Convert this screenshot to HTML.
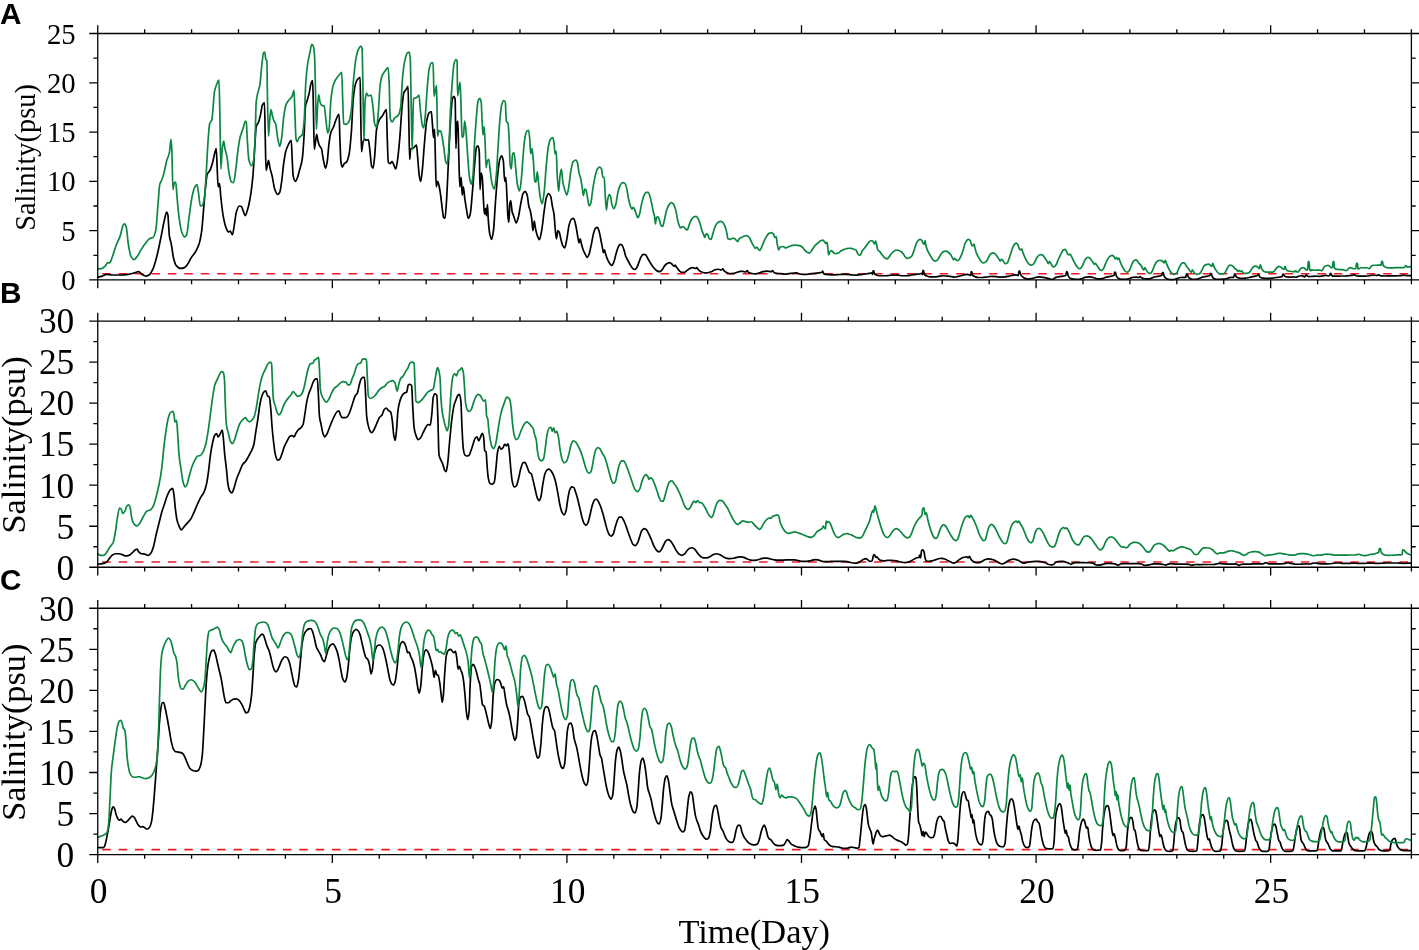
<!DOCTYPE html>
<html><head><meta charset="utf-8"><title>Salinity time series</title>
<style>html,body{margin:0;padding:0;background:#fff}svg{display:block}</style></head>
<body>
<svg width="1419" height="950" viewBox="0 0 1419 950">
<rect width="1419" height="950" fill="#fff"/>
<path d="M102.2,273.68 H1408.2" fill="none" stroke="#ed1c24" stroke-width="1.6" stroke-dasharray="8.5 7.922"/>
<path d="M97.75,277.18C99.27,276.81 100.80,276.54 102.32,276.08C103.69,275.67 105.06,274.44 106.43,274.44C108.25,274.44 110.08,274.99 111.91,274.99C114.64,274.99 117.38,274.99 120.12,274.99C122.86,274.99 125.60,274.74 128.34,274.44C130.16,274.24 131.99,273.55 133.81,273.07C135.45,272.64 137.10,271.70 138.74,271.70C139.84,271.70 140.93,273.84 142.03,274.44C143.40,275.19 144.76,276.08 146.13,276.08C147.32,276.08 148.51,275.30 149.69,274.44C150.79,273.64 151.88,271.37 152.98,268.96C154.35,265.96 155.72,260.60 157.09,255.27C158.46,249.95 159.82,242.72 161.19,236.11C162.29,230.81 163.38,224.13 164.48,219.68C165.21,216.70 165.94,212.01 166.67,212.01C167.04,212.01 167.40,212.99 167.77,214.20C168.31,216.01 168.86,232.51 169.41,236.11C170.05,240.30 170.69,241.08 171.33,244.32C172.06,248.02 172.79,255.15 173.52,258.01C174.43,261.59 175.34,264.65 176.25,265.68C177.62,267.22 178.99,268.42 180.36,268.42C181.73,268.42 183.10,268.07 184.47,267.59C185.66,267.18 186.84,265.17 188.03,263.49C189.12,261.93 190.22,259.16 191.31,257.46C192.68,255.34 194.05,254.25 195.42,251.99C196.61,250.02 197.79,247.96 198.98,244.32C199.89,241.52 200.81,237.13 201.72,230.63C202.36,226.08 203.00,216.02 203.64,208.72C204.28,201.42 204.91,192.57 205.55,186.82C206.10,181.88 206.65,175.94 207.20,174.50C208.11,172.08 209.02,172.21 209.93,170.39C210.85,168.56 211.76,165.44 212.67,162.17C213.40,159.56 214.13,155.15 214.86,152.59C215.32,150.99 215.78,148.48 216.23,148.48C216.51,148.48 216.78,159.43 217.05,164.91C217.42,172.21 217.78,186.82 218.15,186.82C218.61,186.82 219.06,183.53 219.52,183.53C219.97,183.53 220.43,193.65 220.89,197.77C221.71,205.18 222.53,212.57 223.35,216.94C224.26,221.79 225.18,225.59 226.09,227.89C226.82,229.73 227.55,232.00 228.28,232.00C228.92,232.00 229.56,231.18 230.20,231.18C230.93,231.18 231.66,234.74 232.39,234.74C233.03,234.74 233.67,228.69 234.30,225.15C235.03,221.11 235.76,213.72 236.50,211.46C237.41,208.64 238.32,205.98 239.23,205.98C239.96,205.98 240.69,206.19 241.42,206.53C242.06,206.83 242.70,209.97 243.34,211.46C243.98,212.95 244.62,215.57 245.26,215.57C245.99,215.57 246.72,212.41 247.45,210.09C248.36,207.19 249.27,203.03 250.19,197.77C251.10,192.51 252.01,185.73 252.92,175.86C253.56,168.96 254.20,155.17 254.84,145.74C255.30,139.01 255.75,128.18 256.21,126.58C256.94,124.01 257.67,124.28 258.40,122.47C259.04,120.89 259.68,118.28 260.32,115.62C261.05,112.59 261.78,106.01 262.51,104.67C263.15,103.50 263.79,102.48 264.42,102.48C264.70,102.48 264.97,126.22 265.25,137.53C265.52,148.84 265.79,170.39 266.07,170.39C266.52,170.39 266.98,166.79 267.44,164.91C267.80,163.40 268.17,160.26 268.53,160.26C268.99,160.26 269.45,165.60 269.90,167.65C270.63,170.93 271.36,172.75 272.09,175.86C273.00,179.76 273.92,187.14 274.83,189.56C275.74,191.97 276.66,194.48 277.57,194.48C278.30,194.48 279.03,193.56 279.76,192.29C280.40,191.19 281.04,185.74 281.68,181.34C282.41,176.32 283.14,167.20 283.87,162.17C284.51,157.78 285.14,153.49 285.78,151.22C286.70,147.97 287.61,146.09 288.52,144.37C289.43,142.66 290.35,140.27 291.26,140.27C291.53,140.27 291.81,151.57 292.08,156.70C292.45,163.53 292.81,174.12 293.18,175.86C293.91,179.35 294.64,181.34 295.37,181.34C296.10,181.34 296.83,179.04 297.56,177.23C298.20,175.65 298.84,172.79 299.47,170.39C300.39,166.95 301.30,165.18 302.21,159.43C302.85,155.41 303.49,145.12 304.13,134.79C304.59,127.41 305.04,108.72 305.50,106.04C306.05,102.82 306.59,102.45 307.14,100.56C307.78,98.36 308.42,96.37 309.06,93.72C309.79,90.69 310.52,84.47 311.25,82.76C311.71,81.70 312.16,80.57 312.62,80.57C312.89,80.57 313.17,98.91 313.44,110.15C313.71,121.38 313.99,149.30 314.26,149.30C314.63,149.30 314.99,145.21 315.36,143.01C315.81,140.25 316.27,134.24 316.73,134.24C317.09,134.24 317.46,138.73 317.82,140.27C318.37,142.58 318.92,144.64 319.46,145.74C320.10,147.03 320.74,147.02 321.38,148.48C322.02,149.94 322.66,156.42 323.30,159.43C324.03,162.88 324.76,168.20 325.49,168.20C326.04,168.20 326.58,165.08 327.13,162.17C327.77,158.78 328.41,147.65 329.05,143.01C329.69,138.36 330.32,134.00 330.96,132.05C331.88,129.27 332.79,128.83 333.70,126.58C334.29,125.12 334.88,122.54 335.48,121.10C336.66,118.21 337.85,114.25 339.04,114.25C339.31,114.25 339.58,130.62 339.86,137.53C340.22,146.74 340.59,159.84 340.95,162.17C341.41,165.08 341.87,167.10 342.32,167.10C342.96,167.10 343.60,164.15 344.24,163.54C344.97,162.85 345.70,162.91 346.43,162.17C347.34,161.25 348.25,158.26 349.17,153.96C349.90,150.52 350.63,141.33 351.36,132.05C352.00,123.93 352.64,105.52 353.27,99.19C354.01,91.96 354.74,86.73 355.47,84.13C356.10,81.86 356.74,80.27 357.38,79.48C358.29,78.35 359.21,77.29 360.12,77.29C360.30,77.29 360.49,100.06 360.67,110.15C360.94,125.28 361.22,151.77 361.49,151.77C361.95,151.77 362.40,144.87 362.86,143.01C363.32,141.14 363.77,138.90 364.23,138.90C364.87,138.90 365.51,140.27 366.14,140.27C366.87,140.27 367.60,139.72 368.34,139.72C368.88,139.72 369.43,146.87 369.98,151.22C370.53,155.57 371.07,164.98 371.62,166.28C372.08,167.36 372.53,168.20 372.99,168.20C373.54,168.20 374.09,161.80 374.63,156.70C375.27,150.75 375.91,133.04 376.55,129.31C377.46,123.99 378.38,121.44 379.29,119.73C380.38,117.68 381.48,117.14 382.57,115.62C383.85,113.85 385.13,109.60 386.41,109.60C386.68,109.60 386.96,130.04 387.23,137.53C387.59,147.51 387.96,161.62 388.32,162.17C388.96,163.14 389.60,163.54 390.24,163.54C390.88,163.54 391.52,161.63 392.16,161.63C392.71,161.63 393.25,163.78 393.80,164.91C394.44,166.23 395.08,169.02 395.72,169.02C396.36,169.02 397.00,163.66 397.63,159.43C398.36,154.60 399.09,145.98 399.82,137.53C400.55,129.07 401.29,114.67 402.02,107.41C402.65,101.06 403.29,93.75 403.93,92.35C404.66,90.75 405.39,90.67 406.12,89.61C406.76,88.68 407.40,86.32 408.04,86.32C408.31,86.32 408.59,111.66 408.86,123.84C409.13,136.01 409.41,159.43 409.68,159.43C410.05,159.43 410.41,148.48 410.78,148.48C411.23,148.48 411.69,148.48 412.15,148.48C412.88,148.48 413.61,147.65 414.34,147.11C415.07,146.58 415.80,145.20 416.53,145.20C416.89,145.20 417.26,152.68 417.62,156.70C418.17,162.73 418.72,172.65 419.27,175.86C419.72,178.54 420.18,181.34 420.64,181.34C421.18,181.34 421.73,175.08 422.28,170.39C423.01,164.13 423.74,151.12 424.47,143.01C425.20,134.89 425.93,124.79 426.66,121.10C427.48,116.95 428.30,113.74 429.12,112.88C429.85,112.13 430.58,111.52 431.31,111.52C431.68,111.52 432.04,119.51 432.41,123.84C432.77,128.16 433.14,137.53 433.50,137.53C433.87,137.53 434.24,129.31 434.60,129.31C434.87,129.31 435.15,149.87 435.42,159.43C435.70,169.00 435.97,186.82 436.24,186.82C436.70,186.82 437.16,181.34 437.61,181.34C438.07,181.34 438.53,183.66 438.98,185.45C439.53,187.60 440.08,191.27 440.62,195.03C441.17,198.79 441.72,204.77 442.27,208.72C442.72,212.01 443.18,216.98 443.64,217.49C444.09,217.99 444.55,218.31 445.01,218.31C445.46,218.31 445.92,209.62 446.37,203.25C447.01,194.32 447.65,177.69 448.29,164.91C449.02,150.31 449.75,131.66 450.48,121.10C451.12,111.86 451.76,101.29 452.40,99.19C452.86,97.70 453.31,96.46 453.77,96.46C454.22,96.46 454.68,97.28 455.14,99.19C455.41,100.34 455.68,148.48 455.96,148.48C456.23,148.48 456.51,125.15 456.78,123.84C457.14,122.08 457.51,121.10 457.88,121.10C458.15,121.10 458.42,141.76 458.70,151.22C459.06,163.84 459.43,186.82 459.79,186.82C460.25,186.82 460.70,177.23 461.16,177.23C461.53,177.23 461.89,195.03 462.26,195.03C462.62,195.03 462.99,186.82 463.35,186.82C463.81,186.82 464.26,194.44 464.72,197.77C465.27,201.76 465.82,205.58 466.36,208.72C467.00,212.39 467.64,218.31 468.28,218.31C468.92,218.31 469.56,216.42 470.20,214.20C470.93,211.66 471.66,200.41 472.39,192.29C473.12,184.18 473.85,172.67 474.58,164.91C475.22,158.13 475.86,148.22 476.50,147.11C476.95,146.32 477.41,145.74 477.86,145.74C478.32,145.74 478.78,147.60 479.23,151.22C479.51,153.39 479.78,189.56 480.05,189.56C480.42,189.56 480.78,173.13 481.15,173.13C481.52,173.13 481.88,174.95 482.25,177.23C482.61,179.52 482.98,191.69 483.34,197.77C483.71,203.85 484.07,214.20 484.44,214.20C484.80,214.20 485.17,208.72 485.53,208.72C485.81,208.72 486.08,215.57 486.35,215.57C486.72,215.57 487.08,204.62 487.45,204.62C487.72,204.62 488.00,216.04 488.27,219.68C488.73,225.73 489.18,231.12 489.64,233.37C490.28,236.51 490.92,239.39 491.56,239.39C492.19,239.39 492.83,235.05 493.47,230.63C494.11,226.20 494.75,211.78 495.39,203.25C496.12,193.50 496.85,182.71 497.58,175.86C498.31,169.02 499.04,161.58 499.77,159.43C500.41,157.56 501.05,155.88 501.69,155.88C502.23,155.88 502.78,158.01 503.33,160.80C503.79,163.13 504.24,181.34 504.70,181.34C505.06,181.34 505.43,177.23 505.79,177.23C506.16,177.23 506.52,188.49 506.89,195.03C507.25,201.58 507.62,213.37 507.98,216.94C508.26,219.61 508.53,222.41 508.81,222.41C509.17,222.41 509.54,205.23 509.90,203.25C510.18,201.76 510.45,200.51 510.72,200.51C511.18,200.51 511.64,209.49 512.09,211.46C512.73,214.22 513.37,215.15 514.01,216.94C514.74,218.98 515.47,222.96 516.20,222.96C516.93,222.96 517.66,219.61 518.39,216.94C519.21,213.94 520.03,207.26 520.85,203.25C521.58,199.68 522.31,194.97 523.04,193.66C523.68,192.52 524.32,191.47 524.96,191.47C525.69,191.47 526.42,193.07 527.15,195.03C527.70,196.51 528.25,203.55 528.80,205.98C529.34,208.42 529.89,209.09 530.44,211.46C530.89,213.43 531.35,216.22 531.81,219.68C532.17,222.44 532.54,230.63 532.90,230.63C533.36,230.63 533.82,221.04 534.27,221.04C534.64,221.04 535.00,226.04 535.37,227.89C535.91,230.67 536.46,233.22 537.01,234.74C537.83,237.01 538.65,239.66 539.47,239.66C540.20,239.66 540.93,234.54 541.66,230.63C542.49,226.23 543.31,217.14 544.13,211.46C544.86,206.41 545.59,199.88 546.32,197.77C547.05,195.66 547.78,193.66 548.51,193.66C549.24,193.66 549.97,194.85 550.70,196.40C551.25,197.56 551.80,203.04 552.34,205.98C552.89,208.93 553.44,210.28 553.99,214.20C554.44,217.46 554.90,226.45 555.36,230.63C555.72,233.97 556.09,238.84 556.45,238.84C556.91,238.84 557.36,230.63 557.82,230.63C558.28,230.63 558.73,231.28 559.19,232.00C559.74,232.87 560.28,236.73 560.83,238.84C561.47,241.31 562.11,244.58 562.75,245.69C563.39,246.80 564.03,247.88 564.67,247.88C565.40,247.88 566.13,242.47 566.86,238.84C567.59,235.21 568.32,227.74 569.05,225.15C569.87,222.24 570.69,219.65 571.51,219.13C572.24,218.66 572.97,218.31 573.70,218.31C574.48,218.31 575.25,223.06 576.02,226.52C576.57,228.97 577.12,233.16 577.67,236.11C578.12,238.56 578.58,242.95 579.04,242.95C579.40,242.95 579.77,238.84 580.13,238.84C580.59,238.84 581.04,242.66 581.50,244.32C582.05,246.32 582.60,248.36 583.14,249.80C583.78,251.47 584.42,252.72 585.06,253.90C585.79,255.26 586.52,257.46 587.25,257.46C587.89,257.46 588.53,255.55 589.17,253.90C589.90,252.02 590.63,247.73 591.36,244.32C592.09,240.91 592.82,235.83 593.55,233.37C594.19,231.21 594.83,229.04 595.47,228.44C596.10,227.84 596.74,227.34 597.38,227.34C598.02,227.34 598.66,229.89 599.30,232.00C599.85,233.80 600.39,237.47 600.94,240.21C601.40,242.49 601.85,244.78 602.31,247.06C602.68,248.88 603.04,252.53 603.41,252.53C603.77,252.53 604.14,249.80 604.50,249.80C604.87,249.80 605.23,252.70 605.60,253.90C606.24,256.00 606.87,257.93 607.51,259.38C608.24,261.04 608.97,262.54 609.70,263.49C610.34,264.32 610.98,265.40 611.62,265.40C612.35,265.40 613.08,263.68 613.81,262.12C614.54,260.55 615.27,256.39 616.00,253.90C616.73,251.41 617.46,248.48 618.19,247.06C618.83,245.82 619.47,244.32 620.11,244.32C620.75,244.32 621.39,244.68 622.03,245.14C622.67,245.61 623.30,247.95 623.94,249.80C624.58,251.64 625.22,255.06 625.86,256.64C626.59,258.45 627.32,259.38 628.05,260.75C628.78,262.12 629.51,263.64 630.24,264.86C630.97,266.07 631.70,267.50 632.43,268.14C633.16,268.79 633.89,269.51 634.62,269.51C635.35,269.51 636.08,268.54 636.81,267.59C637.54,266.65 638.27,263.94 639.00,262.12C639.73,260.29 640.46,257.68 641.19,256.64C641.92,255.60 642.65,254.45 643.38,254.45C644.11,254.45 644.84,254.55 645.58,254.73C646.21,254.88 646.85,256.93 647.49,258.01C648.31,259.40 649.13,260.77 649.96,262.12C650.69,263.32 651.42,264.65 652.15,265.68C652.88,266.71 653.61,267.65 654.34,268.42C655.25,269.38 656.16,270.47 657.08,270.88C657.99,271.29 658.90,271.70 659.81,271.70C660.64,271.70 661.46,270.44 662.28,269.51C663.10,268.58 663.92,266.61 664.74,265.68C665.56,264.75 666.39,263.89 667.21,263.49C668.03,263.09 668.85,262.67 669.67,262.67C670.40,262.67 671.13,263.47 671.86,264.04C672.59,264.60 673.32,266.23 674.05,266.23C674.42,266.23 674.78,265.13 675.15,265.13C675.70,265.13 676.24,266.84 676.79,267.59C677.52,268.59 678.25,269.67 678.98,270.33C679.89,271.16 680.81,272.25 681.72,272.25C682.63,272.25 683.55,272.25 684.46,272.25C685.37,272.25 686.28,270.97 687.20,270.33C688.11,269.69 689.02,268.80 689.93,268.42C690.85,268.03 691.76,267.59 692.67,267.59C693.59,267.59 694.50,268.42 695.41,268.42C695.87,268.42 696.32,267.59 696.78,267.59C697.24,267.59 697.69,269.03 698.15,269.51C699.06,270.47 699.97,271.27 700.89,271.70C701.98,272.22 703.08,272.80 704.17,272.80C705.27,272.80 706.36,272.80 707.46,272.80C708.65,272.80 709.83,272.14 711.02,271.70C712.21,271.26 713.39,270.49 714.58,270.06C715.49,269.73 716.40,269.24 717.32,269.24C718.05,269.24 718.78,269.38 719.51,269.51C720.05,269.61 720.60,270.06 721.15,270.06C721.70,270.06 722.25,268.96 722.79,268.96C723.25,268.96 723.71,270.45 724.16,270.88C724.98,271.65 725.81,272.17 726.63,272.52C727.81,273.03 729.00,273.62 730.19,273.62C731.37,273.62 732.56,273.49 733.75,273.35C734.84,273.21 735.94,272.56 737.03,272.25C738.13,271.94 739.22,271.43 740.32,271.43C741.23,271.43 742.14,271.43 743.06,271.43C743.97,271.43 744.88,271.98 745.79,271.98C746.25,271.98 746.71,270.61 747.16,270.61C747.62,270.61 748.08,272.28 748.53,272.52C749.45,273.01 750.36,273.16 751.27,273.35C752.46,273.59 753.64,273.89 754.83,273.89C756.20,273.89 757.57,273.41 758.94,273.07C760.31,272.73 761.68,271.99 763.04,271.70C764.23,271.45 765.42,271.15 766.60,271.15C767.52,271.15 768.43,271.32 769.34,271.43C769.98,271.50 770.62,271.70 771.26,271.70C771.72,271.70 772.17,270.61 772.63,270.61C773.09,270.61 773.54,272.28 774.00,272.52C774.91,273.01 775.82,273.24 776.74,273.35C778.11,273.50 779.47,273.50 780.84,273.62C782.21,273.74 783.58,274.17 784.95,274.17C786.32,274.17 787.69,273.80 789.06,273.62C790.43,273.44 791.80,273.20 793.17,273.07C794.35,272.96 795.54,272.80 796.73,272.80C797.36,272.80 798.00,273.44 798.64,273.62C800.01,274.01 801.38,274.44 802.75,274.44C804.12,274.44 805.49,274.44 806.86,274.44C808.23,274.44 809.59,273.79 810.96,273.62C812.99,273.37 815.02,273.32 817.05,273.10C818.22,272.96 819.40,272.79 820.57,272.57C821.04,272.48 821.51,272.43 821.98,272.21C822.22,272.10 822.45,271.16 822.68,271.16C822.98,271.16 823.27,273.23 823.57,273.45C824.33,274.02 825.09,274.20 825.86,274.33C827.03,274.52 828.21,274.61 829.38,274.68C830.85,274.77 832.32,274.86 833.78,274.86C835.25,274.86 836.72,274.76 838.19,274.68C839.66,274.60 841.13,274.33 842.59,274.33C844.06,274.33 845.53,274.33 847.00,274.33C848.47,274.33 849.93,274.72 851.40,274.86C852.87,275.00 854.34,275.21 855.81,275.21C857.28,275.21 858.74,274.88 860.21,274.68C861.68,274.48 863.15,274.18 864.62,273.98C866.08,273.77 867.55,273.67 869.02,273.45C869.90,273.31 870.78,272.92 871.66,272.92C871.96,272.92 872.25,274.33 872.54,274.33C872.72,274.33 872.90,270.80 873.07,270.80C873.31,270.80 873.54,270.80 873.78,270.80C874.01,270.80 874.25,273.73 874.48,273.98C875.30,274.84 876.13,275.01 876.95,275.21C878.12,275.49 879.30,275.74 880.47,275.74C881.94,275.74 883.41,275.74 884.88,275.74C886.34,275.74 887.81,275.50 889.28,275.39C890.75,275.27 892.22,275.03 893.69,275.03C895.15,275.03 896.62,275.12 898.09,275.21C899.56,275.30 901.03,275.74 902.49,275.74C903.96,275.74 905.43,275.74 906.90,275.74C908.37,275.74 909.84,275.27 911.30,275.03C912.77,274.80 914.24,274.51 915.71,274.33C916.88,274.19 918.06,274.14 919.23,273.98C920.05,273.86 920.88,273.45 921.70,273.45C921.93,273.45 922.17,274.68 922.40,274.68C922.58,274.68 922.76,270.45 922.93,270.45C923.17,270.45 923.40,270.58 923.64,270.80C923.81,270.97 923.99,273.67 924.16,273.98C924.87,275.19 925.57,275.41 926.28,275.74C927.45,276.28 928.63,276.71 929.80,276.79C931.27,276.90 932.74,276.97 934.21,276.97C935.68,276.97 937.14,276.64 938.61,276.44C940.08,276.24 941.55,275.74 943.02,275.74C944.48,275.74 945.95,275.95 947.42,276.09C948.89,276.23 950.36,276.39 951.83,276.62C952.71,276.75 953.59,277.15 954.47,277.15C955.64,277.15 956.82,276.70 957.99,276.44C959.17,276.18 960.34,275.86 961.52,275.56C962.69,275.27 963.86,274.88 965.04,274.68C965.92,274.53 966.80,274.33 967.68,274.33C968.27,274.33 968.86,274.79 969.44,275.03C969.85,275.20 970.27,275.56 970.68,275.56C970.85,275.56 971.03,271.69 971.21,271.69C971.44,271.69 971.67,271.91 971.91,272.21C972.14,272.51 972.38,274.90 972.61,275.21C973.32,276.13 974.02,276.35 974.73,276.62C975.90,277.06 977.08,277.50 978.25,277.50C979.72,277.50 981.19,277.50 982.66,277.50C984.12,277.50 985.59,277.15 987.06,276.97C988.53,276.79 990.00,276.44 991.47,276.44C992.93,276.44 994.40,276.53 995.87,276.62C997.34,276.71 998.81,277.15 1000.27,277.15C1001.74,277.15 1003.21,277.07 1004.68,276.97C1006.15,276.87 1007.62,276.38 1009.08,276.09C1010.55,275.80 1012.02,275.44 1013.49,275.21C1014.37,275.07 1015.25,274.86 1016.13,274.86C1016.84,274.86 1017.54,275.56 1018.25,275.56C1018.48,275.56 1018.72,271.16 1018.95,271.16C1019.24,271.16 1019.54,271.16 1019.83,271.16C1020.07,271.16 1020.30,273.81 1020.54,274.33C1021.12,275.61 1021.71,276.09 1022.30,276.62C1023.18,277.41 1024.06,278.10 1024.94,278.38C1026.11,278.75 1027.29,279.09 1028.46,279.09C1029.64,279.09 1030.81,278.79 1031.99,278.56C1033.16,278.32 1034.34,277.73 1035.51,277.50C1036.69,277.26 1037.86,276.97 1039.03,276.97C1040.21,276.97 1041.38,277.18 1042.56,277.32C1043.73,277.46 1044.91,277.62 1046.08,277.85C1047.26,278.09 1048.43,278.70 1049.61,278.91C1050.49,279.07 1051.37,279.26 1052.25,279.26C1053.13,279.26 1054.01,278.89 1054.89,278.20C1055.02,278.10 1055.15,277.56 1055.29,277.50C1056.17,277.11 1057.05,277.15 1057.93,276.97C1058.81,276.79 1059.69,276.58 1060.57,276.44C1061.45,276.30 1062.33,276.26 1063.21,276.09C1064.09,275.92 1064.98,275.87 1065.86,275.21C1066.09,275.03 1066.33,271.69 1066.56,271.69C1066.85,271.69 1067.15,271.89 1067.44,272.21C1067.68,272.47 1067.91,275.20 1068.15,275.74C1068.68,276.94 1069.20,277.48 1069.73,277.85C1070.50,278.39 1071.26,278.78 1072.02,278.91C1073.20,279.11 1074.37,279.26 1075.55,279.26C1076.72,279.26 1077.90,279.26 1079.07,279.26C1079.95,279.26 1080.83,279.11 1081.71,278.91C1082.30,278.78 1082.89,278.07 1083.47,277.85C1084.36,277.52 1085.24,277.22 1086.12,277.15C1087.29,277.05 1088.47,276.97 1089.64,276.97C1090.82,276.97 1091.99,277.26 1093.16,277.50C1093.93,277.66 1094.69,277.96 1095.45,278.20C1096.16,278.43 1096.86,278.91 1097.57,278.91C1098.74,278.91 1099.92,278.91 1101.09,278.91C1101.97,278.91 1102.85,278.50 1103.74,278.20C1104.50,277.94 1105.26,277.35 1106.03,277.15C1107.02,276.89 1108.02,276.81 1109.02,276.62C1109.90,276.45 1110.78,276.30 1111.66,276.09C1112.43,275.90 1113.19,275.91 1113.95,275.39C1114.19,275.23 1114.42,272.21 1114.66,272.21C1114.95,272.21 1115.25,272.34 1115.54,272.57C1115.77,272.74 1116.01,275.22 1116.24,275.74C1116.77,276.91 1117.30,277.47 1117.83,277.85C1118.71,278.49 1119.59,279.00 1120.47,279.09C1121.65,279.20 1122.82,279.26 1124.00,279.26C1125.17,279.26 1126.34,279.19 1127.52,279.09C1128.40,279.01 1129.28,278.50 1130.16,278.20C1131.04,277.91 1131.92,277.40 1132.80,277.32C1133.98,277.22 1135.15,277.15 1136.33,277.15C1137.21,277.15 1138.09,277.50 1138.97,277.50C1139.38,277.50 1139.79,276.62 1140.20,276.62C1140.67,276.62 1141.14,277.61 1141.61,277.85C1142.49,278.30 1143.38,278.65 1144.26,278.73C1145.43,278.84 1146.61,278.91 1147.78,278.91C1148.95,278.91 1150.13,278.52 1151.30,278.20C1152.18,277.97 1153.07,277.38 1153.95,277.15C1154.83,276.91 1155.71,276.79 1156.59,276.62C1157.47,276.44 1158.35,276.27 1159.23,276.09C1160.05,275.92 1160.88,275.96 1161.70,275.56C1161.93,275.45 1162.17,272.57 1162.40,272.57C1162.70,272.57 1162.99,272.57 1163.28,272.57C1163.52,272.57 1163.75,275.18 1163.99,275.74C1164.46,276.86 1164.93,277.46 1165.40,277.85C1166.28,278.58 1167.16,279.11 1168.04,279.26C1169.22,279.47 1170.39,279.61 1171.56,279.61C1172.74,279.61 1173.91,279.45 1175.09,279.26C1175.97,279.12 1176.85,278.49 1177.73,278.20C1178.61,277.92 1179.49,277.58 1180.37,277.50C1181.43,277.40 1182.49,277.32 1183.54,277.32C1184.25,277.32 1184.95,277.50 1185.66,277.50C1185.95,277.50 1186.25,273.98 1186.54,273.98C1186.83,273.98 1187.13,274.32 1187.42,274.68C1187.71,275.04 1188.01,276.59 1188.30,276.97C1188.89,277.73 1189.48,278.10 1190.06,278.38C1190.94,278.81 1191.83,279.26 1192.71,279.26C1193.88,279.26 1195.06,279.26 1196.23,279.26C1197.40,279.26 1198.58,278.61 1199.75,278.20C1200.63,277.90 1201.52,277.38 1202.40,277.15C1203.28,276.91 1204.16,276.79 1205.04,276.62C1205.92,276.44 1206.80,276.30 1207.68,276.09C1208.44,275.90 1209.21,275.88 1209.97,275.39C1210.21,275.23 1210.44,273.45 1210.68,273.45C1210.97,273.45 1211.26,273.89 1211.56,274.33C1211.85,274.77 1212.14,276.51 1212.44,276.97C1212.91,277.70 1213.38,278.13 1213.85,278.38C1214.73,278.84 1215.61,279.26 1216.49,279.26C1217.67,279.26 1218.84,279.26 1220.01,279.26C1221.19,279.26 1222.36,279.17 1223.54,279.09C1224.42,279.02 1225.30,278.90 1226.18,278.73C1227.06,278.57 1227.94,278.07 1228.82,277.85C1229.70,277.63 1230.58,277.32 1231.47,277.32C1232.23,277.32 1232.99,277.50 1233.76,277.50C1233.99,277.50 1234.23,273.98 1234.46,273.98C1234.75,273.98 1235.05,274.34 1235.34,274.68C1235.64,275.03 1235.93,276.34 1236.22,276.62C1236.99,277.34 1237.75,277.67 1238.51,277.85C1239.69,278.14 1240.86,278.38 1242.04,278.38C1243.21,278.38 1244.39,278.30 1245.56,278.20C1246.73,278.11 1247.91,277.76 1249.08,277.50C1250.26,277.24 1251.43,276.88 1252.61,276.62C1253.49,276.42 1254.37,276.28 1255.25,276.09C1256.01,275.93 1256.78,275.90 1257.54,275.56C1257.83,275.43 1258.13,274.33 1258.42,274.33C1258.72,274.33 1259.01,275.66 1259.30,276.09C1259.71,276.70 1260.12,277.31 1260.54,277.50C1261.42,277.91 1262.30,278.14 1263.18,278.20C1264.65,278.31 1266.11,278.38 1267.58,278.38C1269.05,278.38 1270.52,278.30 1271.99,278.20C1273.46,278.11 1274.92,277.73 1276.39,277.50C1277.57,277.32 1278.74,277.19 1279.92,276.97C1280.68,276.83 1281.44,276.83 1282.21,276.44C1282.44,276.32 1282.68,273.98 1282.91,273.98C1283.20,273.98 1283.50,274.37 1283.79,274.68C1284.09,274.99 1284.38,275.89 1284.67,276.09C1285.44,276.61 1286.20,276.90 1286.96,276.97C1288.14,277.08 1289.31,277.15 1290.49,277.15C1291.66,277.15 1292.84,276.79 1294.01,276.79C1294.64,276.79 1295.28,277.27 1295.91,277.27C1296.67,277.27 1297.42,276.59 1298.18,276.36C1299.09,276.09 1300.00,275.73 1300.91,275.73C1301.67,275.73 1302.42,275.95 1303.18,276.18C1303.64,276.32 1304.09,276.91 1304.55,276.91C1304.85,276.91 1305.15,276.11 1305.45,275.73C1305.70,275.42 1305.94,274.82 1306.18,274.82C1306.55,274.82 1306.91,275.80 1307.27,276.00C1307.88,276.33 1308.48,276.64 1309.09,276.64C1310.00,276.64 1310.91,276.43 1311.82,276.36C1313.03,276.28 1314.24,276.18 1315.45,276.18C1316.67,276.18 1317.88,276.36 1319.09,276.36C1319.85,276.36 1320.61,276.27 1321.36,276.18C1322.12,276.10 1322.88,275.83 1323.64,275.73C1324.55,275.60 1325.45,275.45 1326.36,275.45C1327.12,275.45 1327.88,276.00 1328.64,276.00C1329.03,276.00 1329.42,275.71 1329.82,275.27C1330.03,275.04 1330.24,273.27 1330.45,273.27C1330.67,273.27 1330.88,273.62 1331.09,273.91C1331.33,274.24 1331.58,275.27 1331.82,275.45C1332.42,275.91 1333.03,276.18 1333.64,276.18C1334.85,276.18 1336.06,276.18 1337.27,276.18C1338.48,276.18 1339.70,276.00 1340.91,276.00C1342.12,276.00 1343.33,276.00 1344.55,276.00C1345.76,276.00 1346.97,275.82 1348.18,275.73C1349.39,275.64 1350.61,275.62 1351.82,275.45C1352.42,275.37 1353.03,274.82 1353.64,274.82C1354.00,274.82 1354.36,274.82 1354.73,274.82C1355.12,274.82 1355.52,275.59 1355.91,275.73C1356.67,275.98 1357.42,276.18 1358.18,276.18C1359.70,276.18 1361.21,276.18 1362.73,276.18C1364.24,276.18 1365.76,276.10 1367.27,276.00C1368.48,275.92 1369.70,275.55 1370.91,275.45C1372.12,275.36 1373.33,275.27 1374.55,275.27C1375.45,275.27 1376.36,275.45 1377.27,275.45C1377.73,275.45 1378.18,274.64 1378.64,274.64C1378.94,274.64 1379.24,275.10 1379.55,275.27C1380.00,275.53 1380.45,275.89 1380.91,275.91C1382.42,275.98 1383.94,276.00 1385.45,276.00C1386.97,276.00 1388.48,275.91 1390.00,275.91C1391.52,275.91 1393.03,275.91 1394.55,275.91C1396.06,275.91 1397.58,275.81 1399.09,275.73C1400.15,275.67 1401.21,275.60 1402.27,275.45C1402.73,275.39 1403.18,275.09 1403.64,275.09C1404.09,275.09 1404.55,275.41 1405.00,275.45C1406.06,275.56 1407.12,275.64 1408.18,275.64C1409.15,275.64 1410.12,275.64 1411.09,275.64" fill="none" stroke="#000" stroke-width="1.7" stroke-linejoin="round" stroke-linecap="round"/>
<path d="M97.75,268.96C99.27,268.78 100.80,268.75 102.32,268.42C103.23,268.21 104.15,267.13 105.06,266.23C105.97,265.32 106.89,262.67 107.80,262.67C108.44,262.67 109.08,262.94 109.72,262.94C110.45,262.94 111.18,259.86 111.91,258.01C113.27,254.54 114.64,249.28 116.01,245.69C117.38,242.10 118.75,239.97 120.12,236.11C121.22,233.02 122.31,225.63 123.41,224.60C123.86,224.18 124.32,223.78 124.78,223.78C125.32,223.78 125.87,225.80 126.42,227.89C127.06,230.33 127.70,240.48 128.34,244.32C129.25,249.81 130.16,255.03 131.07,256.64C131.99,258.26 132.90,259.65 133.81,259.65C134.91,259.65 136.00,257.96 137.10,256.64C138.28,255.21 139.47,252.25 140.66,250.34C142.03,248.14 143.40,246.05 144.76,244.32C146.59,242.01 148.42,239.10 150.24,238.30C151.15,237.89 152.07,237.96 152.98,237.47C153.89,236.99 154.80,234.45 155.72,230.63C156.45,227.57 157.18,214.27 157.91,205.98C158.55,198.74 159.19,186.38 159.82,184.08C160.46,181.77 161.10,181.59 161.74,179.97C162.47,178.12 163.20,175.80 163.93,173.13C164.84,169.78 165.76,164.09 166.67,160.80C167.58,157.52 168.50,156.73 169.41,152.59C169.96,150.11 170.50,139.45 171.05,139.45C171.33,139.45 171.60,145.76 171.87,151.22C172.24,158.50 172.60,189.56 172.97,189.56C173.42,189.56 173.88,183.05 174.34,182.71C174.79,182.37 175.25,182.16 175.71,182.16C176.16,182.16 176.62,192.89 177.08,197.77C177.71,204.60 178.35,212.32 178.99,216.94C179.91,223.53 180.82,229.52 181.73,232.00C182.64,234.47 183.56,236.93 184.47,236.93C185.20,236.93 185.93,236.00 186.66,234.74C187.48,233.31 188.30,222.78 189.12,216.94C190.04,210.45 190.95,202.27 191.86,197.77C192.77,193.27 193.69,189.05 194.60,187.36C195.33,186.02 196.06,184.63 196.79,184.63C197.34,184.63 197.89,189.22 198.43,192.29C199.07,195.88 199.71,205.98 200.35,205.98C200.99,205.98 201.63,205.77 202.27,205.44C203.00,205.06 203.73,201.93 204.46,197.77C205.10,194.13 205.74,180.34 206.37,170.39C207.01,160.43 207.65,145.48 208.29,137.53C208.75,131.85 209.20,125.36 209.66,123.84C210.39,121.40 211.12,122.00 211.85,119.73C212.76,116.90 213.68,95.24 214.59,90.98C215.50,86.72 216.41,84.67 217.33,82.76C217.88,81.62 218.42,80.03 218.97,80.03C219.24,80.03 219.52,98.32 219.79,110.15C220.16,125.92 220.52,169.02 220.89,169.02C221.34,169.02 221.80,152.11 222.26,148.48C222.71,144.86 223.17,141.09 223.63,141.09C224.08,141.09 224.54,146.29 224.99,148.48C225.63,151.55 226.27,153.23 226.91,156.70C227.64,160.66 228.37,169.32 229.10,173.13C229.83,176.94 230.56,181.39 231.29,181.89C232.02,182.39 232.75,182.71 233.48,182.71C234.21,182.71 234.94,175.39 235.67,170.39C236.40,165.39 237.13,156.54 237.86,151.22C238.59,145.90 239.32,140.53 240.05,137.53C240.97,133.78 241.88,132.05 242.79,129.31C243.71,126.58 244.62,121.10 245.53,121.10C245.81,121.10 246.08,121.63 246.35,122.47C246.63,123.31 246.90,133.23 247.17,137.53C247.72,146.13 248.27,157.15 248.82,159.43C249.73,163.24 250.64,165.73 251.56,165.73C252.29,165.73 253.02,163.20 253.75,159.43C254.20,157.08 254.66,147.44 255.12,137.53C255.48,129.60 255.85,105.73 256.21,101.93C256.67,97.19 257.12,95.86 257.58,93.72C258.31,90.29 259.04,89.49 259.77,85.50C260.50,81.52 261.23,69.38 261.96,63.60C262.51,59.26 263.06,53.13 263.60,52.64C263.97,52.32 264.33,52.10 264.70,52.10C265.06,52.10 265.43,58.72 265.79,59.49C266.16,60.26 266.52,59.86 266.89,60.86C267.07,61.36 267.25,87.68 267.44,96.46C267.80,114.00 268.17,136.16 268.53,136.16C268.90,136.16 269.26,124.94 269.63,121.10C270.08,116.30 270.54,109.60 271.00,109.60C271.45,109.60 271.91,113.88 272.37,115.62C272.91,117.71 273.46,119.88 274.01,121.10C274.56,122.32 275.10,122.38 275.65,123.84C276.29,125.54 276.93,134.23 277.57,137.53C278.30,141.30 279.03,146.29 279.76,146.29C280.40,146.29 281.04,141.51 281.68,137.53C282.41,132.99 283.14,120.49 283.87,115.62C284.60,110.76 285.33,106.51 286.06,104.67C286.88,102.60 287.70,101.70 288.52,100.56C289.71,98.93 290.89,98.56 292.08,96.46C292.72,95.32 293.36,90.43 294.00,90.43C294.27,90.43 294.55,103.45 294.82,110.15C295.18,119.08 295.55,135.15 295.91,137.53C296.28,139.91 296.64,141.64 297.01,141.64C297.74,141.64 298.47,138.44 299.20,137.53C300.20,136.28 301.21,136.51 302.21,134.79C302.85,133.70 303.49,128.18 304.13,121.10C304.68,115.03 305.22,90.51 305.77,82.76C306.41,73.73 307.05,67.89 307.69,63.60C308.42,58.69 309.15,56.01 309.88,52.64C310.52,49.70 311.16,44.43 311.80,44.43C312.25,44.43 312.71,45.00 313.17,45.80C313.62,46.60 314.08,49.86 314.53,55.38C314.90,59.80 315.26,82.30 315.63,96.46C315.90,107.07 316.18,129.31 316.45,129.31C316.82,129.31 317.18,112.81 317.55,107.41C317.91,102.00 318.28,94.54 318.64,94.54C319.10,94.54 319.55,100.58 320.01,101.93C320.56,103.55 321.11,104.89 321.65,105.22C322.48,105.71 323.30,105.49 324.12,106.04C324.76,106.46 325.40,116.32 326.04,121.10C326.58,125.20 327.13,132.87 327.68,132.87C328.13,132.87 328.59,131.27 329.05,129.31C329.69,126.57 330.32,104.96 330.96,99.19C331.69,92.60 332.42,88.01 333.15,85.50C333.93,82.84 334.70,81.38 335.48,80.03C336.85,77.63 338.21,76.09 339.58,74.55C340.31,73.73 341.04,72.36 341.77,72.36C342.05,72.36 342.32,89.04 342.60,96.46C342.96,106.35 343.33,123.64 343.69,123.84C344.42,124.24 345.15,124.39 345.88,124.39C346.98,124.39 348.07,123.01 349.17,121.10C349.90,119.83 350.63,115.61 351.36,110.15C352.00,105.36 352.64,89.92 353.27,82.76C354.19,72.55 355.10,62.72 356.01,58.12C356.93,53.52 357.84,50.06 358.75,48.54C359.48,47.32 360.21,46.07 360.94,46.07C361.31,46.07 361.67,46.91 362.04,48.54C362.31,49.76 362.58,70.06 362.86,82.76C363.22,99.70 363.59,140.81 363.95,140.81C364.32,140.81 364.68,106.00 365.05,101.93C365.51,96.85 365.96,93.17 366.42,93.17C367.06,93.17 367.70,95.91 368.34,95.91C369.25,95.91 370.16,95.09 371.07,95.09C371.71,95.09 372.35,102.38 372.99,107.41C373.54,111.72 374.09,122.21 374.63,123.84C375.27,125.74 375.91,127.12 376.55,127.12C377.19,127.12 377.83,117.31 378.47,110.15C379.01,104.01 379.56,89.66 380.11,85.50C380.75,80.65 381.39,77.59 382.03,75.92C382.94,73.53 383.85,72.48 384.76,71.26C385.86,69.80 386.96,67.70 388.05,67.70C388.42,67.70 388.78,75.71 389.15,82.76C389.51,89.82 389.88,116.97 390.24,118.36C390.88,120.80 391.52,121.92 392.16,121.92C392.89,121.92 393.62,119.17 394.35,118.36C395.72,116.84 397.09,116.98 398.46,115.08C399.19,114.06 399.92,111.65 400.65,107.41C401.29,103.70 401.92,83.83 402.56,77.29C403.29,69.82 404.02,64.10 404.75,60.86C405.58,57.22 406.40,53.96 407.22,53.19C407.86,52.59 408.50,52.10 409.13,52.10C409.50,52.10 409.86,54.39 410.23,58.12C410.50,60.92 410.78,83.38 411.05,96.46C411.42,113.89 411.78,150.12 412.15,150.12C412.60,150.12 413.06,98.95 413.52,98.65C414.43,98.04 415.34,98.25 416.25,97.82C417.17,97.40 418.08,95.09 418.99,95.09C419.45,95.09 419.91,105.92 420.36,110.15C421.00,116.06 421.64,123.23 422.28,125.21C422.73,126.62 423.19,127.95 423.65,127.95C424.19,127.95 424.74,120.97 425.29,115.62C425.93,109.39 426.57,95.76 427.21,88.24C427.85,80.72 428.48,71.96 429.12,69.07C429.85,65.77 430.58,62.78 431.31,62.78C431.86,62.78 432.41,62.78 432.96,62.78C433.14,62.78 433.32,69.44 433.50,74.55C433.69,79.66 433.87,96.46 434.05,96.46C434.87,96.46 435.70,85.50 436.52,85.50C436.70,85.50 436.88,101.71 437.06,110.15C437.25,118.58 437.43,136.16 437.61,136.16C438.07,136.16 438.53,130.68 438.98,130.68C439.62,130.68 440.26,130.98 440.90,131.50C441.35,131.88 441.81,135.12 442.27,137.53C442.81,140.41 443.36,144.71 443.91,148.48C444.55,152.88 445.19,160.73 445.83,162.17C446.28,163.20 446.74,164.09 447.20,164.09C447.74,164.09 448.29,155.88 448.84,148.48C449.39,141.09 449.93,120.48 450.48,110.15C451.12,98.09 451.76,87.79 452.40,80.03C452.95,73.37 453.49,65.56 454.04,63.60C454.68,61.30 455.32,59.49 455.96,59.49C456.32,59.49 456.69,59.86 457.05,60.86C457.24,61.36 457.42,95.91 457.60,95.91C458.42,95.91 459.24,82.22 460.07,82.22C460.43,82.22 460.80,99.53 461.16,110.15C461.43,118.11 461.71,137.53 461.98,137.53C462.44,137.53 462.90,137.00 463.35,136.16C463.81,135.32 464.26,121.10 464.72,121.10C465.18,121.10 465.63,127.33 466.09,132.05C466.64,137.71 467.19,149.57 467.73,156.70C468.37,165.01 469.01,175.35 469.65,178.60C470.20,181.39 470.74,184.08 471.29,184.08C471.84,184.08 472.39,180.25 472.94,175.86C473.48,171.48 474.03,152.17 474.58,143.01C475.22,132.31 475.86,122.72 476.50,115.62C477.04,109.54 477.59,101.84 478.14,100.56C478.69,99.29 479.23,98.37 479.78,98.37C480.24,98.37 480.69,99.77 481.15,101.93C481.52,103.66 481.88,118.05 482.25,123.84C482.52,128.18 482.79,134.79 483.07,134.79C483.43,134.79 483.80,126.58 484.16,126.58C484.53,126.58 484.89,137.95 485.26,145.74C485.53,151.59 485.81,167.65 486.08,167.65C486.54,167.65 486.99,161.56 487.45,160.80C487.90,160.04 488.36,159.43 488.82,159.43C489.27,159.43 489.73,166.93 490.19,170.39C490.83,175.22 491.46,181.87 492.10,184.08C492.83,186.61 493.56,189.01 494.29,189.01C494.93,189.01 495.57,181.96 496.21,175.86C496.85,169.76 497.49,155.54 498.13,145.74C498.67,137.34 499.22,127.12 499.77,121.10C500.41,114.08 501.05,106.86 501.69,104.67C502.33,102.48 502.96,100.56 503.60,100.56C504.15,100.56 504.70,101.00 505.25,101.93C505.61,102.55 505.98,120.14 506.34,121.10C506.89,122.54 507.44,121.89 507.98,123.29C508.35,124.22 508.71,131.28 509.08,137.53C509.45,143.77 509.81,162.53 510.18,164.91C510.54,167.29 510.91,169.02 511.27,169.02C511.73,169.02 512.18,154.80 512.64,153.96C513.10,153.12 513.55,152.59 514.01,152.59C514.56,152.59 515.10,162.60 515.65,167.65C516.29,173.54 516.93,182.66 517.57,185.45C518.21,188.24 518.85,190.92 519.49,190.92C520.03,190.92 520.58,185.69 521.13,181.34C521.77,176.26 522.41,163.88 523.04,156.70C523.68,149.51 524.32,140.92 524.96,137.53C525.51,134.62 526.06,132.06 526.60,131.50C527.24,130.86 527.88,130.41 528.52,130.41C528.89,130.41 529.25,134.22 529.62,137.53C529.98,140.84 530.35,153.96 530.71,153.96C531.17,153.96 531.62,148.48 532.08,148.48C532.54,148.48 532.99,156.85 533.45,162.17C533.91,167.50 534.36,180.71 534.82,181.34C535.18,181.84 535.55,182.16 535.91,182.16C536.37,182.16 536.83,171.76 537.28,171.76C537.74,171.76 538.20,180.12 538.65,184.08C539.20,188.82 539.75,195.24 540.30,197.77C540.93,200.72 541.57,203.79 542.21,203.79C542.85,203.79 543.49,197.43 544.13,192.29C544.86,186.42 545.59,172.43 546.32,164.91C547.05,157.39 547.78,149.11 548.51,145.74C549.24,142.38 549.97,139.66 550.70,138.90C551.43,138.14 552.16,137.53 552.89,137.53C553.26,137.53 553.62,140.57 553.99,143.01C554.35,145.44 554.72,153.96 555.08,153.96C555.45,153.96 555.81,151.22 556.18,151.22C556.54,151.22 556.91,170.27 557.27,175.86C557.73,182.86 558.19,191.47 558.64,191.47C559.10,191.47 559.55,179.04 560.01,175.86C560.47,172.69 560.92,169.02 561.38,169.02C561.84,169.02 562.29,178.64 562.75,181.34C563.39,185.13 564.03,187.53 564.67,189.56C565.40,191.87 566.13,195.03 566.86,195.03C567.50,195.03 568.13,190.28 568.77,186.82C569.50,182.86 570.23,174.20 570.96,170.39C571.69,166.58 572.42,162.38 573.15,161.63C574.11,160.63 575.07,159.98 576.02,159.98C576.57,159.98 577.12,161.70 577.67,163.54C578.12,165.08 578.58,171.21 579.04,173.13C579.49,175.04 579.95,175.44 580.41,177.23C580.95,179.38 581.50,183.47 582.05,186.82C582.50,189.61 582.96,195.58 583.42,195.58C583.87,195.58 584.33,189.01 584.79,189.01C585.15,189.01 585.52,189.24 585.88,189.56C586.43,190.03 586.98,195.03 587.52,197.77C588.07,200.51 588.62,205.98 589.17,205.98C589.72,205.98 590.26,204.70 590.81,203.25C591.45,201.55 592.09,193.57 592.73,189.56C593.55,184.39 594.37,179.13 595.19,175.86C595.92,172.96 596.65,170.02 597.38,169.02C598.11,168.02 598.84,167.10 599.57,167.10C600.21,167.10 600.85,167.88 601.49,169.02C601.95,169.83 602.40,177.23 602.86,177.23C603.32,177.23 603.77,177.23 604.23,177.23C604.50,177.23 604.78,188.07 605.05,192.29C605.51,199.34 605.96,210.09 606.42,210.09C606.87,210.09 607.33,201.32 607.79,199.14C608.24,196.96 608.70,194.48 609.16,194.48C609.61,194.48 610.07,195.36 610.53,196.40C610.98,197.44 611.44,203.14 611.89,204.62C612.53,206.69 613.17,208.72 613.81,208.72C614.45,208.72 615.09,206.58 615.73,204.62C616.46,202.37 617.19,195.23 617.92,192.29C618.65,189.36 619.38,186.66 620.11,185.45C620.93,184.09 621.75,182.71 622.57,182.71C623.30,182.71 624.03,182.92 624.76,183.26C625.40,183.55 626.04,185.88 626.68,188.19C627.23,190.16 627.78,195.16 628.32,197.77C628.96,200.82 629.60,203.57 630.24,205.44C630.79,207.04 631.34,209.27 631.88,209.27C632.34,209.27 632.80,207.35 633.25,207.35C633.71,207.35 634.17,208.41 634.62,209.27C635.17,210.30 635.72,212.82 636.27,214.20C636.81,215.58 637.36,217.76 637.91,217.76C638.46,217.76 639.00,215.82 639.55,214.20C640.28,212.03 641.01,206.25 641.74,203.25C642.47,200.24 643.20,197.11 643.93,195.58C644.66,194.05 645.39,192.29 646.12,192.29C646.85,192.29 647.58,192.29 648.31,192.29C648.86,192.29 649.41,194.69 649.96,196.40C650.50,198.11 651.05,200.76 651.60,203.25C652.15,205.74 652.69,209.04 653.24,211.46C653.70,213.48 654.15,214.40 654.61,216.94C654.88,218.46 655.16,223.78 655.43,223.78C655.80,223.78 656.16,217.77 656.53,217.49C656.98,217.13 657.44,216.94 657.90,216.94C658.35,216.94 658.81,218.54 659.27,219.68C659.81,221.03 660.36,224.42 660.91,225.15C661.46,225.88 662.00,226.52 662.55,226.52C663.19,226.52 663.83,222.18 664.47,219.68C665.20,216.81 665.93,212.26 666.66,210.09C667.48,207.66 668.30,205.64 669.12,204.62C669.85,203.71 670.58,202.70 671.31,202.70C672.04,202.70 672.77,203.32 673.50,204.07C674.24,204.81 674.97,207.48 675.70,210.09C676.33,212.37 676.97,216.98 677.61,219.68C678.16,221.98 678.71,224.49 679.26,225.70C679.71,226.70 680.17,227.89 680.62,227.89C681.17,227.89 681.72,226.52 682.27,226.52C682.91,226.52 683.55,226.94 684.18,227.34C684.73,227.69 685.28,228.83 685.83,229.26C686.28,229.62 686.74,230.08 687.20,230.08C687.83,230.08 688.47,226.77 689.11,225.15C689.84,223.30 690.57,220.81 691.30,219.68C692.12,218.40 692.95,217.27 693.77,216.94C694.50,216.64 695.23,216.39 695.96,216.39C696.60,216.39 697.24,217.40 697.88,218.31C698.61,219.34 699.34,221.63 700.07,223.78C700.70,225.67 701.34,228.76 701.98,230.63C702.53,232.23 703.08,233.37 703.63,234.74C703.99,235.65 704.36,237.47 704.72,237.47C705.18,237.47 705.63,233.91 706.09,233.91C706.64,233.91 707.19,234.28 707.73,234.74C708.28,235.19 708.83,238.52 709.38,238.84C709.92,239.17 710.47,239.39 711.02,239.39C711.66,239.39 712.30,235.37 712.94,233.37C713.67,231.08 714.40,228.02 715.13,226.52C716.04,224.65 716.95,222.99 717.86,222.41C718.78,221.84 719.69,221.32 720.60,221.32C721.33,221.32 722.06,221.84 722.79,222.41C723.43,222.91 724.07,224.26 724.71,225.70C725.35,227.14 725.99,229.43 726.63,232.00C727.08,233.83 727.54,238.61 728.00,238.84C728.73,239.22 729.46,239.39 730.19,239.39C730.92,239.39 731.65,238.30 732.38,238.30C733.02,238.30 733.65,238.30 734.29,238.30C734.93,238.30 735.57,239.57 736.21,240.21C736.67,240.67 737.12,241.58 737.58,241.58C738.13,241.58 738.67,239.35 739.22,238.84C739.95,238.16 740.68,237.88 741.41,237.47C742.33,236.97 743.24,236.38 744.15,236.11C744.97,235.85 745.79,235.56 746.62,235.56C747.53,235.56 748.44,236.48 749.35,237.47C749.99,238.17 750.63,240.30 751.27,241.58C752.00,243.04 752.73,244.40 753.46,245.69C754.01,246.65 754.56,248.43 755.10,248.43C755.65,248.43 756.20,247.06 756.75,247.06C757.29,247.06 757.84,248.71 758.39,249.25C758.85,249.70 759.30,250.34 759.76,250.34C760.40,250.34 761.04,248.35 761.68,247.06C762.41,245.58 763.14,243.21 763.87,241.58C764.69,239.75 765.51,237.89 766.33,236.65C767.24,235.28 768.16,233.84 769.07,233.37C769.89,232.94 770.71,232.55 771.53,232.55C772.17,232.55 772.81,233.18 773.45,233.91C773.91,234.44 774.36,237.47 774.82,237.47C775.28,237.47 775.73,236.65 776.19,236.65C776.55,236.65 776.92,242.44 777.28,244.32C777.74,246.67 778.20,249.80 778.65,249.80C779.20,249.80 779.75,247.27 780.30,247.06C781.21,246.71 782.12,246.51 783.03,246.51C783.95,246.51 784.86,247.88 785.77,247.88C786.87,247.88 787.96,246.92 789.06,246.51C790.15,246.10 791.25,245.55 792.34,245.42C793.53,245.27 794.72,245.14 795.90,245.14C797.09,245.14 798.28,245.40 799.46,245.69C800.38,245.91 801.29,246.40 802.20,247.06C802.93,247.59 803.66,249.04 804.39,249.80C805.21,250.65 806.04,251.53 806.86,251.99C807.77,252.49 808.68,253.08 809.59,253.08C810.32,253.08 811.06,251.35 811.79,250.34C812.61,249.21 813.43,247.61 814.25,246.51C814.59,246.05 814.94,245.62 815.29,245.26C816.17,244.35 817.05,243.70 817.93,242.97C818.81,242.24 819.69,241.26 820.57,240.85C821.28,240.53 821.98,240.15 822.68,240.15C823.27,240.15 823.86,241.12 824.45,241.74C824.92,242.23 825.39,243.50 825.86,243.50C826.27,243.50 826.68,242.26 827.09,242.26C827.32,242.26 827.56,246.02 827.79,247.90C828.09,250.25 828.38,254.95 828.68,254.95C829.03,254.95 829.38,252.90 829.73,252.31C830.20,251.51 830.67,250.54 831.14,250.54C831.61,250.54 832.08,251.01 832.55,251.42C832.96,251.79 833.37,253.06 833.78,253.19C834.55,253.42 835.31,253.54 836.07,253.54C836.78,253.54 837.48,253.38 838.19,253.19C839.07,252.95 839.95,251.64 840.83,251.07C841.71,250.51 842.59,250.02 843.47,249.66C844.36,249.30 845.24,249.00 846.12,248.78C847.00,248.56 847.88,248.25 848.76,248.25C849.64,248.25 850.52,248.33 851.40,248.43C852.28,248.53 853.16,248.98 854.05,249.31C854.75,249.57 855.45,249.68 856.16,250.19C856.63,250.53 857.10,252.42 857.57,253.19C858.16,254.14 858.74,255.48 859.33,255.48C859.80,255.48 860.27,255.08 860.74,254.60C861.15,254.18 861.56,252.18 861.97,251.42C862.85,249.82 863.74,249.08 864.62,247.90C865.50,246.73 866.38,245.49 867.26,244.38C868.14,243.27 869.02,241.66 869.90,241.21C870.61,240.85 871.31,240.50 872.02,240.50C872.49,240.50 872.96,241.64 873.42,242.26C873.84,242.81 874.25,244.03 874.66,244.03C875.01,244.03 875.36,241.21 875.72,241.21C876.01,241.21 876.30,243.15 876.60,244.38C876.95,245.85 877.30,249.08 877.65,249.66C878.30,250.73 878.95,250.73 879.59,251.42C880.47,252.37 881.35,253.87 882.23,254.95C883.11,256.03 884.00,257.42 884.88,257.94C885.58,258.37 886.29,258.82 886.99,258.82C887.64,258.82 888.28,257.78 888.93,257.06C889.63,256.28 890.34,254.90 891.04,254.07C891.92,253.03 892.80,252.04 893.69,251.42C894.57,250.81 895.45,250.02 896.33,250.02C897.21,250.02 898.09,250.28 898.97,250.54C899.73,250.77 900.50,251.23 901.26,251.78C901.97,252.29 902.67,253.18 903.38,254.07C903.96,254.81 904.55,256.01 905.14,256.71C905.72,257.42 906.31,258.47 906.90,258.47C907.60,258.47 908.31,258.18 909.01,257.94C909.78,257.68 910.54,257.37 911.30,256.71C911.89,256.20 912.48,254.60 913.07,253.19C913.65,251.78 914.24,249.60 914.83,247.90C915.41,246.20 916.00,244.12 916.59,242.97C917.18,241.82 917.76,240.77 918.35,240.33C918.94,239.89 919.53,239.44 920.11,239.44C920.70,239.44 921.29,239.92 921.87,240.50C922.29,240.91 922.70,242.99 923.11,243.50C923.46,243.93 923.81,244.38 924.16,244.38C924.46,244.38 924.75,240.50 925.05,240.50C925.34,240.50 925.63,243.98 925.93,245.26C926.34,247.05 926.75,248.59 927.16,249.66C927.75,251.19 928.33,252.11 928.92,253.19C929.69,254.59 930.45,255.85 931.21,257.06C931.92,258.18 932.62,259.77 933.33,260.23C934.03,260.69 934.74,261.11 935.44,261.11C936.15,261.11 936.85,260.49 937.55,259.88C938.20,259.32 938.85,257.74 939.49,256.71C940.26,255.50 941.02,254.01 941.78,253.19C942.49,252.43 943.19,251.62 943.90,251.42C944.60,251.23 945.31,251.07 946.01,251.07C946.77,251.07 947.54,251.77 948.30,252.31C949.07,252.84 949.83,253.62 950.59,254.60C951.18,255.34 951.77,256.55 952.35,257.59C952.76,258.32 953.18,259.88 953.59,259.88C954.00,259.88 954.41,258.47 954.82,258.47C955.29,258.47 955.76,259.61 956.23,259.88C956.82,260.22 957.40,260.59 957.99,260.59C958.58,260.59 959.17,259.35 959.75,258.47C960.34,257.59 960.93,256.36 961.52,254.95C962.10,253.54 962.69,251.56 963.28,249.66C963.86,247.77 964.45,244.89 965.04,243.50C965.63,242.10 966.21,240.79 966.80,240.33C967.39,239.87 967.98,239.44 968.56,239.44C969.15,239.44 969.74,240.09 970.32,240.85C970.79,241.47 971.26,244.91 971.73,245.26C972.14,245.56 972.56,245.79 972.97,245.79C973.32,245.79 973.67,244.03 974.02,244.03C974.32,244.03 974.61,246.77 974.90,247.90C975.43,249.93 975.96,251.88 976.49,253.19C977.25,255.08 978.02,256.23 978.78,257.59C979.49,258.85 980.19,260.33 980.89,261.11C981.60,261.90 982.30,262.88 983.01,262.88C983.66,262.88 984.30,262.72 984.95,262.52C985.65,262.31 986.36,261.23 987.06,260.23C987.65,259.40 988.24,257.69 988.82,256.71C989.53,255.54 990.23,254.14 990.94,253.72C991.70,253.25 992.46,252.83 993.23,252.83C993.93,252.83 994.64,253.49 995.34,254.07C995.93,254.55 996.52,255.54 997.10,256.36C997.69,257.18 998.28,258.12 998.87,259.00C999.34,259.71 999.81,261.11 1000.27,261.11C1000.69,261.11 1001.10,259.35 1001.51,259.35C1001.86,259.35 1002.21,259.61 1002.57,259.88C1002.98,260.20 1003.39,261.47 1003.80,262.00C1004.39,262.75 1004.97,263.76 1005.56,263.76C1006.15,263.76 1006.73,263.37 1007.32,262.88C1007.91,262.39 1008.50,260.07 1009.08,258.47C1009.67,256.87 1010.26,254.95 1010.85,253.19C1011.43,251.42 1012.02,249.31 1012.61,247.90C1013.19,246.49 1013.78,244.99 1014.37,244.38C1014.96,243.77 1015.54,243.14 1016.13,243.14C1016.72,243.14 1017.31,243.91 1017.89,244.73C1018.36,245.39 1018.83,248.09 1019.30,248.78C1019.71,249.39 1020.12,250.02 1020.54,250.02C1020.95,250.02 1021.36,248.78 1021.77,248.78C1022.12,248.78 1022.47,251.29 1022.83,252.31C1023.41,254.00 1024.00,255.37 1024.59,256.71C1025.29,258.32 1026.00,259.98 1026.70,261.11C1027.47,262.35 1028.23,263.56 1028.99,264.11C1029.70,264.62 1030.40,265.17 1031.11,265.17C1031.87,265.17 1032.63,264.68 1033.40,264.11C1033.98,263.67 1034.57,262.17 1035.16,261.11C1035.86,259.85 1036.57,257.99 1037.27,257.06C1037.98,256.14 1038.68,255.16 1039.39,254.95C1040.03,254.75 1040.68,254.60 1041.32,254.60C1042.03,254.60 1042.73,255.23 1043.44,255.83C1044.03,256.33 1044.61,257.59 1045.20,258.47C1045.79,259.35 1046.38,260.07 1046.96,261.11C1047.37,261.85 1047.78,263.76 1048.20,263.76C1048.55,263.76 1048.90,261.64 1049.25,261.64C1049.66,261.64 1050.08,262.34 1050.49,262.88C1050.96,263.49 1051.43,264.98 1051.90,265.52C1052.48,266.19 1053.07,266.93 1053.66,266.93C1054.49,266.93 1055.33,265.79 1056.17,264.64C1056.75,263.83 1057.34,261.54 1057.93,260.23C1058.52,258.93 1059.10,257.94 1059.69,256.71C1060.28,255.48 1060.86,253.92 1061.45,252.83C1062.04,251.75 1062.63,250.39 1063.21,250.02C1063.80,249.64 1064.39,249.31 1064.98,249.31C1065.45,249.31 1065.91,250.29 1066.38,251.07C1066.80,251.76 1067.21,253.61 1067.62,254.07C1068.03,254.52 1068.44,254.95 1068.85,254.95C1069.20,254.95 1069.56,254.07 1069.91,254.07C1070.32,254.07 1070.73,255.15 1071.14,255.83C1071.73,256.80 1072.32,258.18 1072.90,259.35C1073.49,260.53 1074.08,261.81 1074.67,262.88C1075.37,264.16 1076.07,265.52 1076.78,266.40C1077.54,267.36 1078.31,268.69 1079.07,268.69C1079.66,268.69 1080.24,268.46 1080.83,268.16C1081.42,267.87 1082.01,266.62 1082.59,265.52C1083.18,264.42 1083.77,262.22 1084.36,261.11C1084.94,260.01 1085.53,259.03 1086.12,258.47C1086.70,257.91 1087.29,257.24 1087.88,257.24C1088.47,257.24 1089.05,257.58 1089.64,257.94C1090.23,258.30 1090.82,259.49 1091.40,260.23C1091.87,260.83 1092.34,261.31 1092.81,262.00C1093.22,262.59 1093.63,264.11 1094.05,264.11C1094.51,264.11 1094.98,263.41 1095.45,263.41C1095.87,263.41 1096.28,264.59 1096.69,265.17C1097.28,266.00 1097.86,266.84 1098.45,267.63C1099.04,268.43 1099.62,269.64 1100.21,269.92C1100.80,270.21 1101.39,270.45 1101.97,270.45C1102.56,270.45 1103.15,269.17 1103.74,268.16C1104.32,267.16 1104.91,265.13 1105.50,263.76C1106.08,262.38 1106.67,260.93 1107.26,259.88C1107.85,258.83 1108.43,257.85 1109.02,257.24C1109.61,256.63 1110.19,256.09 1110.78,255.83C1111.37,255.57 1111.96,255.30 1112.54,255.30C1113.01,255.30 1113.48,256.11 1113.95,256.71C1114.36,257.23 1114.78,258.82 1115.19,258.82C1115.60,258.82 1116.01,257.59 1116.42,257.59C1116.77,257.59 1117.12,259.35 1117.48,259.35C1117.89,259.35 1118.30,258.12 1118.71,258.12C1119.12,258.12 1119.53,260.10 1119.94,261.11C1120.41,262.27 1120.88,263.59 1121.35,264.64C1121.94,265.95 1122.53,267.16 1123.11,268.16C1123.70,269.17 1124.29,270.26 1124.88,270.80C1125.58,271.46 1126.29,272.21 1126.99,272.21C1127.64,272.21 1128.28,271.73 1128.93,271.16C1129.52,270.64 1130.10,268.66 1130.69,267.28C1131.28,265.91 1131.87,263.88 1132.45,262.88C1133.04,261.87 1133.63,260.95 1134.21,260.59C1134.80,260.23 1135.39,259.88 1135.98,259.88C1136.50,259.88 1137.03,260.55 1137.56,261.11C1138.03,261.61 1138.50,262.87 1138.97,263.41C1139.44,263.94 1139.91,264.13 1140.38,264.64C1140.79,265.09 1141.20,265.70 1141.61,266.40C1142.02,267.11 1142.44,268.56 1142.85,269.04C1143.20,269.46 1143.55,269.92 1143.90,269.92C1144.20,269.92 1144.49,267.63 1144.79,267.63C1145.20,267.63 1145.61,268.77 1146.02,269.40C1146.49,270.11 1146.96,271.10 1147.43,271.69C1148.02,272.42 1148.60,273.45 1149.19,273.45C1149.78,273.45 1150.36,273.31 1150.95,273.10C1151.54,272.88 1152.13,271.15 1152.71,269.92C1153.30,268.69 1153.89,266.75 1154.47,265.52C1155.06,264.29 1155.65,263.05 1156.24,262.35C1156.82,261.64 1157.41,261.03 1158.00,260.76C1158.59,260.50 1159.17,260.23 1159.76,260.23C1160.35,260.23 1160.93,260.39 1161.52,260.59C1162.05,260.76 1162.58,261.54 1163.11,262.00C1163.46,262.30 1163.81,262.88 1164.16,262.88C1164.52,262.88 1164.87,260.23 1165.22,260.23C1165.57,260.23 1165.93,262.00 1166.28,262.88C1166.75,264.05 1167.22,265.35 1167.69,266.40C1168.28,267.71 1168.86,268.92 1169.45,269.92C1170.04,270.93 1170.62,271.93 1171.21,272.57C1171.92,273.33 1172.62,274.33 1173.33,274.33C1174.03,274.33 1174.74,274.18 1175.44,273.98C1176.03,273.80 1176.61,273.03 1177.20,272.21C1177.79,271.40 1178.38,269.42 1178.96,268.16C1179.55,266.91 1180.14,265.42 1180.73,264.64C1181.31,263.86 1181.90,262.88 1182.49,262.88C1183.07,262.88 1183.66,262.88 1184.25,262.88C1184.72,262.88 1185.19,263.97 1185.66,264.64C1186.13,265.30 1186.60,266.24 1187.07,266.93C1187.60,267.70 1188.13,268.30 1188.65,269.04C1189.12,269.71 1189.59,270.65 1190.06,271.16C1190.47,271.60 1190.89,272.21 1191.30,272.21C1191.65,272.21 1192.00,269.92 1192.35,269.92C1192.76,269.92 1193.18,271.10 1193.59,271.69C1194.00,272.27 1194.41,273.13 1194.82,273.45C1195.41,273.90 1195.99,274.33 1196.58,274.33C1197.35,274.33 1198.11,274.18 1198.87,273.98C1199.46,273.82 1200.05,273.24 1200.63,272.57C1201.22,271.90 1201.81,270.16 1202.40,269.04C1202.98,267.93 1203.57,266.40 1204.16,265.87C1204.86,265.24 1205.57,264.87 1206.27,264.64C1207.04,264.38 1207.80,264.11 1208.56,264.11C1209.15,264.11 1209.74,264.75 1210.32,265.17C1210.79,265.50 1211.26,266.40 1211.73,266.40C1212.09,266.40 1212.44,263.41 1212.79,263.41C1213.14,263.41 1213.50,265.60 1213.85,266.40C1214.32,267.47 1214.79,268.26 1215.26,269.04C1215.84,270.03 1216.43,270.98 1217.02,271.69C1217.61,272.39 1218.19,273.21 1218.78,273.45C1219.49,273.73 1220.19,273.98 1220.89,273.98C1221.60,273.98 1222.30,273.90 1223.01,273.80C1223.66,273.70 1224.30,273.18 1224.95,272.57C1225.53,272.01 1226.12,270.42 1226.71,269.40C1227.30,268.37 1227.88,266.98 1228.47,266.40C1229.06,265.82 1229.65,265.17 1230.23,265.17C1230.82,265.17 1231.41,265.33 1231.99,265.52C1232.52,265.69 1233.05,266.38 1233.58,266.93C1234.05,267.42 1234.52,268.36 1234.99,268.69C1235.46,269.03 1235.93,269.04 1236.40,269.40C1236.81,269.70 1237.22,271.16 1237.63,271.16C1238.10,271.16 1238.57,270.45 1239.04,270.45C1239.45,270.45 1239.86,271.69 1240.27,271.69C1240.74,271.69 1241.21,270.80 1241.68,270.80C1242.10,270.80 1242.51,272.25 1242.92,272.57C1243.50,273.01 1244.09,273.45 1244.68,273.45C1245.44,273.45 1246.21,273.45 1246.97,273.45C1247.67,273.45 1248.38,273.01 1249.08,272.57C1249.67,272.20 1250.26,271.26 1250.85,270.45C1251.43,269.65 1252.02,268.21 1252.61,267.63C1253.19,267.06 1253.78,266.58 1254.37,266.40C1254.96,266.22 1255.54,266.05 1256.13,266.05C1256.72,266.05 1257.31,266.79 1257.89,267.28C1258.36,267.67 1258.83,268.69 1259.30,268.69C1259.65,268.69 1260.01,264.64 1260.36,264.64C1260.71,264.64 1261.06,267.38 1261.42,268.16C1261.89,269.21 1262.36,269.99 1262.83,270.45C1263.41,271.04 1264.00,271.47 1264.59,271.69C1265.29,271.95 1266.00,272.21 1266.70,272.21C1267.58,272.21 1268.46,272.04 1269.34,272.04C1270.11,272.04 1270.87,272.21 1271.63,272.21C1272.34,272.21 1273.04,271.99 1273.75,271.69C1274.34,271.43 1274.92,270.13 1275.51,269.40C1276.10,268.66 1276.69,267.70 1277.27,267.28C1277.86,266.87 1278.45,266.40 1279.03,266.40C1279.62,266.40 1280.21,266.66 1280.80,266.93C1281.38,267.20 1281.97,268.30 1282.56,268.69C1283.03,269.00 1283.50,269.40 1283.97,269.40C1284.32,269.40 1284.67,266.40 1285.02,266.40C1285.38,266.40 1285.73,268.86 1286.08,269.40C1286.55,270.11 1287.02,270.66 1287.49,270.80C1288.20,271.02 1288.90,271.05 1289.61,271.16C1290.49,271.29 1291.37,271.43 1292.25,271.51C1293.13,271.59 1294.01,271.69 1294.89,271.69C1295.08,271.69 1295.27,270.91 1295.45,270.91C1296.21,270.91 1296.97,272.09 1297.73,272.09C1298.18,272.09 1298.64,271.23 1299.09,270.73C1299.70,270.06 1300.30,268.89 1300.91,268.45C1301.52,268.02 1302.12,267.55 1302.73,267.55C1303.33,267.55 1303.94,267.88 1304.55,268.18C1305.15,268.49 1305.76,269.82 1306.36,269.82C1306.82,269.82 1307.27,269.82 1307.73,269.82C1307.88,269.82 1308.03,261.64 1308.18,261.64C1308.48,261.64 1308.79,261.64 1309.09,261.64C1309.30,261.64 1309.52,269.43 1309.73,269.82C1310.06,270.42 1310.39,270.73 1310.73,270.73C1311.09,270.73 1311.45,269.64 1311.82,269.64C1312.58,269.64 1313.33,270.27 1314.09,270.27C1315.15,270.27 1316.21,270.14 1317.27,270.09C1318.18,270.05 1319.09,270.00 1320.00,270.00C1320.55,270.00 1321.09,270.91 1321.64,270.91C1322.00,270.91 1322.36,270.30 1322.73,269.82C1323.18,269.22 1323.64,267.60 1324.09,267.09C1324.70,266.42 1325.30,265.86 1325.91,265.73C1326.67,265.57 1327.42,265.45 1328.18,265.45C1328.79,265.45 1329.39,266.21 1330.00,266.64C1330.61,267.06 1331.21,268.00 1331.82,268.00C1332.06,268.00 1332.30,267.86 1332.55,267.55C1332.70,267.35 1332.85,261.64 1333.00,261.64C1333.30,261.64 1333.61,261.64 1333.91,261.64C1334.12,261.64 1334.33,267.65 1334.55,268.00C1335.00,268.75 1335.45,268.99 1335.91,269.09C1336.67,269.26 1337.42,269.28 1338.18,269.36C1339.09,269.46 1340.00,269.56 1340.91,269.64C1341.82,269.71 1342.73,269.72 1343.64,269.82C1344.39,269.90 1345.15,270.55 1345.91,270.55C1346.30,270.55 1346.70,270.42 1347.09,270.27C1347.61,270.08 1348.12,268.89 1348.64,268.45C1349.09,268.07 1349.55,267.55 1350.00,267.55C1350.61,267.55 1351.21,267.81 1351.82,268.00C1352.42,268.19 1353.03,268.73 1353.64,268.73C1354.39,268.73 1355.15,268.73 1355.91,268.73C1356.06,268.73 1356.21,263.27 1356.36,263.27C1356.73,263.27 1357.09,263.27 1357.45,263.27C1357.64,263.27 1357.82,269.09 1358.00,269.09C1358.36,269.09 1358.73,268.89 1359.09,268.73C1359.55,268.52 1360.00,267.73 1360.45,267.73C1361.21,267.73 1361.97,267.73 1362.73,267.73C1363.64,267.73 1364.55,267.82 1365.45,267.82C1366.21,267.82 1366.97,267.73 1367.73,267.73C1368.18,267.73 1368.64,268.73 1369.09,268.73C1369.39,268.73 1369.70,268.31 1370.00,268.00C1370.45,267.54 1370.91,266.29 1371.36,266.00C1371.97,265.61 1372.58,265.27 1373.18,265.27C1374.24,265.27 1375.30,265.27 1376.36,265.27C1377.27,265.27 1378.18,265.09 1379.09,265.09C1379.76,265.09 1380.42,265.27 1381.09,265.27C1381.27,265.27 1381.45,261.45 1381.64,261.45C1381.94,261.45 1382.24,261.45 1382.55,261.45C1382.76,261.45 1382.97,264.87 1383.18,265.27C1383.64,266.13 1384.09,266.37 1384.55,266.64C1385.30,267.09 1386.06,267.43 1386.82,267.55C1387.88,267.70 1388.94,267.82 1390.00,267.82C1391.21,267.82 1392.42,267.82 1393.64,267.82C1394.85,267.82 1396.06,267.55 1397.27,267.55C1398.48,267.55 1399.70,267.55 1400.91,267.55C1401.97,267.55 1403.03,267.73 1404.09,267.73C1404.39,267.73 1404.70,267.04 1405.00,266.64C1405.24,266.31 1405.48,265.55 1405.73,265.55C1406.03,265.55 1406.33,265.93 1406.64,266.18C1407.00,266.48 1407.36,267.27 1407.73,267.27C1408.18,267.27 1408.64,267.01 1409.09,266.91C1409.55,266.81 1410.00,266.79 1410.45,266.64C1410.67,266.57 1410.88,266.33 1411.09,266.18" fill="none" stroke="#0b8742" stroke-width="1.7" stroke-linejoin="round" stroke-linecap="round"/>
<path d="M97.75,33.48 H1411.40 V279.96 H97.75 Z M97.75,33.48 v-8.3 M97.75,279.96 v8.3 M144.67,33.48 v-4.2 M144.67,279.96 v4.2 M191.58,33.48 v-4.2 M191.58,279.96 v4.2 M238.50,33.48 v-4.2 M238.50,279.96 v4.2 M285.41,33.48 v-4.2 M285.41,279.96 v4.2 M332.33,33.48 v-8.3 M332.33,279.96 v8.3 M379.25,33.48 v-4.2 M379.25,279.96 v4.2 M426.16,33.48 v-4.2 M426.16,279.96 v4.2 M473.08,33.48 v-4.2 M473.08,279.96 v4.2 M519.99,33.48 v-4.2 M519.99,279.96 v4.2 M566.91,33.48 v-8.3 M566.91,279.96 v8.3 M613.83,33.48 v-4.2 M613.83,279.96 v4.2 M660.74,33.48 v-4.2 M660.74,279.96 v4.2 M707.66,33.48 v-4.2 M707.66,279.96 v4.2 M754.58,33.48 v-4.2 M754.58,279.96 v4.2 M801.49,33.48 v-8.3 M801.49,279.96 v8.3 M848.41,33.48 v-4.2 M848.41,279.96 v4.2 M895.32,33.48 v-4.2 M895.32,279.96 v4.2 M942.24,33.48 v-4.2 M942.24,279.96 v4.2 M989.16,33.48 v-4.2 M989.16,279.96 v4.2 M1036.07,33.48 v-8.3 M1036.07,279.96 v8.3 M1082.99,33.48 v-4.2 M1082.99,279.96 v4.2 M1129.90,33.48 v-4.2 M1129.90,279.96 v4.2 M1176.82,33.48 v-4.2 M1176.82,279.96 v4.2 M1223.74,33.48 v-4.2 M1223.74,279.96 v4.2 M1270.65,33.48 v-8.3 M1270.65,279.96 v8.3 M1317.57,33.48 v-4.2 M1317.57,279.96 v4.2 M1364.48,33.48 v-4.2 M1364.48,279.96 v4.2 M1411.40,33.48 v-4.2 M1411.40,279.96 v4.2 M97.75,279.96 h-8.5 M1411.40,279.96 h8.5 M97.75,255.31 h-4.3 M1411.40,255.31 h4.3 M97.75,230.66 h-8.5 M1411.40,230.66 h8.5 M97.75,206.02 h-4.3 M1411.40,206.02 h4.3 M97.75,181.37 h-8.5 M1411.40,181.37 h8.5 M97.75,156.72 h-4.3 M1411.40,156.72 h4.3 M97.75,132.07 h-8.5 M1411.40,132.07 h8.5 M97.75,107.42 h-4.3 M1411.40,107.42 h4.3 M97.75,82.78 h-8.5 M1411.40,82.78 h8.5 M97.75,58.13 h-4.3 M1411.40,58.13 h4.3 M97.75,33.48 h-8.5 M1411.40,33.48 h8.5" fill="none" stroke="#000" stroke-width="1.3"/>
<g font-family="'Liberation Serif',serif" font-size="28.7" text-anchor="end" fill="#000">
<text x="75.6" y="290.0">0</text>
<text x="75.6" y="240.7">5</text>
<text x="75.6" y="191.4">10</text>
<text x="75.6" y="142.1">15</text>
<text x="75.6" y="92.8">20</text>
<text x="75.6" y="43.5">25</text>
</g>
<text transform="translate(34.7,157.5) rotate(-90)" font-family="'Liberation Serif',serif" font-size="28.4" text-anchor="middle" fill="#000">Salinity(psu)</text>
<text x="0" y="23.7" font-family="'Liberation Sans',sans-serif" font-weight="bold" font-size="29.7" fill="#000">A</text>
<path d="M102.2,562.07 H1408.2" fill="none" stroke="#ed1c24" stroke-width="1.6" stroke-dasharray="8.5 7.922"/>
<path d="M97.75,564.18C99.27,564.00 100.80,563.90 102.32,563.63C103.69,563.39 105.06,563.02 106.43,562.26C107.34,561.76 108.25,559.84 109.17,558.70C110.08,557.56 110.99,556.07 111.91,555.42C113.00,554.63 114.10,553.77 115.19,553.77C116.38,553.77 117.56,553.77 118.75,553.77C119.94,553.77 121.12,554.24 122.31,554.59C123.41,554.92 124.50,555.96 125.60,555.96C126.69,555.96 127.79,555.71 128.88,555.42C130.07,555.09 131.26,553.72 132.44,552.68C133.36,551.88 134.27,550.47 135.18,549.94C135.82,549.57 136.46,549.12 137.10,549.12C137.65,549.12 138.19,551.30 138.74,551.86C139.65,552.79 140.57,553.63 141.48,553.77C142.57,553.94 143.67,553.89 144.76,554.05C145.86,554.20 146.96,555.42 148.05,555.42C148.96,555.42 149.88,554.33 150.79,553.23C151.70,552.12 152.61,549.31 153.53,546.38C154.44,543.45 155.35,537.92 156.27,534.06C157.18,530.19 158.09,526.76 159.00,523.11C159.92,519.45 160.83,515.28 161.74,512.15C162.65,509.02 163.57,506.68 164.48,503.94C165.39,501.20 166.31,497.91 167.22,495.72C168.13,493.53 169.04,491.19 169.96,490.25C170.87,489.30 171.78,488.33 172.69,488.33C173.15,488.33 173.61,492.52 174.06,495.72C174.52,498.92 174.98,505.74 175.43,509.41C175.98,513.82 176.53,518.15 177.08,520.37C177.71,522.95 178.35,524.39 178.99,525.84C179.72,527.50 180.45,529.95 181.18,529.95C182.00,529.95 182.83,528.14 183.65,527.21C184.83,525.87 186.02,524.47 187.21,523.11C188.39,521.74 189.58,520.77 190.77,519.00C191.86,517.36 192.96,514.55 194.05,512.15C195.24,509.56 196.43,506.53 197.61,503.94C198.71,501.54 199.80,498.99 200.90,497.09C201.81,495.51 202.72,494.81 203.64,492.98C204.55,491.16 205.46,488.52 206.37,484.77C207.10,481.77 207.83,476.38 208.57,471.08C209.20,466.44 209.84,459.03 210.48,454.65C211.12,450.27 211.76,446.60 212.40,443.70C213.13,440.37 213.86,436.62 214.59,435.48C215.23,434.49 215.87,433.57 216.51,433.57C217.05,433.57 217.60,436.85 218.15,436.85C218.79,436.85 219.43,435.15 220.07,434.11C220.80,432.93 221.53,430.01 222.26,430.01C222.62,430.01 222.99,434.88 223.35,438.22C223.81,442.40 224.26,450.14 224.72,454.65C225.27,460.07 225.82,463.36 226.36,468.34C226.91,473.32 227.46,481.83 228.01,484.77C228.55,487.71 229.10,489.91 229.65,490.79C230.38,491.97 231.11,492.98 231.84,492.98C232.48,492.98 233.12,490.55 233.76,488.88C234.67,486.48 235.58,481.97 236.50,479.29C237.59,476.08 238.69,473.68 239.78,471.08C240.78,468.69 241.79,465.62 242.79,464.23C243.71,462.97 244.62,462.64 245.53,461.50C246.44,460.35 247.36,458.48 248.27,456.84C249.36,454.87 250.46,452.94 251.56,450.54C252.29,448.94 253.02,447.72 253.75,445.07C254.38,442.74 255.02,436.79 255.66,432.74C256.39,428.11 257.12,423.93 257.85,419.05C258.49,414.79 259.13,408.85 259.77,405.36C260.50,401.38 261.23,397.69 261.96,395.78C262.69,393.86 263.42,392.23 264.15,391.67C264.70,391.25 265.25,390.85 265.79,390.85C266.34,390.85 266.89,395.14 267.44,395.78C268.08,396.53 268.71,396.27 269.35,397.15C269.81,397.77 270.27,403.45 270.72,408.10C271.18,412.75 271.64,421.94 272.09,427.27C272.55,432.59 273.00,437.12 273.46,440.96C274.10,446.33 274.74,452.26 275.38,454.65C276.11,457.38 276.84,460.13 277.57,460.13C278.21,460.13 278.85,459.90 279.49,459.58C280.22,459.21 280.95,456.52 281.68,454.65C282.59,452.31 283.50,448.63 284.41,446.43C285.33,444.24 286.24,442.64 287.15,440.96C288.06,439.28 288.98,436.85 289.89,436.30C290.62,435.87 291.35,435.48 292.08,435.48C292.72,435.48 293.36,436.85 294.00,436.85C294.73,436.85 295.46,433.89 296.19,432.74C297.01,431.46 297.83,430.28 298.65,429.46C299.57,428.54 300.48,428.28 301.39,427.27C301.94,426.66 302.49,425.92 303.03,424.53C303.67,422.90 304.31,417.39 304.95,413.58C305.68,409.22 306.41,403.18 307.14,399.88C307.78,397.00 308.42,394.93 309.06,393.04C309.79,390.88 310.52,389.51 311.25,387.56C311.89,385.86 312.53,383.30 313.17,382.09C313.80,380.87 314.44,379.73 315.08,379.35C315.81,378.91 316.54,378.53 317.27,378.53C317.64,378.53 318.00,388.27 318.37,394.41C318.73,400.55 319.10,413.27 319.46,416.31C320.01,420.88 320.56,421.79 321.11,424.53C321.65,427.27 322.20,431.08 322.75,432.74C323.39,434.68 324.03,436.85 324.67,436.85C325.40,436.85 326.13,435.31 326.86,434.11C327.77,432.61 328.68,429.55 329.59,427.27C330.51,424.99 331.42,422.36 332.33,420.42C334.02,416.85 335.71,412.23 337.39,411.39C337.94,411.11 338.49,410.84 339.04,410.84C339.49,410.84 339.95,414.04 340.41,414.95C341.04,416.21 341.68,417.68 342.32,417.68C343.23,417.68 344.15,417.68 345.06,417.68C345.79,417.68 346.52,417.31 347.25,416.86C348.07,416.35 348.89,414.10 349.72,412.21C350.63,410.10 351.54,406.73 352.45,403.99C353.37,401.25 354.28,397.36 355.19,395.78C355.92,394.51 356.65,394.47 357.38,393.04C358.02,391.79 358.66,387.21 359.30,384.82C359.85,382.78 360.39,380.20 360.94,379.35C361.58,378.35 362.22,377.43 362.86,377.43C363.41,377.43 363.95,377.43 364.50,377.43C364.87,377.43 365.23,388.03 365.60,394.41C365.96,400.78 366.33,412.89 366.69,416.31C367.24,421.45 367.79,423.78 368.34,425.90C368.97,428.37 369.61,430.56 370.25,431.37C370.80,432.07 371.35,432.74 371.89,432.74C372.53,432.74 373.17,431.10 373.81,430.01C374.72,428.44 375.64,426.03 376.55,423.98C377.46,421.93 378.38,418.96 379.29,417.68C380.20,416.41 381.11,416.27 382.03,414.95C382.76,413.89 383.49,410.27 384.22,409.47C384.86,408.77 385.49,408.10 386.13,408.10C386.86,408.10 387.59,409.65 388.32,410.29C389.15,411.01 389.97,411.02 390.79,412.21C391.34,413.00 391.88,417.72 392.43,421.79C392.89,425.18 393.34,433.07 393.80,435.48C394.26,437.90 394.71,440.41 395.17,440.41C395.63,440.41 396.08,434.50 396.54,430.01C397.00,425.51 397.45,414.29 397.91,410.84C398.55,406.00 399.19,403.40 399.82,401.25C400.55,398.80 401.29,396.91 402.02,395.78C402.84,394.50 403.66,393.50 404.48,393.04C405.21,392.63 405.94,392.74 406.67,392.22C407.22,391.82 407.77,385.16 408.31,384.82C408.86,384.48 409.41,384.28 409.96,384.28C410.50,384.28 411.05,384.72 411.60,385.65C411.96,386.27 412.33,399.16 412.69,405.36C413.15,413.11 413.61,424.08 414.06,427.27C414.70,431.73 415.34,433.80 415.98,435.48C416.71,437.40 417.44,439.59 418.17,439.59C418.90,439.59 419.63,438.90 420.36,438.22C421.27,437.37 422.19,434.57 423.10,432.74C424.01,430.92 424.93,428.66 425.84,427.27C426.57,426.15 427.30,424.53 428.03,424.53C428.76,424.53 429.49,425.08 430.22,425.08C430.77,425.08 431.31,418.46 431.86,413.58C432.32,409.51 432.77,398.75 433.23,397.15C433.78,395.23 434.33,393.86 434.87,393.86C435.51,393.86 436.15,394.26 436.79,395.23C437.16,395.78 437.52,409.54 437.89,419.05C438.25,428.57 438.62,452.57 438.98,454.65C439.62,458.28 440.26,458.56 440.90,460.13C441.54,461.69 442.18,462.56 442.81,464.23C443.36,465.67 443.91,468.76 444.46,469.71C445.01,470.66 445.55,471.63 446.10,471.63C446.65,471.63 447.20,466.81 447.74,462.86C448.38,458.26 449.02,447.78 449.66,440.96C450.39,433.16 451.12,424.67 451.85,419.05C452.58,413.44 453.31,408.20 454.04,405.36C454.68,402.88 455.32,401.56 455.96,399.88C456.60,398.21 457.24,395.75 457.88,395.23C458.42,394.78 458.97,394.41 459.52,394.41C459.97,394.41 460.43,397.39 460.89,401.25C461.25,404.34 461.62,420.24 461.98,427.27C462.44,436.06 462.90,446.40 463.35,449.17C463.90,452.50 464.45,454.77 464.99,455.20C465.63,455.70 466.27,456.02 466.91,456.02C467.64,456.02 468.37,455.68 469.10,455.20C469.74,454.78 470.38,452.28 471.02,450.54C471.75,448.55 472.48,445.87 473.21,443.70C473.85,441.79 474.49,438.95 475.13,438.22C475.76,437.49 476.40,436.85 477.04,436.85C477.59,436.85 478.14,440.96 478.69,440.96C479.32,440.96 479.96,438.23 480.60,436.85C481.15,435.67 481.70,433.29 482.25,433.29C482.70,433.29 483.16,434.84 483.61,436.85C483.98,438.46 484.34,449.84 484.71,450.54C485.17,451.41 485.62,451.03 486.08,451.91C486.44,452.61 486.81,462.74 487.17,466.97C487.54,471.20 487.90,476.04 488.27,477.92C488.82,480.76 489.36,483.02 489.91,483.40C490.64,483.91 491.37,484.22 492.10,484.22C492.83,484.22 493.56,483.39 494.29,482.03C494.84,481.02 495.39,473.32 495.94,468.34C496.48,463.36 497.03,454.65 497.58,451.91C498.13,449.17 498.67,446.43 499.22,446.43C499.86,446.43 500.50,449.17 501.14,449.17C501.78,449.17 502.42,448.50 503.06,447.80C503.60,447.21 504.15,444.24 504.70,444.24C505.34,444.24 505.98,445.89 506.62,445.89C507.07,445.89 507.53,443.70 507.98,443.70C508.44,443.70 508.90,448.26 509.35,451.91C509.81,455.56 510.27,463.83 510.72,468.34C511.27,473.76 511.82,479.85 512.37,482.03C513.00,484.58 513.64,486.96 514.28,486.96C514.92,486.96 515.56,486.61 516.20,486.14C516.93,485.60 517.66,481.96 518.39,479.29C519.21,476.29 520.03,470.95 520.85,468.34C521.58,466.02 522.31,463.23 523.04,462.86C523.68,462.54 524.32,462.32 524.96,462.32C525.69,462.32 526.42,465.29 527.15,466.97C527.88,468.65 528.61,471.65 529.34,472.45C529.98,473.15 530.62,473.06 531.26,473.82C531.90,474.58 532.54,478.16 533.18,480.66C533.91,483.53 534.64,487.20 535.37,490.25C536.01,492.91 536.64,496.57 537.28,497.91C537.92,499.26 538.56,500.65 539.20,500.65C539.75,500.65 540.30,498.84 540.84,497.09C541.48,495.05 542.12,488.37 542.76,484.77C543.49,480.65 544.22,475.81 544.95,473.82C545.68,471.83 546.41,470.07 547.14,469.71C547.78,469.40 548.42,469.16 549.06,469.16C549.79,469.16 550.52,470.21 551.25,471.08C551.98,471.95 552.71,473.47 553.44,475.19C554.17,476.90 554.90,479.22 555.63,482.03C556.36,484.84 557.09,489.12 557.82,492.98C558.55,496.85 559.28,502.13 560.01,505.31C560.65,508.08 561.29,510.96 561.93,512.15C562.66,513.52 563.39,514.89 564.12,514.89C564.76,514.89 565.40,512.88 566.04,510.78C566.58,508.98 567.13,502.97 567.68,499.83C568.32,496.17 568.96,491.74 569.59,490.25C570.32,488.54 571.06,486.96 571.79,486.96C572.42,486.96 573.06,487.19 573.70,487.51C574.57,487.94 575.43,491.71 576.30,494.35C576.94,496.31 577.58,498.71 578.21,501.20C578.85,503.69 579.49,506.68 580.13,509.41C580.77,512.15 581.41,515.48 582.05,517.63C582.78,520.09 583.51,522.61 584.24,523.65C584.79,524.44 585.33,525.30 585.88,525.30C586.52,525.30 587.16,524.21 587.80,523.11C588.44,522.00 589.08,518.77 589.72,516.26C590.45,513.39 591.18,509.14 591.91,506.68C592.64,504.21 593.37,501.60 594.10,500.65C594.74,499.83 595.37,499.01 596.01,499.01C596.74,499.01 597.47,500.20 598.20,501.20C599.03,502.32 599.85,504.54 600.67,506.68C601.40,508.58 602.13,511.03 602.86,513.52C603.59,516.01 604.32,519.00 605.05,521.74C605.78,524.47 606.51,527.90 607.24,529.95C607.97,532.00 608.70,534.01 609.43,534.88C609.98,535.53 610.53,536.25 611.07,536.25C611.80,536.25 612.53,535.21 613.26,534.06C613.90,533.05 614.54,529.35 615.18,527.21C615.91,524.77 616.64,521.97 617.37,520.37C618.01,518.96 618.65,517.08 619.29,517.08C620.02,517.08 620.75,517.08 621.48,517.08C622.21,517.08 622.94,519.02 623.67,520.37C624.49,521.89 625.31,524.22 626.13,526.39C626.86,528.32 627.59,530.63 628.32,532.69C629.15,535.01 629.97,537.50 630.79,539.53C631.52,541.35 632.25,543.87 632.98,544.46C633.71,545.06 634.44,545.56 635.17,545.56C635.99,545.56 636.81,544.16 637.63,542.82C638.36,541.63 639.09,538.38 639.82,536.25C640.46,534.38 641.10,531.73 641.74,530.77C642.47,529.68 643.20,528.58 643.93,528.58C644.66,528.58 645.39,528.96 646.12,529.40C646.94,529.90 647.77,531.96 648.59,533.51C649.50,535.24 650.41,537.40 651.33,539.53C652.24,541.67 653.15,544.67 654.06,546.38C654.98,548.09 655.89,549.69 656.80,550.49C657.53,551.12 658.26,551.86 658.99,551.86C659.72,551.86 660.45,550.82 661.18,549.94C662.00,548.95 662.83,546.60 663.65,545.01C664.38,543.60 665.11,541.59 665.84,540.90C666.57,540.22 667.30,539.53 668.03,539.53C668.85,539.53 669.67,540.24 670.49,540.90C671.41,541.64 672.32,543.51 673.23,545.01C674.24,546.66 675.24,548.97 676.24,550.49C677.16,551.87 678.07,553.39 678.98,554.05C679.89,554.71 680.81,555.42 681.72,555.42C682.63,555.42 683.55,554.71 684.46,554.05C685.37,553.39 686.28,551.45 687.20,550.49C688.02,549.62 688.84,548.59 689.66,548.30C690.48,548.00 691.30,547.75 692.12,547.75C692.95,547.75 693.77,548.48 694.59,549.12C695.50,549.82 696.41,551.54 697.33,552.68C698.24,553.82 699.15,555.24 700.07,555.96C701.16,556.83 702.26,557.88 703.35,557.88C704.54,557.88 705.72,557.88 706.91,557.88C708.01,557.88 709.10,557.06 710.20,556.51C711.20,556.00 712.21,554.96 713.21,554.59C714.30,554.20 715.40,553.77 716.50,553.77C717.59,553.77 718.69,554.20 719.78,554.59C720.78,554.96 721.79,555.95 722.79,556.51C723.89,557.13 724.98,557.92 726.08,558.15C727.45,558.45 728.82,558.70 730.19,558.70C731.56,558.70 732.92,558.41 734.29,558.15C735.48,557.93 736.67,557.21 737.85,557.06C738.95,556.92 740.04,556.79 741.14,556.79C742.23,556.79 743.33,557.25 744.42,557.61C745.61,557.99 746.80,558.85 747.98,559.25C749.35,559.72 750.72,560.35 752.09,560.35C753.46,560.35 754.83,560.22 756.20,560.07C757.57,559.93 758.94,559.31 760.31,558.98C761.49,558.68 762.68,558.15 763.87,558.15C764.96,558.15 766.06,558.15 767.15,558.15C768.25,558.15 769.34,558.71 770.44,558.98C771.62,559.26 772.81,559.67 774.00,559.80C775.37,559.94 776.74,560.07 778.11,560.07C779.93,560.07 781.76,560.07 783.58,560.07C785.41,560.07 787.23,559.80 789.06,559.80C790.88,559.80 792.71,559.80 794.53,559.80C795.90,559.80 797.27,560.35 798.64,560.62C800.01,560.89 801.38,561.44 802.75,561.44C804.12,561.44 805.49,561.44 806.86,561.44C808.23,561.44 809.59,560.92 810.96,560.62C812.40,560.30 813.84,559.57 815.29,559.57C816.17,559.57 817.05,559.75 817.93,559.92C818.81,560.09 819.69,560.55 820.57,560.80C821.75,561.14 822.92,561.68 824.09,561.68C825.27,561.68 826.44,561.68 827.62,561.68C828.79,561.68 829.97,561.33 831.14,561.33C832.61,561.33 834.08,561.33 835.55,561.33C837.01,561.33 838.48,561.33 839.95,561.33C841.42,561.33 842.89,561.33 844.36,561.33C845.53,561.33 846.70,561.64 847.88,561.86C849.05,562.08 850.23,562.57 851.40,562.74C852.58,562.91 853.75,563.09 854.93,563.09C856.10,563.09 857.28,562.85 858.45,562.56C859.33,562.34 860.21,561.53 861.09,560.98C861.97,560.42 862.85,559.51 863.74,559.21C864.50,558.96 865.26,558.69 866.03,558.69C866.61,558.69 867.20,559.52 867.79,559.92C868.49,560.40 869.20,561.33 869.90,561.33C870.61,561.33 871.31,561.23 872.02,560.98C872.31,560.87 872.60,558.86 872.90,557.80C873.19,556.75 873.48,554.63 873.78,554.63C874.13,554.63 874.48,554.86 874.83,555.16C875.13,555.41 875.42,557.45 875.72,557.45C876.13,557.45 876.54,556.92 876.95,556.92C877.42,556.92 877.89,558.21 878.36,558.69C879.06,559.40 879.77,560.31 880.47,560.45C881.65,560.67 882.82,560.80 884.00,560.80C885.17,560.80 886.34,560.53 887.52,560.45C888.69,560.37 889.87,560.27 891.04,560.27C892.22,560.27 893.39,560.47 894.57,560.62C895.74,560.78 896.92,561.07 898.09,561.33C899.26,561.59 900.44,562.04 901.61,562.21C902.79,562.38 903.96,562.56 905.14,562.56C906.31,562.56 907.49,562.18 908.66,561.86C909.72,561.56 910.78,560.98 911.83,560.45C912.83,559.94 913.83,559.15 914.83,558.69C915.59,558.33 916.35,558.00 917.12,557.80C917.70,557.65 918.29,557.69 918.88,557.45C919.17,557.33 919.47,555.16 919.76,555.16C920.05,555.16 920.35,557.80 920.64,557.80C920.93,557.80 921.23,551.16 921.52,550.76C921.93,550.19 922.34,549.88 922.76,549.88C923.17,549.88 923.58,550.68 923.99,551.64C924.34,552.46 924.69,556.53 925.05,557.80C925.46,559.29 925.87,560.86 926.28,560.98C927.16,561.23 928.04,561.33 928.92,561.33C930.10,561.33 931.27,561.05 932.45,560.80C933.62,560.55 934.79,559.95 935.97,559.57C937.14,559.19 938.32,558.63 939.49,558.51C940.37,558.42 941.25,558.33 942.14,558.33C943.19,558.33 944.25,558.83 945.31,559.21C946.30,559.58 947.30,560.31 948.30,560.80C949.18,561.24 950.06,561.65 950.94,562.03C951.83,562.41 952.71,563.09 953.59,563.09C954.47,563.09 955.35,562.63 956.23,562.21C957.11,561.79 957.99,560.58 958.87,559.92C959.75,559.26 960.63,558.55 961.52,558.16C962.40,557.77 963.28,557.44 964.16,557.28C965.04,557.11 965.92,556.92 966.80,556.92C967.27,556.92 967.74,557.80 968.21,557.80C968.62,557.80 969.03,556.40 969.44,556.40C969.85,556.40 970.27,558.08 970.68,558.69C971.26,559.55 971.85,560.32 972.44,560.80C973.20,561.43 973.97,561.98 974.73,562.21C975.61,562.48 976.49,562.74 977.37,562.74C978.25,562.74 979.13,562.57 980.01,562.39C980.89,562.20 981.78,561.45 982.66,560.98C983.54,560.51 984.42,559.88 985.30,559.57C986.18,559.25 987.06,558.86 987.94,558.86C988.82,558.86 989.70,558.94 990.58,559.04C991.58,559.15 992.58,559.55 993.58,559.92C994.52,560.27 995.46,560.82 996.40,561.33C997.40,561.87 998.40,562.67 999.39,563.09C1000.27,563.46 1001.16,563.97 1002.04,563.97C1002.92,563.97 1003.80,563.48 1004.68,563.09C1005.56,562.70 1006.44,561.85 1007.32,561.33C1008.20,560.81 1009.08,560.23 1009.96,559.92C1010.85,559.61 1011.73,559.21 1012.61,559.21C1013.49,559.21 1014.37,559.29 1015.25,559.39C1016.13,559.49 1017.01,559.91 1017.89,560.27C1018.77,560.63 1019.65,561.21 1020.54,561.68C1021.42,562.15 1022.30,563.09 1023.18,563.09C1024.06,563.09 1024.94,562.89 1025.82,562.74C1026.70,562.58 1027.58,562.16 1028.46,562.03C1029.64,561.86 1030.81,561.80 1031.99,561.68C1033.16,561.56 1034.34,561.33 1035.51,561.33C1036.69,561.33 1037.86,561.33 1039.03,561.33C1040.21,561.33 1041.38,561.61 1042.56,561.86C1043.73,562.10 1044.91,562.59 1046.08,563.09C1046.96,563.47 1047.84,564.31 1048.72,564.50C1049.61,564.69 1050.49,564.85 1051.37,564.85C1052.25,564.85 1053.13,564.57 1054.01,564.15C1054.44,563.95 1054.86,562.80 1055.29,562.56C1056.17,562.07 1057.05,561.85 1057.93,561.68C1058.81,561.51 1059.69,561.33 1060.57,561.33C1061.45,561.33 1062.33,561.33 1063.21,561.33C1064.09,561.33 1064.98,561.92 1065.86,562.21C1066.74,562.50 1067.62,562.75 1068.50,563.09C1069.38,563.43 1070.26,564.32 1071.14,564.32C1071.73,564.32 1072.32,563.28 1072.90,563.09C1073.78,562.81 1074.67,562.56 1075.55,562.56C1076.72,562.56 1077.90,562.56 1079.07,562.56C1080.24,562.56 1081.42,562.56 1082.59,562.56C1083.77,562.56 1084.94,562.74 1086.12,562.74C1087.29,562.74 1088.47,562.74 1089.64,562.74C1090.82,562.74 1091.99,562.87 1093.16,563.09C1093.75,563.20 1094.34,564.05 1094.93,564.32C1095.81,564.73 1096.69,565.20 1097.57,565.20C1098.74,565.20 1099.92,565.04 1101.09,564.85C1101.97,564.71 1102.85,564.19 1103.74,563.97C1104.62,563.75 1105.50,563.44 1106.38,563.44C1107.55,563.44 1108.73,563.44 1109.90,563.44C1111.08,563.44 1112.25,563.52 1113.42,563.62C1114.31,563.70 1115.19,564.04 1116.07,564.32C1116.83,564.56 1117.59,565.20 1118.36,565.20C1119.06,565.20 1119.77,564.13 1120.47,563.97C1121.35,563.78 1122.23,563.62 1123.11,563.62C1124.29,563.62 1125.46,563.62 1126.64,563.62C1127.81,563.62 1128.99,563.62 1130.16,563.62C1131.63,563.62 1133.10,563.62 1134.57,563.62C1135.74,563.62 1136.92,563.62 1138.09,563.62C1139.26,563.62 1140.44,563.77 1141.61,563.97C1142.49,564.12 1143.38,565.38 1144.26,565.38C1145.14,565.38 1146.02,565.29 1146.90,565.20C1148.07,565.09 1149.25,564.70 1150.42,564.50C1151.60,564.30 1152.77,563.97 1153.95,563.97C1155.12,563.97 1156.30,563.97 1157.47,563.97C1158.64,563.97 1159.82,564.06 1160.99,564.15C1161.87,564.21 1162.76,564.33 1163.64,564.50C1164.40,564.64 1165.16,565.20 1165.93,565.20C1166.63,565.20 1167.34,564.35 1168.04,564.15C1168.92,563.89 1169.80,563.62 1170.68,563.62C1171.56,563.62 1172.45,563.91 1173.33,563.97C1174.50,564.06 1175.68,564.15 1176.85,564.15C1178.32,564.15 1179.79,564.15 1181.25,564.15C1182.72,564.15 1184.19,564.15 1185.66,564.15C1186.83,564.15 1188.01,564.21 1189.18,564.32C1189.95,564.40 1190.71,565.38 1191.47,565.38C1192.18,565.38 1192.88,564.98 1193.59,564.85C1194.47,564.70 1195.35,564.50 1196.23,564.50C1197.40,564.50 1198.58,564.68 1199.75,564.68C1200.93,564.68 1202.10,564.50 1203.28,564.50C1204.45,564.50 1205.63,564.50 1206.80,564.50C1207.98,564.50 1209.15,564.50 1210.32,564.50C1211.50,564.50 1212.67,564.50 1213.85,564.50C1214.73,564.50 1215.61,564.15 1216.49,563.97C1217.37,563.79 1218.25,563.44 1219.13,563.44C1220.01,563.44 1220.89,563.54 1221.78,563.62C1222.66,563.70 1223.54,563.91 1224.42,563.97C1225.59,564.06 1226.77,564.15 1227.94,564.15C1229.12,564.15 1230.29,564.15 1231.47,564.15C1232.64,564.15 1233.81,563.97 1234.99,563.97C1235.69,563.97 1236.40,564.14 1237.10,564.32C1237.69,564.48 1238.28,565.38 1238.87,565.38C1239.45,565.38 1240.04,564.61 1240.63,564.50C1241.68,564.30 1242.74,564.15 1243.80,564.15C1245.27,564.15 1246.73,564.15 1248.20,564.15C1249.67,564.15 1251.14,563.97 1252.61,563.97C1254.08,563.97 1255.54,563.97 1257.01,563.97C1258.48,563.97 1259.95,563.97 1261.42,563.97C1262.30,563.97 1263.18,563.70 1264.06,563.44C1264.65,563.27 1265.23,562.56 1265.82,562.56C1266.41,562.56 1267.00,563.27 1267.58,563.44C1268.46,563.70 1269.34,563.97 1270.23,563.97C1271.69,563.97 1273.16,563.97 1274.63,563.97C1276.10,563.97 1277.57,563.97 1279.03,563.97C1280.50,563.97 1281.97,563.79 1283.44,563.62C1284.32,563.51 1285.20,563.25 1286.08,563.09C1286.79,562.96 1287.49,562.74 1288.20,562.74C1288.96,562.74 1289.72,563.32 1290.49,563.44C1291.66,563.63 1292.84,563.60 1294.01,563.79C1294.49,563.87 1294.97,564.27 1295.45,564.27C1296.67,564.27 1297.88,564.27 1299.09,564.27C1300.30,564.27 1301.52,564.15 1302.73,564.09C1303.94,564.03 1305.15,563.91 1306.36,563.91C1307.27,563.91 1308.18,564.09 1309.09,564.09C1309.85,564.09 1310.61,563.81 1311.36,563.64C1312.12,563.46 1312.88,563.00 1313.64,563.00C1314.55,563.00 1315.45,563.10 1316.36,563.18C1317.27,563.27 1318.18,563.56 1319.09,563.64C1320.30,563.73 1321.52,563.82 1322.73,563.82C1323.94,563.82 1325.15,563.82 1326.36,563.82C1327.58,563.82 1328.79,563.78 1330.00,563.73C1330.91,563.69 1331.82,563.48 1332.73,563.36C1333.64,563.24 1334.55,563.00 1335.45,563.00C1336.67,563.00 1337.88,563.00 1339.09,563.00C1340.30,563.00 1341.52,563.32 1342.73,563.36C1343.94,563.41 1345.15,563.45 1346.36,563.45C1347.58,563.45 1348.79,563.40 1350.00,563.36C1351.21,563.32 1352.42,563.18 1353.64,563.18C1354.85,563.18 1356.06,563.32 1357.27,563.36C1358.48,563.40 1359.70,563.45 1360.91,563.45C1362.12,563.45 1363.33,563.40 1364.55,563.36C1365.76,563.32 1366.97,563.18 1368.18,563.18C1369.39,563.18 1370.61,563.18 1371.82,563.18C1373.03,563.18 1374.24,563.36 1375.45,563.36C1376.67,563.36 1377.88,563.36 1379.09,563.36C1380.30,563.36 1381.52,563.24 1382.73,563.18C1383.94,563.12 1385.15,563.00 1386.36,563.00C1387.58,563.00 1388.79,563.00 1390.00,563.00C1391.21,563.00 1392.42,563.00 1393.64,563.00C1394.85,563.00 1396.06,563.00 1397.27,563.00C1398.48,563.00 1399.70,563.12 1400.91,563.18C1402.12,563.24 1403.33,563.36 1404.55,563.36C1405.76,563.36 1406.97,563.18 1408.18,563.18C1409.15,563.18 1410.12,563.18 1411.09,563.18" fill="none" stroke="#000" stroke-width="1.7" stroke-linejoin="round" stroke-linecap="round"/>
<path d="M97.75,553.77C98.64,554.32 99.52,555.42 100.41,555.42C101.50,555.42 102.60,555.42 103.69,555.42C104.60,555.42 105.52,553.81 106.43,552.68C107.52,551.32 108.62,548.86 109.72,547.20C110.90,545.40 112.09,544.97 113.27,542.27C114.01,540.61 114.74,535.63 115.47,531.32C116.10,527.55 116.74,521.11 117.38,517.63C118.11,513.65 118.84,508.04 119.57,508.04C120.03,508.04 120.49,508.29 120.94,508.59C121.58,509.02 122.22,513.52 122.86,513.52C123.59,513.52 124.32,512.02 125.05,510.78C125.69,509.70 126.33,506.45 126.97,505.85C127.60,505.26 128.24,504.76 128.88,504.76C129.34,504.76 129.80,506.46 130.25,508.04C130.80,509.95 131.35,517.11 131.89,519.00C132.72,521.83 133.54,523.80 134.36,524.47C135.27,525.23 136.18,525.84 137.10,525.84C138.01,525.84 138.92,524.29 139.84,523.11C141.02,521.57 142.21,518.23 143.40,516.26C144.58,514.29 145.77,511.70 146.96,511.06C148.05,510.47 149.15,510.54 150.24,509.96C151.15,509.48 152.07,508.24 152.98,506.68C153.89,505.11 154.80,501.63 155.72,498.46C156.81,494.66 157.91,490.19 159.00,484.77C159.92,480.26 160.83,475.25 161.74,468.34C162.47,462.81 163.20,452.69 163.93,446.43C164.66,440.18 165.39,434.73 166.12,430.01C166.76,425.87 167.40,421.51 168.04,419.05C168.77,416.24 169.50,413.44 170.23,412.75C171.05,411.98 171.87,411.39 172.69,411.39C173.15,411.39 173.61,413.05 174.06,414.95C174.34,416.08 174.61,421.79 174.88,421.79C175.43,421.79 175.98,420.42 176.53,420.42C176.89,420.42 177.26,427.95 177.62,432.74C178.08,438.73 178.54,450.04 178.99,454.65C179.63,461.10 180.27,464.07 180.91,468.34C181.64,473.22 182.37,479.40 183.10,482.03C183.74,484.34 184.38,486.96 185.02,486.96C185.56,486.96 186.11,486.14 186.66,485.32C187.48,484.08 188.30,479.45 189.12,476.56C190.04,473.34 190.95,469.50 191.86,466.97C192.87,464.20 193.87,461.93 194.87,460.13C195.79,458.48 196.70,456.34 197.61,456.02C198.53,455.70 199.44,455.79 200.35,455.47C201.26,455.15 202.18,453.57 203.09,451.91C204.00,450.26 204.91,447.27 205.83,443.70C206.65,440.48 207.47,435.26 208.29,430.01C209.02,425.33 209.75,419.05 210.48,413.58C211.21,408.10 211.94,401.84 212.67,397.15C213.40,392.45 214.13,387.17 214.86,384.82C215.68,382.19 216.51,381.17 217.33,379.35C218.15,377.52 218.97,375.22 219.79,373.87C220.34,372.97 220.89,371.68 221.43,371.68C222.07,371.68 222.71,371.95 223.35,372.50C223.72,372.82 224.08,375.49 224.45,379.35C224.72,382.24 224.99,396.15 225.27,402.62C225.63,411.25 226.00,421.79 226.36,424.53C227.00,429.32 227.64,430.01 228.28,432.74C228.92,435.48 229.56,439.71 230.20,440.96C230.93,442.39 231.66,443.70 232.39,443.70C233.12,443.70 233.85,441.33 234.58,439.59C235.40,437.63 236.22,433.85 237.04,431.37C238.05,428.35 239.05,424.92 240.05,423.16C240.97,421.56 241.88,420.43 242.79,419.60C243.71,418.77 244.62,417.68 245.53,417.68C246.17,417.68 246.81,419.86 247.45,420.42C248.18,421.06 248.91,421.79 249.64,421.79C250.46,421.79 251.28,420.74 252.10,419.87C252.83,419.10 253.56,418.05 254.29,416.31C254.93,414.79 255.57,411.34 256.21,408.10C256.94,404.40 257.67,398.73 258.40,394.41C259.13,390.09 259.86,385.16 260.59,382.09C261.41,378.63 262.23,375.93 263.06,373.87C263.97,371.58 264.88,370.28 265.79,368.40C266.52,366.89 267.25,364.55 267.98,363.74C268.71,362.93 269.45,362.10 270.18,362.10C270.63,362.10 271.09,362.52 271.54,363.47C271.82,364.03 272.09,375.47 272.37,380.72C272.73,387.72 273.10,397.74 273.46,399.88C274.01,403.10 274.56,403.47 275.10,405.36C275.74,407.56 276.38,410.90 277.02,412.21C277.66,413.51 278.30,414.95 278.94,414.95C279.67,414.95 280.40,413.46 281.13,412.21C281.95,410.80 282.77,407.16 283.59,405.36C284.51,403.36 285.42,401.75 286.33,400.43C287.24,399.12 288.16,398.27 289.07,397.15C289.80,396.25 290.53,395.38 291.26,394.41C291.90,393.56 292.54,391.67 293.18,391.67C293.91,391.67 294.64,393.09 295.37,393.86C296.10,394.63 296.83,396.33 297.56,396.33C298.38,396.33 299.20,396.09 300.02,395.78C300.75,395.50 301.48,394.34 302.21,393.04C302.94,391.74 303.67,389.02 304.40,386.19C305.04,383.72 305.68,379.56 306.32,376.61C306.96,373.66 307.60,370.22 308.24,368.40C308.97,366.31 309.70,364.14 310.43,363.74C311.34,363.25 312.25,363.44 313.17,362.92C313.62,362.66 314.08,360.63 314.53,360.18C315.26,359.46 315.99,359.30 316.73,358.81C317.36,358.39 318.00,357.44 318.64,357.44C318.92,357.44 319.19,364.76 319.46,369.76C319.74,374.76 320.01,386.83 320.28,388.93C320.83,393.13 321.38,394.34 321.93,395.78C322.66,397.70 323.39,398.93 324.12,399.88C324.85,400.84 325.58,402.08 326.31,402.08C327.13,402.08 327.95,400.56 328.77,399.34C329.69,397.98 330.60,394.82 331.51,393.04C332.42,391.26 333.34,389.39 334.25,388.38C335.39,387.13 336.53,386.66 337.67,385.65C338.58,384.83 339.49,383.52 340.41,382.91C341.32,382.30 342.23,381.54 343.14,381.54C344.06,381.54 344.97,381.75 345.88,382.09C346.52,382.32 347.16,384.82 347.80,384.82C348.44,384.82 349.08,384.82 349.72,384.82C350.45,384.82 351.18,381.17 351.91,379.35C352.82,377.07 353.73,375.05 354.64,372.50C355.37,370.47 356.10,366.87 356.83,365.66C357.47,364.60 358.11,363.76 358.75,363.47C359.39,363.17 360.03,363.25 360.67,362.92C361.22,362.64 361.76,359.61 362.31,359.36C363.04,359.02 363.77,358.81 364.50,358.81C365.14,358.81 365.78,359.02 366.42,359.63C366.69,359.90 366.97,370.07 367.24,375.24C367.60,382.13 367.97,394.73 368.34,395.78C368.97,397.62 369.61,398.52 370.25,398.52C371.26,398.52 372.26,397.78 373.26,397.15C374.18,396.57 375.09,395.50 376.00,394.41C376.91,393.31 377.83,391.29 378.74,390.30C379.84,389.12 380.93,388.24 382.03,387.56C382.94,387.00 383.85,386.84 384.76,386.19C385.68,385.55 386.59,383.64 387.50,382.91C388.42,382.18 389.33,381.54 390.24,381.27C391.15,380.99 392.07,380.72 392.98,380.72C393.71,380.72 394.44,382.05 395.17,383.46C395.81,384.69 396.45,391.12 397.09,391.12C397.73,391.12 398.36,385.64 399.00,383.46C399.55,381.58 400.10,379.38 400.65,378.53C401.56,377.10 402.47,376.99 403.38,375.79C404.21,374.71 405.03,372.50 405.85,371.13C406.58,369.92 407.31,369.24 408.04,367.85C408.68,366.63 409.32,363.34 409.96,362.92C410.69,362.43 411.42,362.10 412.15,362.10C412.79,362.10 413.42,362.30 414.06,362.92C414.34,363.18 414.61,375.19 414.88,380.72C415.25,388.08 415.62,400.76 415.98,401.25C416.71,402.24 417.44,402.62 418.17,402.62C419.17,402.62 420.18,401.33 421.18,400.43C422.28,399.45 423.37,397.96 424.47,396.60C425.56,395.24 426.66,393.16 427.75,392.22C428.76,391.36 429.76,390.90 430.77,390.30C431.59,389.81 432.41,389.80 433.23,388.93C433.78,388.35 434.33,383.71 434.87,380.72C435.33,378.22 435.79,374.56 436.24,372.50C436.70,370.45 437.16,367.57 437.61,367.57C438.07,367.57 438.53,369.43 438.98,371.13C439.35,372.50 439.71,374.28 440.08,377.98C440.35,380.76 440.62,392.93 440.90,397.15C441.35,404.18 441.81,409.03 442.27,412.21C442.81,416.02 443.36,418.05 443.91,420.42C444.46,422.80 445.01,425.06 445.55,426.72C446.10,428.38 446.65,430.83 447.20,430.83C447.65,430.83 448.11,428.47 448.57,425.90C449.02,423.32 449.48,414.25 449.93,408.10C450.39,401.95 450.85,393.72 451.30,388.93C451.76,384.14 452.22,378.87 452.67,377.43C453.31,375.42 453.95,373.87 454.59,373.87C455.23,373.87 455.87,375.79 456.51,375.79C457.05,375.79 457.60,371.77 458.15,371.13C458.79,370.39 459.43,370.33 460.07,369.76C460.61,369.28 461.16,367.85 461.71,367.85C462.26,367.85 462.80,369.86 463.35,372.50C463.72,374.26 464.08,381.22 464.45,386.19C464.81,391.17 465.18,400.15 465.54,402.62C466.09,406.33 466.64,408.57 467.19,409.47C467.82,410.52 468.46,411.39 469.10,411.39C469.83,411.39 470.56,410.47 471.29,409.47C472.02,408.47 472.75,404.65 473.48,402.62C474.21,400.59 474.94,398.36 475.67,397.15C476.40,395.93 477.13,394.41 477.86,394.41C478.59,394.41 479.32,394.77 480.05,395.23C480.69,395.63 481.33,397.52 481.97,398.52C482.61,399.51 483.25,401.25 483.89,401.25C484.44,401.25 484.98,399.88 485.53,399.88C485.90,399.88 486.26,415.03 486.63,416.31C486.99,417.60 487.36,417.28 487.72,418.50C488.09,419.73 488.45,426.92 488.82,430.01C489.27,433.87 489.73,437.19 490.19,439.59C490.73,442.47 491.28,445.33 491.83,446.43C492.38,447.54 492.92,448.63 493.47,448.63C494.11,448.63 494.75,446.83 495.39,445.07C496.12,443.05 496.85,437.07 497.58,432.74C498.31,428.42 499.04,422.81 499.77,419.05C500.50,415.29 501.23,411.96 501.96,409.47C502.78,406.67 503.60,404.78 504.42,402.62C505.16,400.70 505.89,397.15 506.62,397.15C507.25,397.15 507.89,397.54 508.53,397.97C508.99,398.28 509.45,398.82 509.90,399.88C510.36,400.95 510.81,405.56 511.27,409.47C511.73,413.37 512.18,420.71 512.64,424.53C513.19,429.11 513.73,433.68 514.28,435.48C514.92,437.58 515.56,439.59 516.20,439.59C516.84,439.59 517.48,438.92 518.12,438.22C518.85,437.42 519.58,434.57 520.31,432.74C521.04,430.92 521.77,428.73 522.50,427.27C523.32,425.62 524.14,423.90 524.96,423.16C525.69,422.50 526.42,421.79 527.15,421.79C527.88,421.79 528.61,422.98 529.34,423.71C529.98,424.34 530.62,425.09 531.26,425.90C531.90,426.71 532.54,427.26 533.18,428.64C533.72,429.82 534.27,433.58 534.82,435.48C535.28,437.07 535.73,437.54 536.19,439.59C536.64,441.64 537.10,449.28 537.56,451.91C538.11,455.07 538.65,457.85 539.20,458.76C539.93,459.97 540.66,460.95 541.39,460.95C542.12,460.95 542.85,460.04 543.58,458.76C544.22,457.63 544.86,450.87 545.50,446.43C546.05,442.64 546.59,436.56 547.14,434.11C547.78,431.25 548.42,428.57 549.06,428.09C549.70,427.61 550.34,427.27 550.97,427.27C551.43,427.27 551.89,431.37 552.34,431.37C552.80,431.37 553.26,427.81 553.71,427.81C554.17,427.81 554.63,432.74 555.08,432.74C555.63,432.74 556.18,431.37 556.73,431.37C557.27,431.37 557.82,434.32 558.37,436.85C558.92,439.38 559.46,445.87 560.01,449.17C560.65,453.03 561.29,457.00 561.93,458.76C562.66,460.77 563.39,462.86 564.12,462.86C564.85,462.86 565.58,462.23 566.31,461.50C567.13,460.67 567.95,457.45 568.77,454.65C569.50,452.16 570.23,446.98 570.96,445.07C571.69,443.15 572.42,440.96 573.15,440.96C574.11,440.96 575.07,441.58 576.02,442.33C576.75,442.90 577.48,445.07 578.21,446.43C578.94,447.80 579.68,448.88 580.41,450.54C581.04,452.00 581.68,453.99 582.32,456.02C582.96,458.05 583.60,460.73 584.24,462.86C584.97,465.30 585.70,468.15 586.43,469.71C587.16,471.27 587.89,473.27 588.62,473.27C589.26,473.27 589.90,472.94 590.54,472.45C591.18,471.96 591.81,468.45 592.45,465.60C593.00,463.16 593.55,458.46 594.10,456.02C594.74,453.17 595.37,449.98 596.01,449.17C596.74,448.25 597.47,447.53 598.20,447.53C598.84,447.53 599.48,448.43 600.12,449.17C600.85,450.03 601.58,451.99 602.31,453.28C603.13,454.73 603.95,455.59 604.78,457.39C605.51,458.98 606.24,461.74 606.97,464.23C607.70,466.72 608.43,469.78 609.16,472.45C609.80,474.78 610.43,477.71 611.07,479.29C611.80,481.10 612.53,483.40 613.26,483.40C613.90,483.40 614.54,482.81 615.18,482.03C615.82,481.25 616.46,476.46 617.10,473.82C617.83,470.79 618.56,466.92 619.29,465.05C620.02,463.19 620.75,460.95 621.48,460.95C622.21,460.95 622.94,460.95 623.67,460.95C624.49,460.95 625.31,463.34 626.13,465.05C626.86,466.58 627.59,469.06 628.32,471.08C629.15,473.35 629.97,475.51 630.79,477.92C631.52,480.07 632.25,482.86 632.98,484.77C633.71,486.68 634.44,488.85 635.17,489.70C635.99,490.66 636.81,491.62 637.63,491.62C638.36,491.62 639.09,490.24 639.82,488.88C640.46,487.68 641.10,483.92 641.74,482.03C642.47,479.88 643.20,477.50 643.93,476.56C644.66,475.61 645.39,474.64 646.12,474.64C646.67,474.64 647.22,475.66 647.77,476.56C648.13,477.15 648.50,479.29 648.86,479.29C649.32,479.29 649.77,477.92 650.23,477.92C650.87,477.92 651.51,478.30 652.15,478.75C652.88,479.26 653.61,481.65 654.34,483.40C655.16,485.37 655.98,487.83 656.80,490.25C657.53,492.40 658.26,495.38 658.99,497.09C659.72,498.80 660.45,501.20 661.18,501.20C661.82,501.20 662.46,501.20 663.10,501.20C663.74,501.20 664.38,497.79 665.02,495.72C665.75,493.36 666.48,489.70 667.21,487.51C667.94,485.32 668.67,482.59 669.40,482.03C670.22,481.40 671.04,480.94 671.86,480.94C672.59,480.94 673.32,482.47 674.05,483.40C674.97,484.57 675.88,485.94 676.79,487.51C677.70,489.07 678.62,490.96 679.53,492.98C680.44,495.01 681.35,497.55 682.27,499.83C683.18,502.11 684.09,505.37 685.01,506.68C685.92,507.98 686.83,509.41 687.74,509.41C688.47,509.41 689.20,508.73 689.93,508.04C690.66,507.36 691.39,505.12 692.12,503.94C692.76,502.90 693.40,501.20 694.04,501.20C694.68,501.20 695.32,502.57 695.96,502.57C696.51,502.57 697.05,500.65 697.60,500.65C698.24,500.65 698.88,502.57 699.52,502.57C700.16,502.57 700.80,502.57 701.43,502.57C702.17,502.57 702.90,504.27 703.63,505.31C704.45,506.48 705.27,507.92 706.09,509.41C707.00,511.07 707.92,513.67 708.83,514.89C709.74,516.11 710.65,517.63 711.57,517.63C712.11,517.63 712.66,516.12 713.21,514.89C713.85,513.45 714.49,509.93 715.13,508.04C715.86,505.89 716.59,503.61 717.32,502.57C718.05,501.53 718.78,500.38 719.51,500.38C720.33,500.38 721.15,500.49 721.97,500.65C722.88,500.83 723.80,502.72 724.71,503.94C725.62,505.15 726.54,506.48 727.45,508.04C728.36,509.61 729.27,511.70 730.19,513.52C731.10,515.35 732.01,517.43 732.92,519.00C733.84,520.56 734.75,522.31 735.66,523.11C736.39,523.74 737.12,524.47 737.85,524.47C738.67,524.47 739.50,523.12 740.32,522.56C741.23,521.94 742.14,520.91 743.06,520.91C743.97,520.91 744.88,521.52 745.79,521.74C746.71,521.96 747.62,522.28 748.53,522.28C749.45,522.28 750.36,521.74 751.27,521.74C752.18,521.74 753.10,523.56 754.01,524.47C754.92,525.39 755.83,526.40 756.75,527.21C757.66,528.02 758.57,529.40 759.49,529.40C760.22,529.40 760.95,528.16 761.68,527.21C762.41,526.26 763.14,524.25 763.87,523.11C764.69,521.82 765.51,520.50 766.33,519.82C767.24,519.06 768.16,518.18 769.07,518.18C769.80,518.18 770.53,518.18 771.26,518.18C771.72,518.18 772.17,516.46 772.63,516.26C773.36,515.93 774.09,515.94 774.82,515.71C775.46,515.51 776.10,514.89 776.74,514.89C777.37,514.89 778.01,515.19 778.65,515.71C779.11,516.09 779.57,520.25 780.02,521.74C780.75,524.11 781.48,525.83 782.21,527.21C783.13,528.94 784.04,530.47 784.95,531.32C786.05,532.34 787.14,533.51 788.24,533.51C789.24,533.51 790.24,532.95 791.25,532.69C792.34,532.40 793.44,531.87 794.53,531.87C795.63,531.87 796.73,532.36 797.82,532.69C799.01,533.05 800.19,533.60 801.38,534.06C802.57,534.51 803.75,534.95 804.94,535.43C806.04,535.87 807.13,536.54 808.23,536.80C809.32,537.06 810.42,537.34 811.51,537.34C812.42,537.34 813.34,536.26 814.25,535.43C815.18,534.57 816.11,532.55 817.05,531.73C817.93,530.95 818.81,530.49 819.69,529.97C820.45,529.51 821.22,529.43 821.98,528.74C822.39,528.36 822.80,526.09 823.21,526.09C823.62,526.09 824.04,527.42 824.45,527.85C824.80,528.22 825.15,528.74 825.50,528.74C825.74,528.74 825.97,521.16 826.21,521.16C826.56,521.16 826.91,522.57 827.27,522.57C827.68,522.57 828.09,521.69 828.50,521.69C829.09,521.69 829.67,522.60 830.26,523.45C830.73,524.13 831.20,525.74 831.67,526.97C832.20,528.36 832.73,530.15 833.26,531.38C833.84,532.75 834.43,534.02 835.02,534.90C835.60,535.78 836.19,536.73 836.78,537.02C837.37,537.30 837.95,537.54 838.54,537.54C839.30,537.54 840.07,536.62 840.83,536.13C841.71,535.57 842.59,534.76 843.47,534.37C844.36,533.98 845.24,533.49 846.12,533.49C847.00,533.49 847.88,533.80 848.76,534.02C849.64,534.24 850.52,534.54 851.40,534.90C852.28,535.26 853.16,535.87 854.05,536.31C854.93,536.75 855.81,537.30 856.69,537.54C857.57,537.79 858.45,538.07 859.33,538.07C860.04,538.07 860.74,537.85 861.44,537.54C862.03,537.29 862.62,535.93 863.21,534.90C863.97,533.56 864.73,531.58 865.50,529.97C866.26,528.35 867.02,526.95 867.79,525.21C868.49,523.61 869.20,522.11 869.90,519.93C870.49,518.11 871.08,514.49 871.66,512.88C872.07,511.75 872.49,510.24 872.90,510.24C873.19,510.24 873.48,512.35 873.78,512.35C874.13,512.35 874.48,505.83 874.83,505.83C875.19,505.83 875.54,507.37 875.89,508.47C876.24,509.58 876.60,511.48 876.95,512.88C877.42,514.74 877.89,516.46 878.36,518.16C878.95,520.29 879.53,522.43 880.12,524.33C880.71,526.23 881.29,528.01 881.88,529.62C882.47,531.22 883.06,532.92 883.64,534.02C884.23,535.12 884.82,536.27 885.41,536.66C886.11,537.13 886.81,537.54 887.52,537.54C888.22,537.54 888.93,536.54 889.63,535.78C890.40,534.96 891.16,533.27 891.92,532.26C892.69,531.25 893.45,530.15 894.21,529.62C894.92,529.13 895.62,528.56 896.33,528.56C897.03,528.56 897.74,529.16 898.44,529.62C899.21,530.11 899.97,530.92 900.73,531.73C901.50,532.54 902.26,533.71 903.02,534.55C903.73,535.33 904.43,536.14 905.14,536.66C905.84,537.18 906.55,537.90 907.25,537.90C908.02,537.90 908.78,537.51 909.54,537.02C910.25,536.56 910.95,534.69 911.66,533.14C912.30,531.72 912.95,529.38 913.59,527.85C914.30,526.19 915.00,524.75 915.71,523.45C916.41,522.14 917.12,520.89 917.82,519.93C918.59,518.88 919.35,518.18 920.11,517.28C920.70,516.59 921.29,516.49 921.87,515.17C922.17,514.51 922.46,508.72 922.76,508.47C923.17,508.12 923.58,507.95 923.99,507.95C924.34,507.95 924.69,514.64 925.05,514.64C925.46,514.64 925.87,512.88 926.28,512.88C926.75,512.88 927.22,517.08 927.69,519.05C928.28,521.50 928.86,524.08 929.45,526.09C930.04,528.11 930.62,529.78 931.21,531.38C931.80,532.98 932.39,534.78 932.97,535.78C933.56,536.79 934.15,537.87 934.74,538.07C935.32,538.28 935.91,538.42 936.50,538.42C937.08,538.42 937.67,536.31 938.26,534.90C938.85,533.49 939.43,531.03 940.02,529.62C940.61,528.21 941.20,526.76 941.78,526.09C942.37,525.42 942.96,524.68 943.54,524.68C944.13,524.68 944.72,525.24 945.31,525.74C945.89,526.24 946.48,527.42 947.07,528.38C947.77,529.54 948.48,530.99 949.18,532.26C949.95,533.63 950.71,535.11 951.47,536.31C952.18,537.42 952.88,538.70 953.59,539.31C954.35,539.96 955.11,540.72 955.88,540.72C956.46,540.72 957.05,540.05 957.64,539.31C958.23,538.56 958.81,535.92 959.40,534.02C959.99,532.12 960.58,529.75 961.16,527.85C961.75,525.96 962.34,524.17 962.92,522.57C963.51,520.97 964.10,519.00 964.69,518.16C965.27,517.33 965.86,516.69 966.45,516.40C966.98,516.14 967.51,515.87 968.03,515.87C968.50,515.87 968.97,517.64 969.44,517.64C969.91,517.64 970.38,515.17 970.85,515.17C971.26,515.17 971.67,516.56 972.09,517.28C972.67,518.31 973.26,519.29 973.85,520.45C974.44,521.62 975.02,522.96 975.61,524.33C976.20,525.70 976.78,527.13 977.37,528.74C977.96,530.34 978.55,532.64 979.13,534.02C979.84,535.68 980.54,537.10 981.25,538.07C982.01,539.13 982.77,540.54 983.54,540.54C984.12,540.54 984.71,540.27 985.30,539.83C985.77,539.49 986.24,536.63 986.71,534.90C987.24,532.96 987.77,530.14 988.29,528.74C988.88,527.17 989.47,525.68 990.06,525.21C990.64,524.74 991.23,524.33 991.82,524.33C992.46,524.33 993.11,525.34 993.76,526.09C994.46,526.92 995.17,528.31 995.87,529.62C996.58,530.92 997.28,532.61 997.98,534.02C998.75,535.55 999.51,537.06 1000.27,538.42C1000.98,539.68 1001.68,541.20 1002.39,541.95C1003.15,542.76 1003.92,543.71 1004.68,543.71C1005.27,543.71 1005.85,543.33 1006.44,542.83C1007.03,542.33 1007.62,539.56 1008.20,537.54C1008.79,535.53 1009.38,532.51 1009.96,530.50C1010.55,528.48 1011.14,526.30 1011.73,525.21C1012.49,523.80 1013.25,522.77 1014.02,522.22C1014.72,521.71 1015.43,521.16 1016.13,521.16C1016.60,521.16 1017.07,522.57 1017.54,522.57C1017.95,522.57 1018.36,521.16 1018.77,521.16C1019.24,521.16 1019.71,522.68 1020.18,523.45C1020.89,524.61 1021.59,525.61 1022.30,526.97C1023.06,528.45 1023.82,530.43 1024.59,532.26C1025.29,533.95 1026.00,536.08 1026.70,537.54C1027.47,539.13 1028.23,540.93 1028.99,541.60C1029.70,542.21 1030.40,542.83 1031.11,542.83C1031.69,542.83 1032.28,542.02 1032.87,541.07C1033.34,540.31 1033.81,537.35 1034.28,535.78C1034.81,534.02 1035.33,531.99 1035.86,531.03C1036.45,529.95 1037.04,528.92 1037.63,528.74C1038.27,528.53 1038.92,528.38 1039.56,528.38C1040.27,528.38 1040.97,529.60 1041.68,530.50C1042.44,531.47 1043.20,533.03 1043.97,534.55C1044.67,535.95 1045.38,537.84 1046.08,539.31C1046.85,540.89 1047.61,542.56 1048.37,543.71C1049.08,544.78 1049.78,545.94 1050.49,546.35C1051.25,546.81 1052.01,547.23 1052.78,547.23C1053.48,547.23 1054.19,546.59 1054.89,545.82C1055.49,545.17 1056.09,542.88 1056.69,541.07C1057.28,539.30 1057.87,536.61 1058.46,534.90C1059.04,533.19 1059.63,531.50 1060.22,530.50C1060.81,529.49 1061.39,528.57 1061.98,528.21C1062.57,527.85 1063.15,527.50 1063.74,527.50C1064.15,527.50 1064.56,528.74 1064.98,528.74C1065.39,528.74 1065.80,527.85 1066.21,527.85C1066.68,527.85 1067.15,528.68 1067.62,529.26C1068.21,530.00 1068.79,531.07 1069.38,532.26C1069.97,533.45 1070.55,535.29 1071.14,536.66C1071.73,538.04 1072.32,539.56 1072.90,540.54C1073.61,541.72 1074.31,542.71 1075.02,543.36C1075.78,544.06 1076.54,544.94 1077.31,544.94C1077.90,544.94 1078.48,544.80 1079.07,544.59C1079.66,544.38 1080.24,542.96 1080.83,541.95C1081.42,540.94 1082.01,539.22 1082.59,538.42C1083.30,537.48 1084.00,536.58 1084.71,536.31C1085.47,536.02 1086.23,535.78 1087.00,535.78C1087.70,535.78 1088.41,536.26 1089.11,536.66C1089.88,537.10 1090.64,537.93 1091.40,538.78C1092.17,539.62 1092.93,540.88 1093.69,541.95C1094.40,542.94 1095.10,543.92 1095.81,544.94C1096.51,545.97 1097.22,547.40 1097.92,548.11C1098.68,548.89 1099.45,549.88 1100.21,549.88C1100.80,549.88 1101.39,549.44 1101.97,549.00C1102.56,548.56 1103.15,547.45 1103.74,546.35C1104.32,545.25 1104.91,543.06 1105.50,541.95C1106.20,540.62 1106.91,539.45 1107.61,538.78C1108.37,538.05 1109.14,537.30 1109.90,537.19C1110.61,537.09 1111.31,537.02 1112.02,537.02C1112.78,537.02 1113.54,537.81 1114.31,538.42C1115.07,539.04 1115.83,540.10 1116.60,541.07C1117.30,541.97 1118.01,543.20 1118.71,544.06C1119.42,544.93 1120.12,545.88 1120.82,546.35C1121.41,546.75 1122.00,547.23 1122.59,547.23C1123.06,547.23 1123.53,546.88 1124.00,546.88C1124.58,546.88 1125.17,547.76 1125.76,547.76C1126.34,547.76 1126.93,547.52 1127.52,547.23C1128.11,546.95 1128.69,545.54 1129.28,544.94C1129.99,544.22 1130.69,543.55 1131.40,543.18C1132.16,542.78 1132.92,542.30 1133.69,542.30C1134.57,542.30 1135.45,542.30 1136.33,542.30C1137.21,542.30 1138.09,542.89 1138.97,543.36C1139.73,543.76 1140.50,544.41 1141.26,545.12C1141.97,545.77 1142.67,546.71 1143.38,547.59C1144.08,548.46 1144.79,549.72 1145.49,550.41C1146.25,551.15 1147.02,552.17 1147.78,552.17C1148.48,552.17 1149.19,551.94 1149.89,551.64C1150.54,551.36 1151.19,549.96 1151.83,549.00C1152.54,547.94 1153.24,546.11 1153.95,545.47C1154.71,544.78 1155.47,544.35 1156.24,544.06C1157.12,543.73 1158.00,543.36 1158.88,543.36C1159.70,543.36 1160.52,543.74 1161.35,544.06C1162.11,544.36 1162.87,544.89 1163.64,545.47C1164.40,546.05 1165.16,547.00 1165.93,547.76C1166.63,548.47 1167.34,549.22 1168.04,549.88C1168.51,550.31 1168.98,551.11 1169.45,551.11C1169.86,551.11 1170.27,550.41 1170.68,550.41C1171.27,550.41 1171.86,550.76 1172.45,550.76C1173.03,550.76 1173.62,550.59 1174.21,550.41C1174.97,550.17 1175.73,549.07 1176.50,548.64C1177.32,548.19 1178.14,547.85 1178.96,547.59C1179.90,547.29 1180.84,546.88 1181.78,546.88C1182.61,546.88 1183.43,547.06 1184.25,547.23C1185.01,547.39 1185.78,547.82 1186.54,548.11C1187.30,548.41 1188.07,548.69 1188.83,549.00C1189.53,549.28 1190.24,549.44 1190.94,549.88C1191.65,550.32 1192.35,551.77 1193.06,552.52C1193.82,553.33 1194.59,554.63 1195.35,554.63C1196.11,554.63 1196.88,554.49 1197.64,554.28C1198.34,554.09 1199.05,552.52 1199.75,551.64C1200.46,550.76 1201.16,549.47 1201.87,549.00C1202.63,548.48 1203.39,548.03 1204.16,547.94C1205.04,547.83 1205.92,547.76 1206.80,547.76C1207.68,547.76 1208.56,548.04 1209.44,548.29C1210.21,548.51 1210.97,548.89 1211.73,549.35C1212.44,549.77 1213.14,550.47 1213.85,551.11C1214.44,551.65 1215.02,552.43 1215.61,552.87C1216.20,553.31 1216.78,553.93 1217.37,553.93C1217.96,553.93 1218.55,553.13 1219.13,553.05C1219.84,552.95 1220.54,552.87 1221.25,552.87C1222.01,552.87 1222.77,552.87 1223.54,552.87C1224.42,552.87 1225.30,552.28 1226.18,551.99C1227.06,551.70 1227.94,551.28 1228.82,551.11C1229.70,550.94 1230.58,550.76 1231.47,550.76C1232.35,550.76 1233.23,551.07 1234.11,551.29C1234.99,551.51 1235.87,551.91 1236.75,552.17C1237.63,552.43 1238.51,552.54 1239.39,552.87C1240.16,553.16 1240.92,553.86 1241.68,554.28C1242.39,554.67 1243.09,555.34 1243.80,555.34C1244.50,555.34 1245.21,554.95 1245.91,554.63C1246.68,554.29 1247.44,553.44 1248.20,553.05C1249.08,552.60 1249.96,552.17 1250.85,551.99C1251.73,551.81 1252.61,551.64 1253.49,551.64C1254.37,551.64 1255.25,551.64 1256.13,551.64C1257.01,551.64 1257.89,551.91 1258.77,552.17C1259.54,552.39 1260.30,552.94 1261.06,553.40C1261.77,553.82 1262.47,554.41 1263.18,554.81C1263.77,555.14 1264.35,555.69 1264.94,555.69C1265.82,555.69 1266.70,555.30 1267.58,555.16C1268.46,555.02 1269.34,554.89 1270.23,554.81C1271.11,554.73 1271.99,554.73 1272.87,554.63C1273.75,554.54 1274.63,554.13 1275.51,553.93C1276.39,553.73 1277.27,553.40 1278.15,553.40C1279.03,553.40 1279.92,553.40 1280.80,553.40C1281.68,553.40 1282.56,553.79 1283.44,553.93C1284.32,554.07 1285.20,554.14 1286.08,554.28C1286.96,554.42 1287.84,554.67 1288.72,554.81C1289.61,554.95 1290.49,555.16 1291.37,555.16C1292.25,555.16 1293.13,555.16 1294.01,555.16C1294.49,555.16 1294.97,554.95 1295.45,554.82C1296.36,554.57 1297.27,554.05 1298.18,553.91C1299.09,553.77 1300.00,553.64 1300.91,553.64C1301.82,553.64 1302.73,553.64 1303.64,553.64C1304.55,553.64 1305.45,553.78 1306.36,553.91C1307.27,554.04 1308.18,554.30 1309.09,554.55C1310.00,554.80 1310.91,555.27 1311.82,555.45C1312.42,555.58 1313.03,555.73 1313.64,555.73C1314.39,555.73 1315.15,555.39 1315.91,555.27C1316.67,555.16 1317.42,555.00 1318.18,555.00C1319.09,555.00 1320.00,555.18 1320.91,555.18C1321.52,555.18 1322.12,554.96 1322.73,554.82C1323.33,554.67 1323.94,554.34 1324.55,554.27C1325.45,554.17 1326.36,554.09 1327.27,554.09C1328.18,554.09 1329.09,554.25 1330.00,554.36C1330.91,554.48 1331.82,554.68 1332.73,554.82C1333.64,554.95 1334.55,555.18 1335.45,555.18C1336.67,555.18 1337.88,555.18 1339.09,555.18C1340.30,555.18 1341.52,555.18 1342.73,555.18C1343.94,555.18 1345.15,555.12 1346.36,555.09C1347.58,555.06 1348.79,555.00 1350.00,555.00C1351.21,555.00 1352.42,555.00 1353.64,555.00C1354.55,555.00 1355.45,554.93 1356.36,554.82C1356.82,554.76 1357.27,554.41 1357.73,554.36C1358.18,554.31 1358.64,554.27 1359.09,554.27C1359.55,554.27 1360.00,554.67 1360.45,554.82C1361.21,555.07 1361.97,555.36 1362.73,555.45C1363.48,555.55 1364.24,555.64 1365.00,555.64C1365.76,555.64 1366.52,555.43 1367.27,555.27C1368.03,555.11 1368.79,554.68 1369.55,554.55C1370.30,554.41 1371.06,554.38 1371.82,554.27C1372.73,554.15 1373.64,554.03 1374.55,553.82C1375.30,553.64 1376.06,553.16 1376.82,553.00C1377.42,552.87 1378.03,552.94 1378.64,552.73C1378.85,552.65 1379.06,548.64 1379.27,548.64C1379.67,548.64 1380.06,548.64 1380.45,548.64C1380.67,548.64 1380.88,551.29 1381.09,551.82C1381.48,552.80 1381.88,553.27 1382.27,553.64C1382.88,554.21 1383.48,554.63 1384.09,554.82C1384.85,555.05 1385.61,555.23 1386.36,555.27C1387.27,555.33 1388.18,555.36 1389.09,555.36C1390.30,555.36 1391.52,555.24 1392.73,555.18C1393.94,555.12 1395.15,555.06 1396.36,555.00C1397.58,554.94 1398.79,554.91 1400.00,554.82C1400.70,554.77 1401.39,554.77 1402.09,554.55C1402.24,554.50 1402.39,550.09 1402.55,550.00C1402.91,549.80 1403.27,549.73 1403.64,549.73C1404.00,549.73 1404.36,550.78 1404.73,551.18C1405.27,551.79 1405.82,552.31 1406.36,552.73C1406.97,553.20 1407.58,553.63 1408.18,553.91C1408.79,554.18 1409.39,554.31 1410.00,554.55C1410.36,554.68 1410.73,554.85 1411.09,555.00" fill="none" stroke="#0b8742" stroke-width="1.7" stroke-linejoin="round" stroke-linecap="round"/>
<path d="M97.75,321.05 H1411.40 V567.27 H97.75 Z M97.75,321.05 v-8.3 M97.75,567.27 v8.3 M144.67,321.05 v-4.2 M144.67,567.27 v4.2 M191.58,321.05 v-4.2 M191.58,567.27 v4.2 M238.50,321.05 v-4.2 M238.50,567.27 v4.2 M285.41,321.05 v-4.2 M285.41,567.27 v4.2 M332.33,321.05 v-8.3 M332.33,567.27 v8.3 M379.25,321.05 v-4.2 M379.25,567.27 v4.2 M426.16,321.05 v-4.2 M426.16,567.27 v4.2 M473.08,321.05 v-4.2 M473.08,567.27 v4.2 M519.99,321.05 v-4.2 M519.99,567.27 v4.2 M566.91,321.05 v-8.3 M566.91,567.27 v8.3 M613.83,321.05 v-4.2 M613.83,567.27 v4.2 M660.74,321.05 v-4.2 M660.74,567.27 v4.2 M707.66,321.05 v-4.2 M707.66,567.27 v4.2 M754.58,321.05 v-4.2 M754.58,567.27 v4.2 M801.49,321.05 v-8.3 M801.49,567.27 v8.3 M848.41,321.05 v-4.2 M848.41,567.27 v4.2 M895.32,321.05 v-4.2 M895.32,567.27 v4.2 M942.24,321.05 v-4.2 M942.24,567.27 v4.2 M989.16,321.05 v-4.2 M989.16,567.27 v4.2 M1036.07,321.05 v-8.3 M1036.07,567.27 v8.3 M1082.99,321.05 v-4.2 M1082.99,567.27 v4.2 M1129.90,321.05 v-4.2 M1129.90,567.27 v4.2 M1176.82,321.05 v-4.2 M1176.82,567.27 v4.2 M1223.74,321.05 v-4.2 M1223.74,567.27 v4.2 M1270.65,321.05 v-8.3 M1270.65,567.27 v8.3 M1317.57,321.05 v-4.2 M1317.57,567.27 v4.2 M1364.48,321.05 v-4.2 M1364.48,567.27 v4.2 M1411.40,321.05 v-4.2 M1411.40,567.27 v4.2 M97.75,567.27 h-8.5 M1411.40,567.27 h8.5 M97.75,546.75 h-4.3 M1411.40,546.75 h4.3 M97.75,526.23 h-8.5 M1411.40,526.23 h8.5 M97.75,505.71 h-4.3 M1411.40,505.71 h4.3 M97.75,485.20 h-8.5 M1411.40,485.20 h8.5 M97.75,464.68 h-4.3 M1411.40,464.68 h4.3 M97.75,444.16 h-8.5 M1411.40,444.16 h8.5 M97.75,423.64 h-4.3 M1411.40,423.64 h4.3 M97.75,403.12 h-8.5 M1411.40,403.12 h8.5 M97.75,382.61 h-4.3 M1411.40,382.61 h4.3 M97.75,362.09 h-8.5 M1411.40,362.09 h8.5 M97.75,341.57 h-4.3 M1411.40,341.57 h4.3 M97.75,321.05 h-8.5 M1411.40,321.05 h8.5" fill="none" stroke="#000" stroke-width="1.3"/>
<g font-family="'Liberation Serif',serif" font-size="35.4" text-anchor="end" fill="#000">
<text x="74.3" y="579.5">0</text>
<text x="74.3" y="538.5">5</text>
<text x="74.3" y="497.5">10</text>
<text x="74.3" y="456.4">15</text>
<text x="74.3" y="415.4">20</text>
<text x="74.3" y="374.4">25</text>
<text x="74.3" y="333.3">30</text>
</g>
<text transform="translate(25.2,445.0) rotate(-90)" font-family="'Liberation Serif',serif" font-size="34.3" text-anchor="middle" fill="#000">Salinity(psu)</text>
<text x="0" y="302.8" font-family="'Liberation Sans',sans-serif" font-weight="bold" font-size="29.7" fill="#000">B</text>
<path d="M102.2,849.60 H1408.2" fill="none" stroke="#ed1c24" stroke-width="1.6" stroke-dasharray="8.5 7.922"/>
<path d="M97.75,847.62C98.82,847.62 99.89,847.62 100.95,847.62C101.68,847.62 102.41,847.62 103.14,847.62C103.60,847.62 104.06,847.12 104.51,846.52C104.97,845.93 105.43,843.49 105.88,841.59C106.52,838.94 107.16,835.42 107.80,832.01C108.44,828.60 109.08,824.75 109.72,821.06C110.26,817.90 110.81,813.56 111.36,811.47C111.91,809.39 112.45,806.82 113.00,806.82C113.46,806.82 113.91,807.32 114.37,807.91C114.92,808.63 115.47,812.57 116.01,814.21C116.65,816.12 117.29,818.08 117.93,818.87C118.48,819.54 119.03,820.24 119.57,820.24C120.03,820.24 120.49,819.14 120.94,819.14C121.58,819.14 122.22,820.56 122.86,821.06C123.59,821.62 124.32,822.43 125.05,822.43C125.87,822.43 126.69,821.68 127.51,821.06C128.43,820.37 129.34,818.61 130.25,817.77C130.98,817.10 131.71,816.13 132.44,816.13C133.08,816.13 133.72,816.83 134.36,817.50C135.09,818.26 135.82,820.52 136.55,821.88C137.28,823.24 138.01,825.04 138.74,825.71C139.47,826.39 140.20,827.08 140.93,827.08C141.57,827.08 142.21,826.53 142.85,826.53C143.67,826.53 144.49,827.79 145.31,828.18C146.04,828.53 146.77,829.00 147.50,829.00C148.23,829.00 148.96,828.09 149.69,827.08C150.33,826.20 150.97,824.01 151.61,821.06C152.07,818.95 152.52,814.41 152.98,810.11C153.53,804.94 154.07,797.75 154.62,790.94C155.17,784.12 155.72,776.33 156.27,769.03C156.81,761.73 157.36,755.11 157.91,747.13C158.36,740.47 158.82,731.17 159.28,725.22C159.73,719.27 160.19,713.11 160.65,710.16C161.19,706.62 161.74,702.97 162.29,702.77C162.75,702.60 163.20,702.49 163.66,702.49C164.21,702.49 164.75,706.43 165.30,708.79C166.03,711.94 166.76,715.84 167.49,719.74C168.13,723.16 168.77,727.05 169.41,730.70C170.05,734.35 170.69,738.86 171.33,741.65C172.06,744.84 172.79,748.07 173.52,749.32C174.25,750.56 174.98,751.63 175.71,751.78C176.53,751.95 177.35,751.94 178.17,752.05C179.08,752.18 180.00,752.32 180.91,752.60C181.64,752.83 182.37,753.29 183.10,753.97C183.83,754.66 184.56,756.53 185.29,758.08C186.11,759.82 186.93,762.30 187.75,764.10C188.48,765.71 189.22,767.71 189.95,768.48C190.86,769.45 191.77,770.02 192.68,770.40C193.60,770.78 194.51,771.22 195.42,771.22C196.33,771.22 197.25,770.89 198.16,770.40C198.89,770.01 199.62,768.38 200.35,766.29C200.99,764.47 201.63,760.87 202.27,755.34C202.72,751.39 203.18,741.55 203.64,733.43C204.09,725.32 204.55,714.70 205.01,706.05C205.46,697.41 205.92,687.33 206.37,681.41C206.92,674.31 207.47,668.66 208.02,664.98C208.66,660.68 209.30,657.48 209.93,655.40C210.57,653.31 211.21,651.07 211.85,650.74C212.49,650.41 213.13,650.19 213.77,650.19C214.32,650.19 214.86,652.38 215.41,654.03C216.05,655.94 216.69,659.50 217.33,662.24C217.97,664.98 218.61,667.72 219.24,670.46C219.88,673.19 220.52,675.50 221.16,678.67C221.71,681.39 222.26,685.06 222.80,688.25C223.35,691.45 223.90,695.67 224.45,697.84C224.99,700.01 225.54,702.77 226.09,702.77C226.82,702.77 227.55,702.77 228.28,702.77C229.19,702.77 230.11,701.14 231.02,700.58C231.93,700.01 232.84,699.36 233.76,699.21C234.67,699.05 235.58,698.93 236.50,698.93C237.41,698.93 238.32,699.79 239.23,700.58C240.15,701.36 241.06,703.03 241.97,704.68C242.70,706.01 243.43,708.20 244.16,709.61C244.80,710.85 245.44,712.90 246.08,712.90C246.63,712.90 247.17,712.67 247.72,712.35C248.36,711.98 249.00,709.77 249.64,707.42C250.28,705.07 250.92,700.85 251.56,695.10C252.01,690.99 252.47,682.75 252.92,675.93C253.38,669.12 253.84,658.89 254.29,654.03C254.75,649.16 255.21,644.67 255.66,643.07C256.30,640.84 256.94,639.98 257.58,638.97C258.31,637.81 259.04,637.04 259.77,636.23C260.50,635.42 261.23,634.04 261.96,634.04C262.42,634.04 262.87,634.42 263.33,634.86C263.97,635.47 264.61,638.42 265.25,640.34C265.89,642.25 266.52,644.67 267.16,646.36C267.80,648.05 268.44,648.93 269.08,650.74C269.63,652.29 270.18,654.60 270.72,656.76C271.36,659.28 272.00,662.79 272.64,664.98C273.28,667.17 273.92,669.64 274.56,670.46C275.10,671.15 275.65,671.82 276.20,671.82C276.84,671.82 277.48,670.24 278.12,669.09C278.85,667.77 279.58,665.29 280.31,663.61C281.04,661.93 281.77,659.88 282.50,658.96C283.32,657.92 284.14,656.76 284.96,656.76C285.69,656.76 286.42,657.12 287.15,657.59C287.88,658.05 288.61,660.15 289.34,662.24C289.98,664.07 290.62,667.51 291.26,670.46C291.90,673.40 292.54,677.51 293.18,680.04C293.82,682.57 294.45,685.96 295.09,686.34C295.64,686.66 296.19,686.88 296.74,686.88C297.28,686.88 297.83,683.16 298.38,680.04C299.02,676.40 299.66,668.39 300.30,662.24C300.93,656.09 301.57,647.08 302.21,643.07C302.85,639.06 303.49,635.86 304.13,634.31C304.86,632.54 305.59,631.58 306.32,630.75C307.05,629.92 307.78,628.99 308.51,628.83C309.24,628.67 309.97,628.56 310.70,628.56C311.34,628.56 311.98,630.15 312.62,631.57C313.26,633.00 313.90,636.37 314.53,638.97C315.17,641.56 315.81,645.50 316.45,647.18C317.18,649.10 317.91,649.92 318.64,651.29C319.37,652.66 320.10,653.85 320.83,655.40C321.47,656.75 322.11,659.15 322.75,660.05C323.30,660.82 323.84,661.69 324.39,661.69C324.94,661.69 325.49,658.53 326.04,656.76C326.77,654.41 327.50,650.80 328.23,649.10C328.96,647.39 329.69,645.89 330.42,645.26C331.24,644.56 332.06,643.89 332.88,643.89C334.11,643.89 335.34,647.02 336.57,649.92C337.30,651.64 338.03,654.85 338.76,658.13C339.49,661.42 340.22,666.78 340.95,670.46C341.59,673.67 342.23,677.83 342.87,679.22C343.51,680.61 344.15,681.96 344.79,681.96C345.33,681.96 345.88,680.36 346.43,678.67C346.98,676.99 347.52,672.24 348.07,667.72C348.62,663.20 349.17,654.77 349.72,649.92C350.26,645.06 350.81,639.85 351.36,637.60C352.09,634.59 352.82,632.56 353.55,631.57C354.37,630.46 355.19,629.38 356.01,629.38C356.74,629.38 357.47,630.04 358.20,630.75C358.84,631.38 359.48,633.03 360.12,634.86C360.76,636.68 361.40,640.34 362.04,643.07C362.68,645.81 363.32,648.91 363.95,651.29C364.59,653.66 365.23,656.61 365.87,657.59C366.51,658.57 367.15,658.53 367.79,659.50C368.34,660.33 368.88,662.26 369.43,664.43C369.98,666.60 370.53,674.02 371.07,674.02C371.53,674.02 371.99,671.43 372.44,669.09C372.90,666.74 373.36,659.47 373.81,656.76C374.45,652.98 375.09,649.99 375.73,648.55C376.46,646.91 377.19,645.43 377.92,645.26C378.65,645.10 379.38,644.99 380.11,644.99C380.84,644.99 381.57,646.09 382.30,647.18C382.94,648.14 383.58,650.47 384.22,652.66C384.86,654.85 385.49,657.92 386.13,660.87C386.77,663.82 387.41,667.26 388.05,670.46C388.69,673.65 389.33,678.12 389.97,680.04C390.61,681.96 391.24,683.64 391.88,684.15C392.43,684.58 392.98,684.97 393.53,684.97C394.07,684.97 394.62,683.20 395.17,681.41C395.72,679.62 396.27,674.84 396.81,670.46C397.36,666.07 397.91,657.71 398.46,654.03C399.09,649.73 399.73,645.74 400.37,644.44C401.10,642.96 401.83,641.70 402.56,641.70C403.20,641.70 403.84,642.35 404.48,643.07C405.03,643.69 405.58,645.48 406.12,647.18C406.58,648.59 407.04,652.66 407.49,652.66C408.04,652.66 408.59,652.11 409.13,652.11C409.68,652.11 410.23,655.42 410.78,656.76C411.42,658.33 412.06,659.16 412.69,660.87C413.33,662.58 413.97,664.87 414.61,667.72C415.16,670.16 415.71,673.89 416.25,677.30C416.80,680.71 417.35,685.72 417.90,688.25C418.35,690.37 418.81,693.18 419.27,693.18C419.72,693.18 420.18,689.86 420.64,686.88C421.18,683.32 421.73,673.04 422.28,667.72C422.83,662.39 423.37,655.92 423.92,654.03C424.56,651.81 425.20,649.92 425.84,649.92C426.48,649.92 427.12,650.57 427.75,651.29C428.30,651.91 428.85,653.83 429.40,655.40C429.95,656.96 430.49,658.84 431.04,660.87C431.59,662.90 432.14,664.83 432.68,667.72C433.14,670.12 433.60,677.30 434.05,677.30C434.51,677.30 434.97,670.46 435.42,670.46C435.88,670.46 436.33,674.11 436.79,674.56C437.25,675.02 437.70,674.90 438.16,675.38C438.62,675.87 439.07,678.82 439.53,681.41C439.99,684.00 440.44,688.85 440.90,692.36C441.35,695.87 441.81,702.49 442.27,702.49C442.63,702.49 443.00,698.51 443.36,695.10C443.82,690.83 444.28,679.12 444.73,673.19C445.28,666.08 445.83,657.71 446.37,655.40C447.01,652.70 447.65,651.01 448.29,650.47C449.02,649.85 449.75,649.37 450.48,649.37C451.12,649.37 451.76,650.71 452.40,651.29C452.95,651.78 453.49,652.66 454.04,652.66C454.50,652.66 454.95,651.29 455.41,651.29C455.87,651.29 456.32,655.33 456.78,658.13C457.24,660.94 457.69,669.09 458.15,669.09C458.61,669.09 459.06,666.35 459.52,666.35C459.97,666.35 460.43,669.24 460.89,670.46C461.34,671.67 461.80,672.21 462.26,673.74C462.71,675.27 463.17,678.13 463.63,681.41C464.08,684.69 464.54,690.12 464.99,695.10C465.45,700.08 465.91,707.88 466.36,711.53C466.82,715.18 467.28,719.74 467.73,719.74C468.19,719.74 468.65,716.05 469.10,711.53C469.47,707.91 469.83,690.47 470.20,684.15C470.65,676.25 471.11,667.35 471.57,666.35C472.11,665.15 472.66,664.43 473.21,664.43C473.85,664.43 474.49,666.26 475.13,667.72C475.67,668.97 476.22,671.17 476.77,673.19C477.32,675.22 477.86,678.14 478.41,680.04C478.87,681.62 479.32,682.16 479.78,684.15C480.24,686.14 480.69,691.69 481.15,695.10C481.61,698.51 482.06,703.99 482.52,704.68C483.07,705.52 483.61,705.32 484.16,706.05C484.71,706.78 485.26,709.50 485.81,711.53C486.35,713.56 486.90,716.09 487.45,718.37C488.00,720.66 488.54,723.57 489.09,725.22C489.55,726.60 490.00,728.51 490.46,728.51C490.92,728.51 491.37,724.05 491.83,719.74C492.29,715.43 492.74,699.99 493.20,695.10C493.75,689.23 494.29,684.19 494.84,682.78C495.57,680.89 496.30,679.49 497.03,679.49C497.67,679.49 498.31,679.72 498.95,680.04C499.50,680.31 500.04,681.56 500.59,682.78C501.14,683.99 501.69,688.25 502.23,688.25C502.69,688.25 503.15,686.88 503.60,686.88C504.06,686.88 504.52,692.40 504.97,695.10C505.52,698.34 506.07,702.36 506.62,704.68C507.16,707.01 507.71,708.13 508.26,710.16C508.81,712.19 509.35,714.34 509.90,717.01C510.45,719.67 511.00,723.64 511.54,726.59C512.09,729.54 512.64,732.61 513.19,734.80C513.73,736.99 514.28,740.28 514.83,740.28C515.29,740.28 515.74,739.09 516.20,737.54C516.66,736.00 517.11,728.10 517.57,722.48C518.02,716.86 518.48,706.11 518.94,703.31C519.49,699.96 520.03,697.31 520.58,697.02C521.22,696.67 521.86,696.47 522.50,696.47C523.14,696.47 523.78,698.75 524.41,700.58C524.96,702.14 525.51,705.14 526.06,707.42C526.60,709.70 527.15,712.96 527.70,714.27C528.25,715.57 528.80,715.64 529.34,717.01C529.89,718.37 530.44,722.27 530.99,725.22C531.53,728.17 532.08,731.61 532.63,734.80C533.18,738.00 533.72,741.44 534.27,744.39C534.82,747.34 535.37,750.41 535.91,752.60C536.46,754.79 537.01,758.08 537.56,758.08C538.11,758.08 538.65,757.53 539.20,756.71C539.75,755.89 540.30,749.65 540.84,744.39C541.39,739.13 541.94,727.74 542.49,722.48C543.03,717.22 543.58,711.82 544.13,710.16C544.77,708.23 545.41,706.60 546.05,706.60C546.68,706.60 547.32,706.93 547.96,707.42C548.51,707.85 549.06,710.71 549.61,712.90C550.15,715.09 550.70,718.62 551.25,721.11C551.80,723.60 552.34,726.65 552.89,727.96C553.44,729.26 553.99,729.24 554.53,730.70C555.08,732.16 555.63,738.00 556.18,741.65C556.73,745.30 557.27,749.47 557.82,752.60C558.37,755.73 558.92,758.63 559.46,760.82C560.10,763.36 560.74,766.28 561.38,767.12C561.93,767.83 562.48,768.48 563.02,768.48C563.57,768.48 564.12,766.23 564.67,763.56C565.12,761.32 565.58,752.60 566.04,747.13C566.49,741.65 566.95,733.56 567.40,730.70C567.95,727.26 568.50,724.29 569.05,723.85C569.69,723.34 570.32,723.03 570.96,723.03C571.51,723.03 572.06,725.69 572.61,727.96C573.15,730.22 573.70,736.33 574.25,738.91C575.02,742.55 575.80,743.89 576.57,747.13C577.12,749.42 577.67,752.39 578.21,755.34C578.76,758.29 579.31,761.98 579.86,764.92C580.41,767.87 580.95,770.65 581.50,773.14C582.05,775.63 582.60,778.27 583.14,779.98C583.69,781.70 584.24,783.41 584.79,784.09C585.33,784.78 585.88,785.46 586.43,785.46C586.89,785.46 587.34,783.51 587.80,781.35C588.25,779.20 588.71,771.92 589.17,766.29C589.62,760.67 590.08,751.77 590.54,747.13C590.99,742.48 591.45,738.19 591.91,736.17C592.45,733.75 593.00,731.57 593.55,731.24C594.10,730.92 594.64,730.70 595.19,730.70C595.74,730.70 596.29,733.85 596.83,736.17C597.38,738.50 597.93,742.56 598.48,745.76C599.03,748.95 599.57,753.73 600.12,755.34C600.58,756.68 601.03,756.71 601.49,758.08C601.95,759.45 602.40,763.59 602.86,766.29C603.41,769.53 603.95,772.68 604.50,775.88C605.05,779.07 605.60,782.80 606.14,785.46C606.69,788.12 607.24,790.46 607.79,792.31C608.34,794.15 608.88,795.97 609.43,796.96C609.98,797.95 610.53,799.15 611.07,799.15C611.62,799.15 612.17,797.32 612.72,795.04C613.17,793.15 613.63,785.61 614.09,779.98C614.54,774.36 615.00,764.98 615.45,760.82C616.00,755.82 616.55,751.32 617.10,749.86C617.65,748.40 618.19,747.13 618.74,747.13C619.29,747.13 619.84,749.32 620.38,751.23C620.93,753.15 621.48,757.41 622.03,760.82C622.57,764.22 623.12,768.96 623.67,771.77C624.22,774.58 624.76,776.33 625.31,778.62C625.86,780.90 626.41,782.80 626.96,785.46C627.50,788.12 628.05,792.10 628.60,795.04C629.15,797.99 629.69,801.07 630.24,803.26C630.79,805.45 631.34,807.30 631.88,808.74C632.43,810.17 632.98,811.98 633.53,812.30C634.07,812.61 634.62,812.84 635.17,812.84C635.72,812.84 636.27,810.27 636.81,807.37C637.27,804.94 637.73,796.84 638.18,790.94C638.64,785.04 639.09,775.94 639.55,771.77C640.10,766.77 640.65,762.28 641.19,760.82C641.74,759.36 642.29,758.08 642.84,758.08C643.38,758.08 643.93,761.12 644.48,763.56C645.03,765.99 645.58,770.45 646.12,774.51C646.67,778.56 647.22,785.59 647.77,788.20C648.31,790.81 648.86,791.85 649.41,793.68C649.96,795.50 650.50,796.96 651.05,799.15C651.60,801.34 652.15,804.88 652.69,807.37C653.24,809.86 653.79,812.18 654.34,814.21C654.88,816.24 655.43,818.25 655.98,819.69C656.53,821.13 657.08,822.93 657.62,823.25C658.17,823.57 658.72,823.80 659.27,823.80C659.81,823.80 660.36,821.10 660.91,818.32C661.37,816.00 661.82,809.61 662.28,804.63C662.73,799.65 663.19,792.02 663.65,788.20C664.19,783.62 664.74,778.87 665.29,777.79C665.84,776.72 666.39,775.88 666.93,775.88C667.48,775.88 668.03,778.83 668.58,781.35C669.12,783.88 669.67,789.81 670.22,793.68C670.77,797.54 671.31,802.19 671.86,804.63C672.41,807.06 672.96,808.28 673.50,810.11C674.05,811.93 674.60,813.76 675.15,815.58C675.70,817.41 676.24,819.37 676.79,821.06C677.43,823.03 678.07,825.10 678.71,826.53C679.35,827.97 679.99,829.26 680.62,830.09C681.26,830.92 681.90,832.01 682.54,832.01C683.18,832.01 683.82,831.47 684.46,830.64C685.01,829.93 685.55,825.13 686.10,821.06C686.56,817.67 687.01,811.42 687.47,807.37C687.93,803.31 688.38,798.35 688.84,796.41C689.39,794.09 689.93,791.76 690.48,791.76C691.03,791.76 691.58,792.59 692.12,793.68C692.67,794.76 693.22,800.98 693.77,804.63C694.32,808.28 694.86,813.15 695.41,815.58C695.96,818.02 696.51,819.49 697.05,821.06C697.60,822.62 698.15,823.60 698.70,825.17C699.24,826.73 699.79,829.21 700.34,830.64C700.98,832.32 701.62,833.65 702.26,834.75C702.90,835.84 703.53,836.85 704.17,837.49C704.90,838.21 705.63,839.13 706.36,839.13C707.09,839.13 707.82,838.70 708.55,838.04C709.10,837.54 709.65,834.80 710.20,832.01C710.65,829.69 711.11,824.47 711.57,821.06C712.02,817.65 712.48,813.56 712.94,811.47C713.48,808.97 714.03,806.33 714.58,806.00C715.13,805.67 715.67,805.45 716.22,805.45C716.77,805.45 717.32,809.01 717.86,811.47C718.41,813.94 718.96,818.40 719.51,821.06C720.05,823.72 720.60,826.60 721.15,827.90C721.70,829.21 722.25,829.55 722.79,830.64C723.34,831.74 723.89,833.48 724.44,834.75C725.07,836.23 725.71,837.90 726.35,838.86C726.99,839.81 727.63,840.53 728.27,841.05C729.00,841.64 729.73,842.42 730.46,842.42C731.19,842.42 731.92,842.42 732.65,842.42C733.20,842.42 733.75,840.53 734.29,838.86C734.75,837.46 735.21,833.92 735.66,832.01C736.12,830.10 736.58,827.90 737.03,827.08C737.58,826.10 738.13,825.17 738.67,825.17C739.22,825.17 739.77,825.50 740.32,825.99C740.87,826.47 741.41,830.38 741.96,832.01C742.51,833.64 743.06,835.02 743.60,836.12C744.15,837.21 744.70,838.07 745.25,838.86C745.98,839.91 746.71,840.84 747.44,841.59C748.17,842.35 748.90,843.08 749.63,843.51C750.45,844.00 751.27,844.47 752.09,844.61C753.00,844.76 753.92,844.88 754.83,844.88C755.74,844.88 756.66,844.45 757.57,843.79C758.21,843.32 758.85,840.90 759.49,838.86C760.03,837.10 760.58,833.92 761.13,832.01C761.68,830.10 762.22,828.00 762.77,827.08C763.32,826.16 763.87,825.17 764.41,825.17C764.96,825.17 765.51,827.56 766.06,829.27C766.60,830.98 767.15,834.81 767.70,836.12C768.25,837.42 768.80,838.30 769.34,838.86C769.98,839.50 770.62,839.62 771.26,840.23C771.90,840.83 772.54,842.27 773.18,842.96C773.91,843.76 774.64,844.55 775.37,844.88C776.28,845.30 777.19,845.70 778.11,845.70C779.02,845.70 779.93,845.70 780.84,845.70C781.76,845.70 782.67,845.49 783.58,845.15C784.22,844.92 784.86,843.40 785.50,842.42C786.05,841.57 786.59,839.68 787.14,839.68C787.69,839.68 788.24,840.28 788.78,840.77C789.42,841.35 790.06,842.92 790.70,843.51C791.52,844.27 792.34,844.68 793.17,845.15C794.08,845.68 794.99,846.23 795.90,846.52C797.09,846.90 798.28,847.20 799.46,847.35C800.56,847.48 801.65,847.62 802.75,847.62C803.84,847.62 804.94,847.52 806.04,847.35C806.77,847.23 807.50,846.69 808.23,845.70C808.77,844.96 809.32,840.91 809.87,837.49C810.42,834.06 810.96,828.12 811.51,823.80C812.06,819.47 812.61,813.82 813.15,811.47C813.70,809.13 814.25,807.59 814.80,806.55C814.88,806.38 814.97,806.15 815.05,806.15C815.40,806.15 815.75,807.69 816.10,809.31C816.45,810.93 816.80,816.81 817.15,819.83C817.58,823.45 818.00,828.27 818.42,829.30C818.91,830.50 819.40,830.50 819.89,831.40C820.31,832.17 820.73,833.63 821.15,834.56C821.50,835.34 821.85,836.66 822.21,836.66C822.56,836.66 822.91,833.51 823.26,833.51C823.61,833.51 823.96,839.40 824.31,839.82C824.87,840.50 825.43,840.40 825.99,840.87C826.62,841.41 827.26,842.67 827.89,843.40C828.59,844.20 829.29,845.10 829.99,845.50C830.90,846.02 831.82,846.44 832.73,846.55C833.71,846.67 834.69,846.68 835.67,846.76C836.80,846.87 837.92,846.99 839.04,847.19C840.02,847.36 841.00,847.91 841.99,848.03C842.90,848.14 843.81,848.24 844.72,848.24C845.77,848.24 846.83,848.14 847.88,848.03C848.93,847.91 849.98,847.19 851.04,847.19C852.09,847.19 853.14,847.44 854.19,847.61C855.24,847.77 856.30,848.24 857.35,848.24C857.91,848.24 858.47,847.88 859.03,847.19C859.38,846.75 859.73,841.87 860.08,838.77C860.51,835.04 860.93,830.35 861.35,826.14C861.77,821.93 862.19,816.62 862.61,813.52C863.03,810.41 863.45,806.97 863.87,806.15C864.29,805.33 864.71,804.68 865.13,804.68C865.49,804.68 865.84,805.91 866.19,807.20C866.54,808.50 866.89,812.90 867.24,815.62C867.66,818.88 868.08,823.33 868.50,825.09C868.99,827.14 869.48,827.99 869.97,829.30C870.40,830.42 870.82,830.88 871.24,832.45C871.59,833.77 871.94,837.79 872.29,839.82C872.57,841.45 872.85,844.03 873.13,844.03C873.48,844.03 873.83,840.08 874.18,838.77C874.53,837.45 874.88,836.72 875.24,835.61C875.66,834.28 876.08,831.96 876.50,831.40C876.92,830.84 877.34,830.35 877.76,830.35C878.18,830.35 878.60,832.06 879.02,832.88C879.51,833.82 880.01,835.21 880.50,835.61C881.20,836.18 881.90,836.66 882.60,836.66C883.30,836.66 884.00,836.40 884.71,836.24C885.55,836.06 886.39,835.79 887.23,835.61C888.00,835.45 888.77,835.19 889.55,835.19C890.25,835.19 890.95,835.79 891.65,836.24C892.35,836.69 893.05,837.60 893.75,838.14C894.60,838.78 895.44,839.39 896.28,839.82C897.12,840.25 897.96,840.54 898.80,840.87C899.72,841.24 900.63,841.47 901.54,841.92C902.24,842.28 902.94,842.87 903.64,843.40C904.35,843.92 905.05,845.08 905.75,845.08C906.31,845.08 906.87,844.72 907.43,844.03C907.78,843.60 908.13,839.94 908.48,836.66C908.84,833.39 909.19,827.01 909.54,821.93C909.96,815.84 910.38,808.52 910.80,802.99C911.22,797.47 911.64,791.78 912.06,788.26C912.55,784.16 913.04,780.07 913.54,778.79C913.96,777.70 914.38,776.69 914.80,776.69C915.15,776.69 915.50,777.08 915.85,777.74C916.13,778.27 916.41,782.27 916.69,786.16C916.97,790.04 917.25,799.82 917.53,805.10C917.88,811.70 918.24,820.38 918.59,821.93C919.01,823.79 919.43,823.77 919.85,825.09C920.27,826.40 920.69,828.43 921.11,830.35C921.46,831.95 921.81,835.61 922.16,835.61C922.51,835.61 922.86,831.40 923.22,831.40C923.57,831.40 923.92,836.66 924.27,836.66C924.62,836.66 924.97,832.03 925.32,832.03C925.81,832.03 926.30,832.90 926.79,833.51C927.35,834.20 927.92,835.65 928.48,836.24C929.11,836.91 929.74,837.72 930.37,837.72C931.07,837.72 931.77,837.72 932.47,837.72C933.04,837.72 933.60,836.77 934.16,835.61C934.58,834.74 935.00,831.56 935.42,829.30C935.84,827.03 936.26,823.56 936.68,821.93C937.17,820.03 937.67,818.45 938.16,817.72C938.65,817.00 939.14,816.25 939.63,816.25C940.12,816.25 940.61,816.42 941.10,816.67C941.59,816.92 942.08,819.10 942.58,819.83C943.07,820.56 943.56,820.57 944.05,821.51C944.47,822.32 944.89,826.24 945.31,828.25C945.80,830.59 946.29,832.45 946.78,834.56C947.28,836.66 947.77,839.77 948.26,840.87C948.82,842.13 949.38,843.40 949.94,843.40C950.64,843.40 951.34,842.98 952.05,842.98C952.75,842.98 953.45,843.16 954.15,843.40C954.71,843.59 955.27,844.52 955.83,845.08C956.18,845.43 956.53,846.13 956.89,846.13C957.24,846.13 957.59,842.04 957.94,838.77C958.29,835.49 958.64,828.83 958.99,824.04C959.41,818.28 959.83,811.52 960.25,807.20C960.67,802.89 961.09,798.62 961.52,796.68C962.01,794.41 962.50,792.20 962.99,792.05C963.41,791.92 963.83,791.84 964.25,791.84C964.67,791.84 965.09,794.30 965.51,795.63C965.93,796.96 966.36,799.33 966.78,799.84C967.27,800.42 967.76,800.23 968.25,800.89C968.60,801.36 968.95,805.29 969.30,807.20C969.65,809.12 970.00,810.51 970.35,812.46C970.63,814.03 970.91,817.72 971.20,817.72C971.48,817.72 971.76,814.57 972.04,814.57C972.32,814.57 972.60,822.98 972.88,822.98C973.16,822.98 973.44,819.83 973.72,819.83C974.07,819.83 974.42,825.89 974.77,828.25C975.26,831.55 975.75,834.67 976.25,836.66C976.81,838.95 977.37,840.93 977.93,841.92C978.63,843.16 979.33,844.31 980.03,844.45C980.66,844.58 981.30,844.66 981.93,844.66C982.35,844.66 982.77,841.76 983.19,838.77C983.54,836.27 983.89,827.49 984.24,824.04C984.66,819.89 985.08,815.84 985.51,814.57C986.00,813.08 986.49,812.07 986.98,811.83C987.47,811.59 987.96,811.41 988.45,811.41C988.87,811.41 989.29,814.04 989.71,814.57C990.13,815.09 990.56,815.09 990.98,815.62C991.40,816.15 991.82,817.20 992.24,818.78C992.66,820.35 993.08,825.51 993.50,828.25C993.99,831.44 994.48,834.52 994.97,836.66C995.54,839.11 996.10,841.34 996.66,842.56C997.29,843.93 997.92,845.01 998.55,845.50C999.39,846.15 1000.24,846.76 1001.08,846.76C1001.92,846.76 1002.76,846.70 1003.60,846.55C1004.09,846.47 1004.58,845.04 1005.08,842.98C1005.43,841.51 1005.78,834.50 1006.13,830.35C1006.55,825.37 1006.97,819.37 1007.39,815.62C1007.88,811.24 1008.37,807.44 1008.86,805.10C1009.35,802.76 1009.85,800.42 1010.34,799.84C1010.83,799.25 1011.32,798.78 1011.81,798.78C1012.23,798.78 1012.65,799.84 1013.07,800.89C1013.49,801.94 1013.91,804.80 1014.34,807.20C1014.76,809.61 1015.18,812.81 1015.60,815.62C1016.02,818.43 1016.44,821.64 1016.86,824.04C1017.21,826.03 1017.56,829.30 1017.91,829.30C1018.26,829.30 1018.61,826.14 1018.96,826.14C1019.32,826.14 1019.67,829.07 1020.02,830.35C1020.44,831.88 1020.86,832.88 1021.28,834.56C1021.70,836.24 1022.12,839.33 1022.54,840.87C1023.03,842.67 1023.52,844.22 1024.02,845.08C1024.58,846.07 1025.14,846.99 1025.70,847.19C1026.40,847.43 1027.10,847.61 1027.80,847.61C1028.36,847.61 1028.93,847.06 1029.49,846.13C1029.84,845.55 1030.19,841.43 1030.54,838.77C1030.96,835.57 1031.38,830.65 1031.80,828.25C1032.29,825.44 1032.78,822.98 1033.27,821.93C1033.77,820.88 1034.26,820.15 1034.75,819.83C1035.24,819.50 1035.73,819.20 1036.22,819.20C1036.71,819.20 1037.20,821.37 1037.69,821.93C1038.11,822.41 1038.54,822.40 1038.96,822.98C1039.38,823.57 1039.80,826.09 1040.22,828.25C1040.64,830.40 1041.06,834.46 1041.48,836.66C1041.97,839.24 1042.46,841.42 1042.95,842.98C1043.52,844.76 1044.08,846.56 1044.64,847.19C1045.34,847.97 1046.04,848.57 1046.74,848.66C1047.79,848.79 1048.85,848.87 1049.90,848.87C1050.95,848.87 1052.00,848.82 1053.06,848.66C1053.41,848.60 1053.76,844.43 1054.11,840.87C1054.56,836.26 1055.02,821.64 1055.47,817.72C1055.96,813.50 1056.45,811.18 1056.94,809.31C1057.44,807.44 1057.93,805.83 1058.42,805.10C1058.91,804.37 1059.40,803.62 1059.89,803.62C1060.31,803.62 1060.73,804.82 1061.15,806.15C1061.50,807.26 1061.85,810.90 1062.21,813.52C1062.56,816.13 1062.91,819.53 1063.26,821.93C1063.61,824.34 1063.96,826.33 1064.31,828.25C1064.66,830.16 1065.01,833.51 1065.36,833.51C1065.64,833.51 1065.92,830.35 1066.20,830.35C1066.55,830.35 1066.91,835.03 1067.26,835.61C1067.61,836.20 1067.96,836.08 1068.31,836.66C1068.66,837.25 1069.01,840.51 1069.36,841.92C1069.78,843.62 1070.20,845.20 1070.62,846.13C1071.18,847.38 1071.75,848.48 1072.31,848.87C1073.15,849.45 1073.99,849.92 1074.83,849.92C1075.67,849.92 1076.52,849.75 1077.36,849.29C1077.71,849.10 1078.06,845.61 1078.41,842.98C1078.76,840.35 1079.11,835.06 1079.46,832.45C1079.88,829.33 1080.30,826.87 1080.72,825.09C1081.14,823.30 1081.57,821.68 1081.99,820.88C1082.41,820.08 1082.83,819.20 1083.25,819.20C1083.67,819.20 1084.09,820.03 1084.51,820.88C1084.86,821.59 1085.21,823.89 1085.56,825.09C1085.91,826.29 1086.27,828.25 1086.62,828.25C1086.97,828.25 1087.32,827.19 1087.67,827.19C1088.02,827.19 1088.37,832.32 1088.72,834.56C1089.14,837.24 1089.56,840.05 1089.98,841.92C1090.47,844.11 1090.97,846.21 1091.46,847.19C1092.09,848.43 1092.72,849.46 1093.35,849.71C1094.33,850.09 1095.31,850.34 1096.30,850.34C1097.70,850.34 1099.10,850.26 1100.51,849.92C1100.86,849.84 1101.21,846.12 1101.56,842.98C1101.91,839.83 1102.26,832.36 1102.61,828.25C1103.03,823.31 1103.45,818.45 1103.87,815.62C1104.36,812.32 1104.85,809.58 1105.35,808.25C1105.84,806.92 1106.33,805.52 1106.82,805.52C1107.24,805.52 1107.66,805.59 1108.08,805.73C1108.43,805.84 1108.78,807.70 1109.13,809.31C1109.48,810.91 1109.83,814.05 1110.19,816.67C1110.54,819.29 1110.89,822.47 1111.24,825.09C1111.59,827.71 1111.94,830.76 1112.29,832.45C1112.57,833.81 1112.85,835.61 1113.13,835.61C1113.41,835.61 1113.69,833.51 1113.97,833.51C1114.32,833.51 1114.67,835.35 1115.03,836.66C1115.38,837.98 1115.73,840.33 1116.08,841.92C1116.50,843.84 1116.92,846.18 1117.34,847.19C1117.90,848.53 1118.46,849.60 1119.02,849.92C1119.87,850.41 1120.71,850.76 1121.55,850.76C1122.60,850.76 1123.65,850.64 1124.71,850.34C1125.20,850.20 1125.69,849.11 1126.18,847.19C1126.46,846.09 1126.74,839.79 1127.02,836.66C1127.37,832.75 1127.72,828.50 1128.07,826.14C1128.49,823.31 1128.91,821.03 1129.34,819.83C1129.76,818.63 1130.18,817.30 1130.60,817.30C1131.02,817.30 1131.44,817.46 1131.86,817.72C1132.21,817.95 1132.56,820.15 1132.91,821.93C1133.26,823.72 1133.61,828.68 1133.96,829.30C1134.32,829.91 1134.67,829.77 1135.02,830.35C1135.37,830.93 1135.72,833.73 1136.07,835.61C1136.49,837.87 1136.91,841.10 1137.33,842.98C1137.82,845.17 1138.31,847.44 1138.80,848.24C1139.51,849.37 1140.21,850.19 1140.91,850.34C1142.17,850.62 1143.43,850.76 1144.70,850.76C1145.96,850.76 1147.22,850.68 1148.48,850.34C1148.84,850.25 1149.19,846.25 1149.54,842.98C1149.89,839.70 1150.24,832.16 1150.59,828.25C1151.01,823.55 1151.43,818.98 1151.85,816.67C1152.34,813.98 1152.83,811.68 1153.32,810.99C1153.82,810.30 1154.31,809.73 1154.80,809.73C1155.15,809.73 1155.50,810.52 1155.85,811.41C1156.20,812.30 1156.55,815.46 1156.90,817.72C1157.25,819.99 1157.60,822.63 1157.95,825.09C1158.31,827.54 1158.66,830.67 1159.01,832.45C1159.36,834.24 1159.71,836.66 1160.06,836.66C1160.34,836.66 1160.62,834.56 1160.90,834.56C1161.25,834.56 1161.60,836.40 1161.95,837.72C1162.30,839.03 1162.65,841.50 1163.01,842.98C1163.50,845.04 1163.99,847.27 1164.48,848.24C1165.11,849.49 1165.74,850.53 1166.37,850.76C1167.42,851.15 1168.48,851.39 1169.53,851.39C1170.58,851.39 1171.63,851.25 1172.69,850.76C1173.04,850.60 1173.39,846.19 1173.74,842.98C1174.09,839.77 1174.44,833.38 1174.79,830.35C1175.21,826.71 1175.63,823.51 1176.05,821.93C1176.54,820.09 1177.03,818.43 1177.53,818.14C1177.95,817.90 1178.37,817.72 1178.79,817.72C1179.14,817.72 1179.49,818.74 1179.84,819.83C1180.19,820.92 1180.54,825.41 1180.89,827.19C1181.24,828.98 1181.59,830.84 1181.94,831.40C1182.30,831.96 1182.65,831.87 1183.00,832.45C1183.35,833.04 1183.70,835.96 1184.05,837.72C1184.47,839.82 1184.89,842.35 1185.31,844.03C1185.80,845.99 1186.29,848.09 1186.78,848.87C1187.49,849.98 1188.19,850.83 1188.89,850.97C1190.29,851.25 1191.69,851.39 1193.10,851.39C1194.29,851.39 1195.48,851.26 1196.68,850.76C1197.03,850.62 1197.38,846.19 1197.73,842.98C1198.08,839.77 1198.43,833.82 1198.78,830.35C1199.20,826.19 1199.62,821.64 1200.04,819.83C1200.53,817.71 1201.02,816.18 1201.52,815.62C1202.01,815.06 1202.50,814.57 1202.99,814.57C1203.34,814.57 1203.69,815.62 1204.04,816.67C1204.39,817.72 1204.74,820.72 1205.09,822.98C1205.44,825.25 1205.79,828.08 1206.14,830.35C1206.50,832.62 1206.85,835.26 1207.20,836.66C1207.55,838.07 1207.90,839.82 1208.25,839.82C1208.60,839.82 1208.95,838.77 1209.30,838.77C1209.65,838.77 1210.00,841.70 1210.35,842.98C1210.77,844.51 1211.20,846.16 1211.62,847.19C1212.18,848.55 1212.74,849.98 1213.30,850.34C1214.28,850.97 1215.26,851.39 1216.25,851.39C1217.65,851.39 1219.05,851.30 1220.45,850.97C1220.88,850.87 1221.30,847.79 1221.72,845.08C1222.07,842.82 1222.42,837.58 1222.77,834.56C1223.19,830.94 1223.61,826.85 1224.03,825.09C1224.52,823.03 1225.01,821.29 1225.51,820.88C1225.93,820.53 1226.35,820.25 1226.77,820.25C1227.12,820.25 1227.47,821.05 1227.82,821.93C1228.17,822.82 1228.52,826.56 1228.87,828.25C1229.22,829.93 1229.57,831.05 1229.92,832.45C1230.27,833.86 1230.63,835.11 1230.98,836.66C1231.40,838.53 1231.82,841.22 1232.24,842.98C1232.73,845.03 1233.22,847.27 1233.71,848.24C1234.34,849.49 1234.97,850.56 1235.61,850.76C1236.87,851.17 1238.13,851.39 1239.39,851.39C1241.15,851.39 1242.90,851.28 1244.65,850.76C1245.08,850.64 1245.50,846.21 1245.92,842.98C1246.27,840.28 1246.62,835.28 1246.97,832.45C1247.39,829.07 1247.81,825.78 1248.23,824.04C1248.65,822.30 1249.07,820.71 1249.49,820.25C1249.92,819.79 1250.34,819.41 1250.76,819.41C1251.11,819.41 1251.46,820.73 1251.81,821.93C1252.16,823.14 1252.51,826.33 1252.86,828.25C1253.21,830.16 1253.56,831.95 1253.91,833.51C1254.26,835.07 1254.62,836.51 1254.97,837.72C1255.32,838.92 1255.67,840.35 1256.02,840.87C1256.37,841.40 1256.72,841.39 1257.07,841.92C1257.49,842.56 1257.91,845.03 1258.33,846.13C1258.89,847.60 1259.46,849.12 1260.02,849.71C1260.86,850.60 1261.70,851.39 1262.54,851.39C1263.95,851.39 1265.35,851.39 1266.75,851.39C1267.45,851.39 1268.15,851.07 1268.86,850.34C1269.21,849.98 1269.56,845.60 1269.91,842.98C1270.26,840.36 1270.61,836.73 1270.96,834.56C1271.38,831.95 1271.80,829.77 1272.22,828.25C1272.64,826.72 1273.06,825.03 1273.48,824.67C1273.91,824.31 1274.33,824.04 1274.75,824.04C1275.10,824.04 1275.45,825.14 1275.80,826.14C1276.15,827.14 1276.50,829.65 1276.85,831.40C1277.20,833.16 1277.55,835.10 1277.90,836.66C1278.25,838.22 1278.61,840.31 1278.96,840.87C1279.31,841.43 1279.66,841.39 1280.01,841.92C1280.43,842.56 1280.85,845.03 1281.27,846.13C1281.83,847.60 1282.39,849.09 1282.95,849.71C1283.73,850.57 1284.50,851.39 1285.27,851.39C1286.81,851.39 1288.36,851.39 1289.90,851.39C1290.95,851.39 1292.00,851.11 1293.06,850.34C1293.41,850.09 1293.76,847.10 1294.11,845.08C1294.57,842.42 1295.03,838.14 1295.49,835.46C1295.94,832.89 1296.38,830.22 1296.82,828.83C1297.23,827.54 1297.64,826.13 1298.05,825.99C1298.37,825.88 1298.68,825.80 1299.00,825.80C1299.25,825.80 1299.50,827.37 1299.76,828.83C1299.98,830.10 1300.20,833.75 1300.42,835.46C1300.67,837.41 1300.92,839.41 1301.18,840.19C1301.49,841.17 1301.81,841.60 1302.12,842.09C1302.50,842.68 1302.88,842.92 1303.26,843.51C1303.64,844.10 1304.02,845.05 1304.40,845.88C1304.81,846.78 1305.22,848.07 1305.63,848.72C1306.10,849.47 1306.58,850.22 1307.05,850.42C1307.68,850.69 1308.31,850.90 1308.94,850.90C1309.89,850.90 1310.84,850.90 1311.78,850.90C1312.73,850.90 1313.68,850.85 1314.63,850.80C1315.42,850.77 1316.20,850.76 1316.99,850.61C1317.31,850.56 1317.63,848.43 1317.94,846.82C1318.26,845.22 1318.57,842.13 1318.89,840.19C1319.30,837.68 1319.71,835.33 1320.12,833.56C1320.56,831.66 1321.00,829.60 1321.45,828.83C1321.86,828.12 1322.27,827.41 1322.68,827.41C1322.99,827.41 1323.31,827.59 1323.62,827.88C1323.84,828.09 1324.07,829.53 1324.29,830.72C1324.54,832.09 1324.79,834.89 1325.04,836.41C1325.30,837.92 1325.55,839.54 1325.80,840.19C1326.18,841.17 1326.56,841.46 1326.94,842.09C1327.32,842.72 1327.70,843.25 1328.08,843.98C1328.49,844.78 1328.90,845.96 1329.31,846.82C1329.72,847.69 1330.13,848.69 1330.54,849.19C1331.07,849.85 1331.61,850.49 1332.15,850.61C1332.94,850.79 1333.73,850.90 1334.52,850.90C1335.78,850.90 1337.04,850.90 1338.30,850.90C1339.25,850.90 1340.20,850.83 1341.15,850.61C1341.46,850.54 1341.78,848.34 1342.09,846.82C1342.41,845.31 1342.72,842.70 1343.04,841.14C1343.42,839.27 1343.80,837.65 1344.18,836.41C1344.59,835.06 1345.00,833.48 1345.41,833.09C1345.79,832.73 1346.17,832.43 1346.54,832.43C1346.83,832.43 1347.11,832.90 1347.40,833.56C1347.59,834.01 1347.78,836.13 1347.97,837.35C1348.22,838.99 1348.47,841.05 1348.72,842.09C1349.04,843.39 1349.35,844.33 1349.67,844.93C1350.14,845.83 1350.62,846.19 1351.09,846.82C1351.56,847.46 1352.04,848.21 1352.51,848.72C1353.14,849.40 1353.77,850.27 1354.41,850.42C1355.35,850.66 1356.30,850.80 1357.25,850.80C1358.51,850.80 1359.77,850.80 1361.04,850.80C1362.30,850.80 1363.56,850.76 1364.82,850.61C1365.20,850.57 1365.58,849.00 1365.96,847.77C1366.37,846.45 1366.78,843.98 1367.19,842.09C1367.60,840.19 1368.01,837.86 1368.42,836.41C1368.87,834.84 1369.31,833.23 1369.75,832.62C1370.16,832.05 1370.57,831.48 1370.98,831.48C1371.30,831.48 1371.61,831.63 1371.93,831.86C1372.18,832.05 1372.43,833.32 1372.69,834.51C1372.91,835.56 1373.13,838.10 1373.35,839.25C1373.66,840.89 1373.98,842.27 1374.30,843.04C1374.77,844.18 1375.24,844.81 1375.72,845.40C1376.19,846.00 1376.66,846.26 1377.14,846.82C1377.61,847.39 1378.08,848.41 1378.56,848.91C1379.19,849.57 1379.82,850.27 1380.45,850.42C1381.40,850.65 1382.35,850.80 1383.29,850.80C1384.40,850.80 1385.50,850.80 1386.61,850.80C1387.56,850.80 1388.50,850.71 1389.45,850.42C1389.77,850.33 1390.08,848.19 1390.40,846.82C1390.71,845.46 1391.03,843.03 1391.34,842.09C1391.72,840.96 1392.10,840.15 1392.48,839.72C1392.89,839.26 1393.30,838.98 1393.71,838.77C1394.12,838.56 1394.53,838.30 1394.94,838.30C1395.17,838.30 1395.39,839.06 1395.61,839.72C1395.83,840.38 1396.05,842.20 1396.27,843.04C1396.59,844.24 1396.90,845.23 1397.22,845.88C1397.63,846.72 1398.04,847.30 1398.45,847.77C1399.08,848.50 1399.71,849.12 1400.34,849.48C1401.13,849.92 1401.92,850.35 1402.71,850.42C1403.97,850.54 1405.24,850.61 1406.50,850.61C1408.08,850.61 1409.66,850.61 1411.24,850.61" fill="none" stroke="#000" stroke-width="1.7" stroke-linejoin="round" stroke-linecap="round"/>
<path d="M97.75,837.49C98.82,837.03 99.89,836.57 100.95,836.12C102.05,835.66 103.14,835.36 104.24,834.75C105.15,834.24 106.06,833.91 106.98,832.56C107.52,831.75 108.07,828.38 108.62,823.80C109.08,819.98 109.53,807.80 109.99,799.15C110.45,790.51 110.90,777.37 111.36,771.77C112.00,763.93 112.64,760.46 113.27,755.34C114.01,749.49 114.74,743.96 115.47,738.91C116.10,734.50 116.74,729.12 117.38,726.59C118.02,724.06 118.66,721.65 119.30,721.11C119.85,720.65 120.39,720.29 120.94,720.29C121.40,720.29 121.85,722.37 122.31,723.85C122.68,725.04 123.04,727.81 123.41,728.51C123.86,729.38 124.32,729.17 124.78,730.15C125.14,730.93 125.51,735.10 125.87,738.91C126.24,742.72 126.60,751.49 126.97,755.34C127.42,760.16 127.88,763.81 128.34,766.29C128.97,769.77 129.61,772.73 130.25,773.96C130.98,775.37 131.71,776.44 132.44,776.70C133.36,777.02 134.27,777.25 135.18,777.25C136.37,777.25 137.55,776.70 138.74,776.70C139.84,776.70 140.93,777.49 142.03,777.79C143.21,778.12 144.40,778.62 145.59,778.62C146.68,778.62 147.78,778.22 148.87,777.79C149.97,777.37 151.06,776.40 152.16,775.06C153.07,773.94 153.98,771.86 154.90,769.03C155.63,766.77 156.36,764.05 157.09,758.08C157.54,754.34 158.00,744.12 158.46,733.43C158.82,724.89 159.19,708.71 159.55,697.84C159.92,686.96 160.28,673.55 160.65,667.72C161.10,660.43 161.56,655.19 162.02,652.66C162.65,649.11 163.29,647.52 163.93,645.81C164.66,643.85 165.39,642.38 166.12,641.16C166.85,639.94 167.58,638.14 168.31,638.14C168.95,638.14 169.59,638.93 170.23,639.79C170.87,640.65 171.51,643.51 172.15,645.81C172.69,647.78 173.24,651.09 173.79,652.66C174.43,654.48 175.07,654.80 175.71,656.76C176.16,658.16 176.62,660.40 177.08,663.61C177.44,666.17 177.81,673.04 178.17,675.93C178.63,679.54 179.08,682.37 179.54,684.15C180.09,686.28 180.64,688.65 181.18,688.80C181.82,688.98 182.46,689.08 183.10,689.08C183.83,689.08 184.56,686.66 185.29,685.52C186.20,684.09 187.12,682.19 188.03,681.41C188.94,680.63 189.85,679.77 190.77,679.77C191.68,679.77 192.59,680.31 193.50,680.86C194.42,681.41 195.33,682.83 196.24,684.15C197.16,685.46 198.07,687.83 198.98,689.08C199.80,690.20 200.62,691.81 201.45,691.81C202.08,691.81 202.72,690.08 203.36,688.25C203.91,686.69 204.46,683.42 205.01,678.67C205.46,674.71 205.92,663.58 206.37,656.76C206.83,649.95 207.29,640.76 207.74,637.60C208.20,634.44 208.66,631.89 209.11,631.30C209.75,630.48 210.39,630.17 211.03,629.93C211.76,629.66 212.49,629.64 213.22,629.38C213.95,629.12 214.68,628.38 215.41,628.01C216.05,627.69 216.69,627.19 217.33,627.19C217.97,627.19 218.61,628.22 219.24,629.38C219.79,630.38 220.34,634.48 220.89,636.23C221.53,638.27 222.17,639.94 222.80,641.16C223.53,642.55 224.26,643.50 224.99,644.44C225.63,645.27 226.27,645.73 226.91,646.63C227.64,647.66 228.37,649.70 229.10,650.74C229.65,651.52 230.20,652.66 230.74,652.66C231.29,652.66 231.84,649.85 232.39,648.55C233.12,646.82 233.85,644.85 234.58,643.62C235.40,642.24 236.22,640.74 237.04,640.34C237.96,639.88 238.87,639.51 239.78,639.51C240.51,639.51 241.24,640.26 241.97,641.16C242.61,641.94 243.25,644.55 243.89,647.18C244.44,649.44 244.98,654.05 245.53,656.76C246.17,659.93 246.81,663.00 247.45,664.98C248.09,666.96 248.73,669.63 249.36,669.63C250.00,669.63 250.64,669.44 251.28,669.09C251.83,668.78 252.38,664.07 252.92,659.50C253.38,655.70 253.84,645.34 254.29,640.34C254.75,635.33 255.21,629.65 255.66,628.01C256.30,625.72 256.94,624.44 257.58,623.91C258.49,623.14 259.40,622.80 260.32,622.54C261.23,622.28 262.14,621.99 263.06,621.99C263.97,621.99 264.88,622.21 265.79,622.54C266.52,622.80 267.25,623.99 267.98,625.27C268.62,626.40 269.26,628.80 269.90,630.75C270.54,632.70 271.18,635.51 271.82,637.05C272.55,638.80 273.28,639.94 274.01,641.16C274.74,642.37 275.47,643.23 276.20,644.44C276.84,645.51 277.48,648.00 278.12,648.00C278.66,648.00 279.21,645.79 279.76,644.44C280.40,642.87 281.04,640.42 281.68,638.97C282.41,637.31 283.14,635.75 283.87,634.86C284.69,633.86 285.51,632.67 286.33,632.67C287.15,632.67 287.97,632.67 288.80,632.67C289.62,632.67 290.44,633.72 291.26,634.86C291.90,635.74 292.54,638.27 293.18,640.34C293.91,642.70 294.64,645.88 295.37,648.55C296.01,650.89 296.64,654.17 297.28,655.40C297.83,656.45 298.38,657.59 298.93,657.59C299.57,657.59 300.20,654.49 300.84,651.29C301.39,648.54 301.94,638.89 302.49,634.86C303.03,630.82 303.58,626.71 304.13,625.27C304.86,623.37 305.59,622.19 306.32,621.72C307.23,621.12 308.15,620.77 309.06,620.62C309.97,620.47 310.88,620.35 311.80,620.35C312.71,620.35 313.62,620.70 314.53,621.17C315.26,621.54 315.99,623.06 316.73,624.45C317.36,625.67 318.00,627.65 318.64,629.38C319.28,631.11 319.92,633.41 320.56,634.86C321.29,636.52 322.02,637.04 322.75,638.97C323.30,640.41 323.84,643.23 324.39,645.81C324.85,647.97 325.30,653.20 325.76,653.20C326.22,653.20 326.67,645.81 327.13,643.07C327.68,639.79 328.23,636.52 328.77,634.86C329.50,632.64 330.23,631.07 330.96,630.20C331.88,629.12 332.79,628.01 333.70,628.01C334.84,628.01 335.98,628.22 337.12,628.56C337.94,628.81 338.76,630.49 339.58,632.12C340.31,633.57 341.04,636.32 341.77,638.97C342.41,641.28 343.05,644.44 343.69,647.18C344.33,649.92 344.97,653.39 345.61,655.40C346.16,657.11 346.70,659.50 347.25,659.50C347.71,659.50 348.16,658.29 348.62,656.76C349.08,655.24 349.53,647.64 349.99,643.07C350.45,638.51 350.90,631.63 351.36,629.38C352.00,626.24 352.64,624.51 353.27,623.36C354.01,622.04 354.74,620.98 355.47,620.62C356.38,620.17 357.29,619.80 358.20,619.80C359.12,619.80 360.03,619.90 360.94,620.07C361.76,620.22 362.58,621.41 363.41,622.54C364.14,623.54 364.87,625.41 365.60,627.19C366.24,628.75 366.87,630.84 367.51,632.67C368.24,634.76 368.97,636.27 369.70,638.97C370.25,640.99 370.80,643.76 371.35,647.18C371.89,650.60 372.44,660.87 372.99,660.87C373.45,660.87 373.90,654.88 374.36,651.29C374.82,647.69 375.27,641.49 375.73,638.97C376.37,635.44 377.01,633.05 377.65,631.57C378.38,629.89 379.11,628.46 379.84,628.01C380.57,627.57 381.30,627.19 382.03,627.19C382.76,627.19 383.49,627.85 384.22,628.56C384.95,629.28 385.68,631.44 386.41,633.49C387.14,635.54 387.87,638.76 388.60,641.70C389.33,644.65 390.06,648.45 390.79,651.29C391.52,654.13 392.25,657.11 392.98,658.96C393.62,660.57 394.26,662.79 394.90,662.79C395.44,662.79 395.99,661.98 396.54,660.87C397.09,659.77 397.63,653.07 398.18,648.55C398.73,644.03 399.28,636.49 399.82,633.49C400.46,629.98 401.10,627.41 401.74,626.10C402.47,624.60 403.20,623.58 403.93,623.08C404.75,622.53 405.58,621.99 406.40,621.99C407.13,621.99 407.86,622.51 408.59,623.08C409.32,623.66 410.05,625.53 410.78,627.19C411.51,628.85 412.24,631.30 412.97,633.49C413.70,635.68 414.43,638.20 415.16,640.34C415.89,642.47 416.62,643.97 417.35,646.36C417.99,648.45 418.63,650.75 419.27,654.03C419.91,657.30 420.54,667.72 421.18,667.72C421.64,667.72 422.10,660.99 422.55,656.76C423.01,652.54 423.46,644.59 423.92,641.70C424.56,637.66 425.20,634.92 425.84,633.49C426.57,631.85 427.30,630.20 428.03,630.20C428.67,630.20 429.31,630.43 429.95,630.75C430.58,631.07 431.22,633.40 431.86,634.31C432.41,635.09 432.96,635.17 433.50,636.23C433.96,637.11 434.42,640.66 434.87,643.07C435.33,645.48 435.79,650.74 436.24,650.74C436.70,650.74 437.16,649.37 437.61,649.37C438.07,649.37 438.53,652.11 438.98,652.11C439.62,652.11 440.26,651.84 440.90,651.84C441.45,651.84 441.99,653.20 442.54,653.48C443.09,653.75 443.64,654.03 444.18,654.03C444.73,654.03 445.28,651.87 445.83,649.92C446.47,647.64 447.10,640.12 447.74,637.60C448.38,635.07 449.02,632.99 449.66,632.12C450.39,631.13 451.12,630.20 451.85,630.20C452.49,630.20 453.13,630.43 453.77,630.75C454.32,631.02 454.86,633.49 455.41,633.49C455.96,633.49 456.51,632.67 457.05,632.67C457.60,632.67 458.15,636.23 458.70,636.23C459.24,636.23 459.79,634.86 460.34,634.86C460.89,634.86 461.43,637.45 461.98,638.97C462.71,640.98 463.44,643.53 464.17,645.81C464.90,648.09 465.63,649.82 466.36,652.66C466.91,654.79 467.46,657.12 468.01,660.87C468.55,664.62 469.10,678.67 469.65,678.67C470.01,678.67 470.38,669.63 470.74,664.98C471.20,659.17 471.66,650.52 472.11,647.18C472.66,643.17 473.21,639.91 473.76,638.97C474.49,637.71 475.22,636.78 475.95,636.78C476.59,636.78 477.23,637.14 477.86,637.60C478.50,638.05 479.14,640.66 479.78,641.70C480.33,642.60 480.88,642.66 481.42,643.89C481.88,644.92 482.34,650.53 482.79,652.66C483.43,655.63 484.07,657.17 484.71,659.50C485.44,662.17 486.17,664.79 486.90,667.72C487.54,670.28 488.18,673.19 488.82,675.93C489.46,678.67 490.09,681.19 490.73,684.15C491.28,686.68 491.83,692.36 492.38,692.36C492.83,692.36 493.29,686.28 493.75,681.41C494.20,676.54 494.66,664.22 495.12,659.50C495.66,653.85 496.21,648.87 496.76,647.18C497.49,644.93 498.22,643.07 498.95,643.07C499.68,643.07 500.41,643.07 501.14,643.07C501.78,643.07 502.42,644.64 503.06,645.81C503.60,646.81 504.15,649.92 504.70,649.92C505.16,649.92 505.61,645.81 506.07,645.81C506.43,645.81 506.80,653.92 507.16,655.40C507.71,657.61 508.26,657.90 508.81,659.50C509.45,661.37 510.08,663.98 510.72,666.35C511.36,668.72 512.00,671.39 512.64,673.74C513.37,676.42 514.10,677.95 514.83,681.41C515.47,684.43 516.11,689.98 516.75,695.10C517.20,698.76 517.66,707.42 518.12,707.42C518.57,707.42 519.03,696.35 519.49,689.62C519.94,682.90 520.40,670.37 520.85,666.35C521.40,661.52 521.95,657.48 522.50,656.76C523.14,655.93 523.78,655.40 524.41,655.40C525.05,655.40 525.69,656.92 526.33,658.13C526.97,659.35 527.61,661.66 528.25,663.61C528.89,665.56 529.53,667.64 530.16,669.91C530.80,672.18 531.44,674.52 532.08,677.30C532.72,680.08 533.36,683.69 534.00,686.88C534.64,690.08 535.28,693.52 535.91,696.47C536.55,699.42 537.19,702.86 537.83,704.68C538.47,706.51 539.11,708.79 539.75,708.79C540.30,708.79 540.84,708.26 541.39,707.42C541.94,706.59 542.49,697.98 543.03,692.36C543.58,686.74 544.13,677.03 544.68,673.19C545.22,669.36 545.77,665.28 546.32,664.98C546.96,664.63 547.60,664.43 548.24,664.43C548.88,664.43 549.51,665.95 550.15,667.17C550.79,668.39 551.43,670.83 552.07,672.65C552.62,674.20 553.17,677.30 553.71,677.30C554.17,677.30 554.63,673.74 555.08,673.74C555.54,673.74 555.99,682.01 556.45,684.15C557.00,686.72 557.55,687.33 558.09,689.62C558.73,692.30 559.37,697.17 560.01,700.58C560.65,703.98 561.29,707.50 561.93,710.16C562.57,712.82 563.21,715.70 563.84,717.01C564.48,718.31 565.12,719.74 565.76,719.74C566.31,719.74 566.86,717.92 567.40,715.64C567.95,713.35 568.50,700.58 569.05,695.10C569.59,689.62 570.14,682.41 570.69,681.41C571.33,680.24 571.97,679.49 572.61,679.49C573.25,679.49 573.88,680.98 574.52,682.78C574.84,683.67 575.16,686.70 575.48,688.25C576.02,690.94 576.57,693.80 577.12,695.10C577.67,696.40 578.21,696.47 578.76,697.84C579.31,699.21 579.86,703.52 580.41,706.05C581.04,709.01 581.68,711.53 582.32,714.27C582.96,717.01 583.60,720.11 584.24,722.48C584.88,724.86 585.52,727.42 586.16,728.78C586.79,730.14 587.43,731.79 588.07,731.79C588.62,731.79 589.17,730.77 589.72,729.33C590.17,728.13 590.63,722.01 591.08,717.01C591.54,712.01 592.00,701.86 592.45,697.84C593.00,693.01 593.55,688.40 594.10,687.43C594.74,686.31 595.37,685.52 596.01,685.52C596.65,685.52 597.29,686.88 597.93,688.25C598.48,689.43 599.03,692.82 599.57,695.10C600.12,697.38 600.67,700.38 601.22,701.95C601.76,703.51 602.31,703.90 602.86,705.50C603.41,707.11 603.95,710.12 604.50,712.90C605.05,715.68 605.60,719.53 606.14,722.48C606.69,725.43 607.24,728.40 607.79,730.70C608.43,733.37 609.07,735.83 609.70,737.54C610.34,739.25 610.98,741.65 611.62,741.65C612.26,741.65 612.90,741.65 613.54,741.65C614.09,741.65 614.63,737.35 615.18,733.43C615.64,730.17 616.09,721.41 616.55,717.01C617.10,711.72 617.65,705.21 618.19,703.86C618.83,702.28 619.47,701.12 620.11,701.12C620.75,701.12 621.39,702.15 622.03,703.31C622.57,704.31 623.12,707.67 623.67,710.16C624.22,712.65 624.76,716.55 625.31,718.37C625.86,720.20 626.41,720.77 626.96,722.48C627.50,724.19 628.05,727.01 628.60,729.33C629.24,732.03 629.88,735.05 630.51,737.54C631.15,740.03 631.79,742.48 632.43,744.39C633.07,746.30 633.71,748.40 634.35,749.32C634.99,750.24 635.63,751.23 636.27,751.23C636.90,751.23 637.54,750.44 638.18,749.32C638.73,748.35 639.28,743.49 639.82,738.91C640.28,735.09 640.74,726.72 641.19,722.48C641.74,717.39 642.29,711.15 642.84,710.16C643.48,709.01 644.11,708.24 644.75,708.24C645.39,708.24 646.03,709.96 646.67,711.53C647.22,712.87 647.77,715.89 648.31,718.37C648.86,720.86 649.41,725.22 649.96,726.59C650.50,727.96 651.05,727.96 651.60,729.33C652.15,730.70 652.69,734.80 653.24,737.54C653.88,740.74 654.52,744.29 655.16,747.13C655.80,749.97 656.44,752.66 657.08,754.79C657.71,756.92 658.35,759.14 658.99,760.27C659.63,761.40 660.27,762.73 660.91,762.73C661.55,762.73 662.19,761.95 662.83,760.82C663.37,759.85 663.92,754.60 664.47,749.86C664.93,745.92 665.38,736.92 665.84,733.43C666.39,729.26 666.93,725.11 667.48,724.40C668.12,723.57 668.76,723.03 669.40,723.03C670.04,723.03 670.68,724.84 671.31,726.59C671.86,728.09 672.41,732.31 672.96,734.80C673.50,737.29 674.05,739.62 674.60,741.65C675.15,743.68 675.70,745.56 676.24,747.13C676.79,748.69 677.34,749.52 677.89,751.23C678.43,752.94 678.98,756.11 679.53,758.08C680.17,760.38 680.81,762.61 681.45,764.10C682.08,765.59 682.72,767.00 683.36,767.66C684.00,768.32 684.64,769.03 685.28,769.03C685.92,769.03 686.56,767.78 687.20,766.29C687.74,765.02 688.29,760.30 688.84,756.71C689.39,753.12 689.93,747.09 690.48,744.39C691.03,741.69 691.58,738.52 692.12,738.36C692.76,738.18 693.40,738.09 694.04,738.09C694.59,738.09 695.14,740.96 695.68,743.02C696.23,745.07 696.78,749.04 697.33,751.23C697.88,753.42 698.42,755.15 698.97,756.71C699.52,758.27 700.07,759.11 700.61,760.82C701.16,762.53 701.71,765.55 702.26,767.66C702.90,770.12 703.53,772.48 704.17,774.51C704.81,776.54 705.45,778.86 706.09,779.98C706.82,781.27 707.55,782.39 708.28,782.72C708.92,783.02 709.56,783.27 710.20,783.27C710.84,783.27 711.47,781.70 712.11,779.98C712.66,778.51 713.21,774.16 713.76,770.40C714.30,766.64 714.85,760.34 715.40,756.71C715.95,753.08 716.50,748.38 717.04,747.67C717.68,746.85 718.32,746.30 718.96,746.30C719.51,746.30 720.05,749.18 720.60,751.23C721.15,753.29 721.70,756.96 722.25,759.45C722.79,761.94 723.34,765.53 723.89,766.29C724.44,767.05 724.98,766.93 725.53,767.66C726.08,768.39 726.63,771.57 727.17,773.14C727.72,774.70 728.27,775.86 728.82,777.25C729.46,778.87 730.09,780.86 730.73,782.18C731.37,783.49 732.01,784.65 732.65,785.46C733.29,786.27 733.93,787.38 734.57,787.38C735.21,787.38 735.85,787.38 736.48,787.38C737.12,787.38 737.76,785.66 738.40,784.09C738.95,782.75 739.50,779.38 740.04,777.25C740.59,775.11 741.14,771.70 741.69,771.22C742.23,770.74 742.78,770.40 743.33,770.40C743.97,770.40 744.61,772.94 745.25,774.51C745.89,776.07 746.52,778.16 747.16,779.98C747.80,781.81 748.44,783.76 749.08,785.46C749.63,786.92 750.18,787.72 750.72,789.57C751.18,791.11 751.64,795.11 752.09,796.41C752.55,797.72 753.00,798.91 753.46,799.15C754.10,799.49 754.74,799.42 755.38,799.70C756.11,800.02 756.84,801.26 757.57,801.89C758.30,802.52 759.03,803.23 759.76,803.53C760.40,803.80 761.04,804.08 761.68,804.08C762.22,804.08 762.77,801.42 763.32,799.15C763.87,796.89 764.41,791.85 764.96,788.20C765.51,784.55 766.06,780.25 766.60,777.25C767.15,774.24 767.70,770.46 768.25,769.58C768.70,768.84 769.16,768.21 769.62,768.21C770.16,768.21 770.71,771.23 771.26,773.14C771.81,775.05 772.35,778.68 772.90,779.98C773.45,781.29 774.00,781.33 774.55,782.72C775.00,783.88 775.46,789.57 775.91,789.57C776.37,789.57 776.83,784.09 777.28,784.09C777.74,784.09 778.20,791.76 778.65,793.68C779.11,795.59 779.57,797.78 780.02,797.78C780.57,797.78 781.12,795.04 781.66,795.04C782.30,795.04 782.94,796.61 783.58,796.96C784.31,797.36 785.04,797.78 785.77,797.78C786.59,797.78 787.42,796.96 788.24,796.96C789.15,796.96 790.06,796.96 790.97,796.96C791.89,796.96 792.80,797.08 793.71,797.24C794.63,797.39 795.54,797.96 796.45,798.60C797.36,799.25 798.28,800.67 799.19,801.89C800.10,803.11 801.01,804.54 801.93,806.00C802.84,807.45 803.75,809.07 804.67,810.65C805.49,812.08 806.31,814.40 807.13,815.03C807.86,815.60 808.59,816.13 809.32,816.13C809.87,816.13 810.42,814.63 810.96,812.84C811.42,811.36 811.88,806.27 812.33,801.89C812.79,797.51 813.25,790.29 813.70,785.46C814.43,777.74 815.16,770.18 815.89,765.11C816.45,761.22 817.01,757.06 817.58,755.64C818.14,754.23 818.70,752.91 819.26,752.91C819.68,752.91 820.10,753.37 820.52,753.96C820.94,754.56 821.36,757.43 821.78,759.85C822.21,762.28 822.63,766.00 823.05,769.32C823.47,772.65 823.89,776.73 824.31,779.85C824.73,782.96 825.15,785.19 825.57,788.26C825.92,790.82 826.27,796.68 826.62,796.68C826.98,796.68 827.33,792.47 827.68,792.47C828.03,792.47 828.38,799.36 828.73,799.84C829.22,800.50 829.71,800.41 830.20,800.89C830.83,801.51 831.46,803.12 832.10,804.05C832.80,805.07 833.50,806.27 834.20,806.78C834.90,807.29 835.60,807.83 836.30,807.83C837.01,807.83 837.71,807.56 838.41,807.20C838.97,806.91 839.53,805.91 840.09,804.68C840.58,803.59 841.07,800.69 841.57,798.78C842.13,796.61 842.69,793.52 843.25,792.47C843.81,791.42 844.37,790.37 844.93,790.37C845.42,790.37 845.91,791.09 846.41,791.84C846.90,792.59 847.39,795.27 847.88,796.68C848.58,798.69 849.28,800.53 849.98,801.94C850.82,803.63 851.67,805.39 852.51,806.15C853.42,806.97 854.33,807.24 855.24,807.83C856.16,808.43 857.07,809.73 857.98,809.73C858.68,809.73 859.38,809.59 860.08,809.31C860.58,809.11 861.07,805.94 861.56,802.99C862.05,800.05 862.54,793.70 863.03,788.26C863.59,782.04 864.15,773.00 864.71,767.22C865.27,761.44 865.84,755.43 866.40,752.49C866.96,749.54 867.52,747.15 868.08,746.18C868.57,745.32 869.06,744.49 869.55,744.49C870.04,744.49 870.54,745.55 871.03,746.18C871.52,746.80 872.01,747.77 872.50,748.28C872.92,748.72 873.34,748.69 873.76,749.33C874.11,749.87 874.46,753.60 874.81,756.70C875.17,759.80 875.52,769.32 875.87,769.32C876.08,769.32 876.29,763.01 876.50,763.01C876.78,763.01 877.06,774.77 877.34,779.85C877.55,783.65 877.76,790.37 877.97,790.37C878.32,790.37 878.67,786.16 879.02,786.16C879.37,786.16 879.73,789.04 880.08,790.37C880.57,792.23 881.06,794.41 881.55,795.63C882.11,797.02 882.67,798.04 883.23,798.78C883.93,799.71 884.64,800.89 885.34,800.89C885.97,800.89 886.60,800.49 887.23,799.84C887.72,799.33 888.21,795.77 888.70,792.47C889.12,789.64 889.55,782.68 889.97,779.85C890.46,776.54 890.95,773.22 891.44,772.48C892.00,771.63 892.56,771.01 893.12,771.01C893.68,771.01 894.25,771.85 894.81,771.85C895.30,771.85 895.79,771.01 896.28,771.01C896.77,771.01 897.26,771.68 897.75,772.48C898.24,773.28 898.73,776.41 899.23,778.79C899.79,781.51 900.35,785.29 900.91,788.26C901.47,791.23 902.03,794.28 902.59,796.68C903.15,799.09 903.71,801.42 904.28,802.99C904.91,804.76 905.54,806.33 906.17,807.20C906.87,808.18 907.57,808.43 908.27,809.31C908.91,810.10 909.54,812.46 910.17,812.46C910.59,812.46 911.01,810.10 911.43,807.20C911.78,804.78 912.13,794.34 912.48,788.26C912.90,780.97 913.32,772.02 913.75,767.22C914.24,761.61 914.73,756.93 915.22,754.59C915.71,752.26 916.20,750.01 916.69,749.75C917.18,749.49 917.67,749.33 918.16,749.33C918.59,749.33 919.01,751.10 919.43,752.49C919.92,754.11 920.41,757.59 920.90,759.85C921.39,762.12 921.88,766.17 922.37,766.17C922.79,766.17 923.22,763.01 923.64,763.01C924.06,763.01 924.48,763.99 924.90,765.11C925.32,766.24 925.74,770.95 926.16,773.53C926.72,776.97 927.28,780.24 927.85,783.00C928.41,785.76 928.97,788.24 929.53,790.37C930.16,792.76 930.79,795.28 931.42,796.68C932.05,798.08 932.69,799.84 933.32,799.84C933.88,799.84 934.44,799.84 935.00,799.84C935.42,799.84 935.84,797.05 936.26,794.58C936.68,792.10 937.10,785.26 937.53,781.95C938.02,778.09 938.51,773.89 939.00,772.48C939.49,771.06 939.98,769.96 940.47,769.74C941.03,769.49 941.59,769.32 942.15,769.32C942.72,769.32 943.28,769.85 943.84,770.38C944.40,770.90 944.96,772.13 945.52,773.53C946.08,774.93 946.64,777.44 947.21,779.85C947.77,782.25 948.33,785.64 948.89,788.26C949.45,790.88 950.01,793.36 950.57,795.63C951.13,797.89 951.69,800.37 952.26,801.94C952.89,803.71 953.52,805.59 954.15,806.15C954.78,806.71 955.41,807.20 956.04,807.20C956.60,807.20 957.17,806.36 957.73,805.10C958.15,804.15 958.57,799.09 958.99,794.58C959.41,790.07 959.83,780.71 960.25,775.64C960.74,769.71 961.23,763.85 961.73,760.91C962.22,757.96 962.71,755.55 963.20,754.59C963.76,753.49 964.32,752.49 964.88,752.49C965.37,752.49 965.86,752.66 966.36,752.91C966.85,753.16 967.34,755.12 967.83,756.70C968.32,758.28 968.81,760.74 969.30,763.01C969.72,764.96 970.14,769.32 970.56,769.32C970.91,769.32 971.27,767.22 971.62,767.22C971.97,767.22 972.32,773.53 972.67,773.53C973.02,773.53 973.37,771.43 973.72,771.43C974.07,771.43 974.42,777.49 974.77,779.85C975.26,783.15 975.75,785.64 976.25,788.26C976.81,791.26 977.37,794.28 977.93,796.68C978.49,799.09 979.05,801.69 979.61,802.99C980.24,804.46 980.88,805.88 981.51,806.15C982.07,806.39 982.63,806.57 983.19,806.57C983.68,806.57 984.17,803.77 984.66,800.89C985.08,798.42 985.51,790.00 985.93,786.16C986.35,782.32 986.77,777.62 987.19,776.69C987.75,775.44 988.31,774.82 988.87,774.58C989.43,774.35 989.99,774.16 990.56,774.16C991.05,774.16 991.54,775.55 992.03,776.69C992.52,777.83 993.01,779.91 993.50,781.95C994.06,784.28 994.62,787.56 995.19,790.37C995.75,793.17 996.31,796.32 996.87,798.78C997.50,801.55 998.13,804.36 998.76,806.15C999.39,807.94 1000.03,809.63 1000.66,810.36C1001.29,811.09 1001.92,811.83 1002.55,811.83C1003.18,811.83 1003.81,811.68 1004.44,811.41C1005.01,811.17 1005.57,808.47 1006.13,805.10C1006.55,802.57 1006.97,793.45 1007.39,788.26C1007.88,782.21 1008.37,775.47 1008.86,771.43C1009.35,767.39 1009.85,764.04 1010.34,761.96C1010.90,759.58 1011.46,757.70 1012.02,756.70C1012.58,755.69 1013.14,754.59 1013.70,754.59C1014.19,754.59 1014.69,755.64 1015.18,756.70C1015.67,757.75 1016.16,760.43 1016.65,763.01C1017.07,765.22 1017.49,769.27 1017.91,771.43C1018.33,773.59 1018.75,776.69 1019.18,776.69C1019.53,776.69 1019.88,774.58 1020.23,774.58C1020.58,774.58 1020.93,781.95 1021.28,781.95C1021.63,781.95 1021.98,777.74 1022.33,777.74C1022.75,777.74 1023.17,785.40 1023.59,788.26C1024.09,791.61 1024.58,794.06 1025.07,796.68C1025.63,799.68 1026.19,803.23 1026.75,805.10C1027.31,806.97 1027.87,808.37 1028.43,809.31C1029.00,810.24 1029.56,811.41 1030.12,811.41C1030.61,811.41 1031.10,810.62 1031.59,809.31C1031.94,808.37 1032.29,800.83 1032.64,796.68C1033.06,791.70 1033.48,784.62 1033.91,781.95C1034.40,778.83 1034.89,776.69 1035.38,775.64C1035.87,774.58 1036.36,773.86 1036.85,773.53C1037.34,773.21 1037.83,772.90 1038.32,772.90C1038.82,772.90 1039.31,775.01 1039.80,776.69C1040.22,778.13 1040.64,781.73 1041.06,783.00C1041.55,784.49 1042.04,784.63 1042.53,786.16C1043.02,787.69 1043.52,791.95 1044.01,794.58C1044.57,797.57 1045.13,800.37 1045.69,802.99C1046.25,805.61 1046.81,808.44 1047.37,810.36C1048.01,812.51 1048.64,814.48 1049.27,815.62C1049.90,816.76 1050.53,818.14 1051.16,818.14C1051.79,818.14 1052.42,818.14 1053.06,818.14C1053.55,818.14 1054.04,815.25 1054.53,812.46C1054.91,810.28 1055.30,805.65 1055.68,800.89C1056.03,796.55 1056.38,788.81 1056.73,784.05C1057.15,778.35 1057.58,772.58 1058.00,769.32C1058.49,765.52 1058.98,762.90 1059.47,760.91C1059.96,758.91 1060.45,756.91 1060.94,756.28C1061.36,755.73 1061.78,755.22 1062.21,755.22C1062.63,755.22 1063.05,756.47 1063.47,757.75C1063.82,758.82 1064.17,761.54 1064.52,764.06C1064.87,766.59 1065.22,770.56 1065.57,773.53C1065.92,776.50 1066.27,779.24 1066.62,781.95C1066.91,784.12 1067.19,788.26 1067.47,788.26C1067.75,788.26 1068.03,783.00 1068.31,783.00C1068.59,783.00 1068.87,790.37 1069.15,790.37C1069.43,790.37 1069.71,785.11 1069.99,785.11C1070.27,785.11 1070.55,791.42 1070.83,793.52C1071.25,796.68 1071.68,798.46 1072.10,800.89C1072.59,803.72 1073.08,807.07 1073.57,809.31C1074.13,811.86 1074.69,814.22 1075.25,815.62C1075.81,817.02 1076.37,818.25 1076.94,818.78C1077.50,819.30 1078.06,819.83 1078.62,819.83C1079.04,819.83 1079.46,818.47 1079.88,816.67C1080.16,815.47 1080.44,811.04 1080.72,807.20C1081.00,803.36 1081.29,796.08 1081.57,792.47C1081.92,787.96 1082.27,784.04 1082.62,781.95C1083.04,779.44 1083.46,777.83 1083.88,776.69C1084.30,775.55 1084.72,774.55 1085.14,774.16C1085.49,773.84 1085.84,773.53 1086.20,773.53C1086.48,773.53 1086.76,775.22 1087.04,776.69C1087.32,778.16 1087.60,782.04 1087.88,784.05C1088.23,786.57 1088.58,789.31 1088.93,790.37C1089.28,791.42 1089.63,791.48 1089.98,792.47C1090.40,793.66 1090.82,796.54 1091.25,798.78C1091.74,801.40 1092.23,804.58 1092.72,807.20C1093.21,809.82 1093.70,812.46 1094.19,814.57C1094.75,816.98 1095.31,819.46 1095.88,820.88C1096.51,822.48 1097.14,823.88 1097.77,824.46C1098.47,825.10 1099.17,825.72 1099.87,825.72C1100.51,825.72 1101.14,825.50 1101.77,825.09C1102.19,824.81 1102.61,822.68 1103.03,819.83C1103.31,817.93 1103.59,812.01 1103.87,807.20C1104.15,802.39 1104.43,794.62 1104.71,790.37C1105.06,785.06 1105.42,780.77 1105.77,777.74C1106.19,774.10 1106.61,771.53 1107.03,769.32C1107.52,766.75 1108.01,763.90 1108.50,763.01C1108.99,762.12 1109.48,761.33 1109.97,761.33C1110.40,761.33 1110.82,762.65 1111.24,764.06C1111.59,765.24 1111.94,768.67 1112.29,771.43C1112.64,774.19 1112.99,778.14 1113.34,780.90C1113.69,783.66 1114.04,785.52 1114.39,788.26C1114.67,790.45 1114.96,795.63 1115.24,795.63C1115.52,795.63 1115.80,791.42 1116.08,791.42C1116.36,791.42 1116.64,799.84 1116.92,799.84C1117.20,799.84 1117.48,794.58 1117.76,794.58C1118.04,794.58 1118.32,799.95 1118.60,801.94C1119.02,804.93 1119.44,807.04 1119.87,809.31C1120.36,811.96 1120.85,814.68 1121.34,816.67C1121.90,818.94 1122.46,821.04 1123.02,822.35C1123.65,823.83 1124.28,825.04 1124.92,825.72C1125.55,826.40 1126.18,827.19 1126.81,827.19C1127.23,827.19 1127.65,825.87 1128.07,824.04C1128.35,822.81 1128.63,817.61 1128.91,813.52C1129.19,809.42 1129.48,802.39 1129.76,798.78C1130.11,794.28 1130.46,790.87 1130.81,788.26C1131.23,785.14 1131.65,782.37 1132.07,780.90C1132.49,779.42 1132.91,777.74 1133.33,777.74C1133.61,777.74 1133.89,777.74 1134.18,777.74C1134.46,777.74 1134.74,780.84 1135.02,783.00C1135.30,785.16 1135.58,789.30 1135.86,791.42C1136.21,794.07 1136.56,796.22 1136.91,797.73C1137.33,799.55 1137.75,800.38 1138.17,801.94C1138.59,803.50 1139.02,805.29 1139.44,807.20C1139.93,809.43 1140.42,812.27 1140.91,814.57C1141.47,817.19 1142.03,820.02 1142.59,821.93C1143.22,824.09 1143.86,826.07 1144.49,827.19C1145.19,828.44 1145.89,829.50 1146.59,829.93C1147.29,830.36 1147.99,830.77 1148.70,830.77C1149.33,830.77 1149.96,830.50 1150.59,829.93C1150.94,829.61 1151.29,826.95 1151.64,824.04C1151.92,821.71 1152.20,815.94 1152.48,811.41C1152.76,806.88 1153.04,800.70 1153.32,796.68C1153.68,791.65 1154.03,786.84 1154.38,784.05C1154.80,780.71 1155.22,778.16 1155.64,776.69C1156.06,775.22 1156.48,773.53 1156.90,773.53C1157.25,773.53 1157.60,773.69 1157.95,773.95C1158.31,774.21 1158.66,776.66 1159.01,778.79C1159.36,780.93 1159.71,785.29 1160.06,788.26C1160.41,791.23 1160.76,794.06 1161.11,796.68C1161.46,799.30 1161.81,801.73 1162.16,804.05C1162.44,805.89 1162.72,809.31 1163.01,809.31C1163.29,809.31 1163.57,805.10 1163.85,805.10C1164.13,805.10 1164.41,812.46 1164.69,812.46C1164.97,812.46 1165.25,809.31 1165.53,809.31C1165.88,809.31 1166.23,814.78 1166.58,816.67C1167.07,819.32 1167.56,821.20 1168.06,822.98C1168.62,825.02 1169.18,827.02 1169.74,828.25C1170.37,829.63 1171.00,830.91 1171.63,831.40C1172.33,831.95 1173.04,832.45 1173.74,832.45C1174.30,832.45 1174.86,832.09 1175.42,831.40C1175.77,830.97 1176.12,827.43 1176.47,824.04C1176.75,821.32 1177.03,815.17 1177.31,811.41C1177.67,806.72 1178.02,801.82 1178.37,798.78C1178.79,795.15 1179.21,792.04 1179.63,790.37C1180.05,788.69 1180.47,786.94 1180.89,786.79C1181.24,786.66 1181.59,786.58 1181.94,786.58C1182.23,786.58 1182.51,788.77 1182.79,790.37C1183.14,792.37 1183.49,795.98 1183.84,798.78C1184.19,801.59 1184.54,805.26 1184.89,807.20C1185.31,809.53 1185.73,810.71 1186.15,812.46C1186.57,814.22 1186.99,815.82 1187.42,817.72C1187.91,819.95 1188.40,823.19 1188.89,825.09C1189.45,827.26 1190.01,829.12 1190.57,830.35C1191.20,831.73 1191.84,832.88 1192.47,833.51C1193.17,834.20 1193.87,834.86 1194.57,834.98C1195.27,835.10 1195.97,835.19 1196.68,835.19C1197.31,835.19 1197.94,834.58 1198.57,833.51C1198.92,832.91 1199.27,829.24 1199.62,826.14C1199.97,823.04 1200.32,817.72 1200.67,813.52C1201.02,809.31 1201.37,803.92 1201.73,800.89C1202.15,797.25 1202.57,794.34 1202.99,792.47C1203.41,790.60 1203.83,788.68 1204.25,788.26C1204.60,787.91 1204.95,787.63 1205.30,787.63C1205.65,787.63 1206.00,789.68 1206.36,791.42C1206.71,793.16 1207.06,797.03 1207.41,799.84C1207.76,802.64 1208.11,805.85 1208.46,808.25C1208.81,810.66 1209.16,812.42 1209.51,814.57C1209.79,816.29 1210.07,819.83 1210.35,819.83C1210.63,819.83 1210.91,816.67 1211.20,816.67C1211.48,816.67 1211.76,820.51 1212.04,821.93C1212.46,824.07 1212.88,825.76 1213.30,827.19C1213.79,828.87 1214.28,830.36 1214.77,831.40C1215.40,832.75 1216.04,833.87 1216.67,834.56C1217.37,835.32 1218.07,836.02 1218.77,836.24C1219.47,836.47 1220.17,836.66 1220.88,836.66C1221.44,836.66 1222.00,835.78 1222.56,834.56C1222.91,833.79 1223.26,830.88 1223.61,828.25C1223.96,825.62 1224.31,820.92 1224.66,817.72C1225.08,813.89 1225.51,809.83 1225.93,807.20C1226.35,804.57 1226.77,802.29 1227.19,800.89C1227.61,799.49 1228.03,797.73 1228.45,797.73C1228.80,797.73 1229.15,797.73 1229.50,797.73C1229.78,797.73 1230.06,800.23 1230.35,801.94C1230.70,804.08 1231.05,807.74 1231.40,810.36C1231.75,812.98 1232.10,816.12 1232.45,817.72C1232.87,819.65 1233.29,820.73 1233.71,821.93C1234.13,823.14 1234.55,825.09 1234.97,825.09C1235.33,825.09 1235.68,823.62 1236.03,823.62C1236.45,823.62 1236.87,827.82 1237.29,829.30C1237.78,831.02 1238.27,832.46 1238.76,833.51C1239.39,834.85 1240.03,835.98 1240.66,836.66C1241.36,837.43 1242.06,838.12 1242.76,838.35C1243.46,838.57 1244.16,838.77 1244.87,838.77C1245.43,838.77 1245.99,838.11 1246.55,837.08C1246.90,836.44 1247.25,833.09 1247.60,830.35C1247.95,827.61 1248.30,822.85 1248.65,819.83C1249.07,816.21 1249.49,812.61 1249.92,810.36C1250.34,808.10 1250.76,806.24 1251.18,805.10C1251.60,803.96 1252.02,802.57 1252.44,802.57C1252.79,802.57 1253.14,802.57 1253.49,802.57C1253.77,802.57 1254.05,805.39 1254.34,807.20C1254.69,809.47 1255.04,813.21 1255.39,815.62C1255.74,818.02 1256.09,820.68 1256.44,821.93C1256.86,823.44 1257.28,824.04 1257.70,825.09C1258.12,826.14 1258.54,827.04 1258.96,828.25C1259.39,829.45 1259.81,831.31 1260.23,832.45C1260.79,833.98 1261.35,835.30 1261.91,836.24C1262.54,837.30 1263.17,838.33 1263.80,838.77C1264.58,839.30 1265.35,839.82 1266.12,839.82C1266.89,839.82 1267.66,839.82 1268.43,839.82C1269.07,839.82 1269.70,839.28 1270.33,838.35C1270.68,837.83 1271.03,834.77 1271.38,832.45C1271.73,830.14 1272.08,826.59 1272.43,824.04C1272.85,820.97 1273.27,817.78 1273.70,815.62C1274.12,813.46 1274.54,811.39 1274.96,810.36C1275.45,809.15 1275.94,807.98 1276.43,807.83C1276.85,807.71 1277.27,807.62 1277.69,807.62C1278.04,807.62 1278.40,809.74 1278.75,811.41C1279.10,813.08 1279.45,816.51 1279.80,818.78C1280.15,821.04 1280.50,823.84 1280.85,825.09C1281.27,826.59 1281.69,827.31 1282.11,828.25C1282.46,829.02 1282.81,830.35 1283.16,830.35C1283.59,830.35 1284.01,829.30 1284.43,829.30C1284.85,829.30 1285.27,832.30 1285.69,833.51C1286.25,835.12 1286.81,836.90 1287.37,837.72C1288.08,838.73 1288.78,839.53 1289.48,839.82C1290.32,840.16 1291.16,840.45 1292.00,840.45C1292.70,840.45 1293.41,840.22 1294.11,839.82C1294.63,839.52 1295.16,836.69 1295.68,834.51C1296.16,832.55 1296.63,829.29 1297.10,826.93C1297.58,824.58 1298.05,821.78 1298.52,820.30C1299.00,818.83 1299.47,817.65 1299.95,816.99C1300.36,816.42 1300.77,815.76 1301.18,815.76C1301.49,815.76 1301.81,816.28 1302.12,816.99C1302.34,817.49 1302.57,819.88 1302.79,821.25C1303.10,823.22 1303.42,825.67 1303.73,826.93C1304.05,828.20 1304.37,829.14 1304.68,829.78C1305.00,830.41 1305.31,830.96 1305.63,831.20C1305.94,831.43 1306.26,831.40 1306.58,831.67C1306.89,831.94 1307.21,833.56 1307.52,834.51C1307.84,835.46 1308.15,836.62 1308.47,837.35C1308.94,838.46 1309.42,839.56 1309.89,840.01C1310.52,840.59 1311.15,840.97 1311.78,841.14C1312.73,841.40 1313.68,841.62 1314.63,841.62C1315.57,841.62 1316.52,841.62 1317.47,841.62C1318.10,841.62 1318.73,841.24 1319.36,840.67C1319.84,840.24 1320.31,837.52 1320.78,835.46C1321.26,833.40 1321.73,830.41 1322.20,827.88C1322.68,825.36 1323.15,822.14 1323.62,820.30C1324.03,818.71 1324.44,817.05 1324.86,816.52C1325.23,816.02 1325.61,815.57 1325.99,815.57C1326.37,815.57 1326.75,816.15 1327.13,816.99C1327.38,817.55 1327.63,820.73 1327.89,822.20C1328.20,824.04 1328.52,825.75 1328.83,826.93C1329.15,828.12 1329.46,828.91 1329.78,829.78C1330.16,830.81 1330.54,832.62 1330.92,832.62C1331.17,832.62 1331.42,831.67 1331.67,831.67C1331.99,831.67 1332.31,833.75 1332.62,834.51C1332.94,835.27 1333.25,835.77 1333.57,836.41C1334.04,837.35 1334.52,838.61 1334.99,839.25C1335.62,840.10 1336.25,840.83 1336.88,841.14C1337.67,841.53 1338.46,841.90 1339.25,841.90C1340.20,841.90 1341.15,841.90 1342.09,841.90C1342.88,841.90 1343.67,841.67 1344.46,841.14C1344.78,840.93 1345.09,838.96 1345.41,837.35C1345.72,835.75 1346.04,832.93 1346.36,830.72C1346.67,828.51 1346.99,825.36 1347.30,824.09C1347.62,822.83 1347.93,821.54 1348.25,821.44C1348.66,821.32 1349.07,821.25 1349.48,821.25C1349.80,821.25 1350.11,822.08 1350.43,823.15C1350.65,823.89 1350.87,827.12 1351.09,828.83C1351.41,831.28 1351.72,833.85 1352.04,835.46C1352.35,837.07 1352.67,838.87 1352.99,839.25C1353.46,839.82 1353.93,840.19 1354.41,840.19C1354.72,840.19 1355.04,838.09 1355.35,837.83C1355.67,837.56 1355.98,837.35 1356.30,837.35C1356.62,837.35 1356.93,838.30 1357.25,838.30C1357.56,838.30 1357.88,837.54 1358.19,837.54C1358.51,837.54 1358.83,838.83 1359.14,839.25C1359.62,839.87 1360.09,840.35 1360.56,840.67C1361.19,841.10 1361.83,841.49 1362.46,841.62C1363.25,841.77 1364.04,841.90 1364.82,841.90C1365.77,841.90 1366.72,841.66 1367.67,841.43C1368.30,841.27 1368.93,841.18 1369.56,840.67C1369.88,840.41 1370.19,838.23 1370.51,836.41C1370.89,834.21 1371.27,830.54 1371.64,826.93C1371.96,823.93 1372.28,819.99 1372.59,816.52C1372.91,813.04 1373.22,809.40 1373.54,806.10C1373.79,803.46 1374.04,799.45 1374.30,798.52C1374.55,797.59 1374.80,796.82 1375.05,796.82C1375.37,796.82 1375.69,797.10 1376.00,797.57C1376.22,797.91 1376.44,800.37 1376.66,802.31C1376.89,804.25 1377.11,807.69 1377.33,809.89C1377.58,812.40 1377.83,814.91 1378.08,816.52C1378.34,818.12 1378.59,819.71 1378.84,820.30C1379.16,821.05 1379.47,820.93 1379.79,821.73C1380.01,822.28 1380.23,824.36 1380.45,825.99C1380.67,827.61 1380.89,830.07 1381.12,831.67C1381.31,833.04 1381.49,835.27 1381.68,835.27C1382.00,835.27 1382.32,834.04 1382.63,834.04C1383.01,834.04 1383.39,834.97 1383.77,835.46C1384.24,836.07 1384.71,836.81 1385.19,837.35C1385.82,838.08 1386.45,838.65 1387.08,839.25C1387.71,839.85 1388.35,840.55 1388.98,840.95C1389.77,841.45 1390.56,841.89 1391.34,842.09C1392.29,842.33 1393.24,842.56 1394.19,842.56C1395.13,842.56 1396.08,842.56 1397.03,842.56C1397.97,842.56 1398.92,842.56 1399.87,842.56C1400.82,842.56 1401.76,842.75 1402.71,842.75C1403.18,842.75 1403.66,842.48 1404.13,842.09C1404.45,841.83 1404.76,840.10 1405.08,839.72C1405.49,839.23 1405.90,838.77 1406.31,838.77C1406.85,838.77 1407.38,838.92 1407.92,839.06C1408.39,839.18 1408.87,839.53 1409.34,839.72C1409.97,839.98 1410.60,840.16 1411.24,840.38" fill="none" stroke="#0b8742" stroke-width="1.7" stroke-linejoin="round" stroke-linecap="round"/>
<path d="M97.75,608.24 H1411.40 V854.64 H97.75 Z M97.75,608.24 v-8.3 M97.75,854.64 v8.3 M144.67,608.24 v-4.2 M144.67,854.64 v4.2 M191.58,608.24 v-4.2 M191.58,854.64 v4.2 M238.50,608.24 v-4.2 M238.50,854.64 v4.2 M285.41,608.24 v-4.2 M285.41,854.64 v4.2 M332.33,608.24 v-8.3 M332.33,854.64 v8.3 M379.25,608.24 v-4.2 M379.25,854.64 v4.2 M426.16,608.24 v-4.2 M426.16,854.64 v4.2 M473.08,608.24 v-4.2 M473.08,854.64 v4.2 M519.99,608.24 v-4.2 M519.99,854.64 v4.2 M566.91,608.24 v-8.3 M566.91,854.64 v8.3 M613.83,608.24 v-4.2 M613.83,854.64 v4.2 M660.74,608.24 v-4.2 M660.74,854.64 v4.2 M707.66,608.24 v-4.2 M707.66,854.64 v4.2 M754.58,608.24 v-4.2 M754.58,854.64 v4.2 M801.49,608.24 v-8.3 M801.49,854.64 v8.3 M848.41,608.24 v-4.2 M848.41,854.64 v4.2 M895.32,608.24 v-4.2 M895.32,854.64 v4.2 M942.24,608.24 v-4.2 M942.24,854.64 v4.2 M989.16,608.24 v-4.2 M989.16,854.64 v4.2 M1036.07,608.24 v-8.3 M1036.07,854.64 v8.3 M1082.99,608.24 v-4.2 M1082.99,854.64 v4.2 M1129.90,608.24 v-4.2 M1129.90,854.64 v4.2 M1176.82,608.24 v-4.2 M1176.82,854.64 v4.2 M1223.74,608.24 v-4.2 M1223.74,854.64 v4.2 M1270.65,608.24 v-8.3 M1270.65,854.64 v8.3 M1317.57,608.24 v-4.2 M1317.57,854.64 v4.2 M1364.48,608.24 v-4.2 M1364.48,854.64 v4.2 M1411.40,608.24 v-4.2 M1411.40,854.64 v4.2 M97.75,854.64 h-8.5 M1411.40,854.64 h8.5 M97.75,834.11 h-4.3 M1411.40,834.11 h4.3 M97.75,813.57 h-8.5 M1411.40,813.57 h8.5 M97.75,793.04 h-4.3 M1411.40,793.04 h4.3 M97.75,772.51 h-8.5 M1411.40,772.51 h8.5 M97.75,751.97 h-4.3 M1411.40,751.97 h4.3 M97.75,731.44 h-8.5 M1411.40,731.44 h8.5 M97.75,710.91 h-4.3 M1411.40,710.91 h4.3 M97.75,690.37 h-8.5 M1411.40,690.37 h8.5 M97.75,669.84 h-4.3 M1411.40,669.84 h4.3 M97.75,649.31 h-8.5 M1411.40,649.31 h8.5 M97.75,628.77 h-4.3 M1411.40,628.77 h4.3 M97.75,608.24 h-8.5 M1411.40,608.24 h8.5" fill="none" stroke="#000" stroke-width="1.3"/>
<g font-family="'Liberation Serif',serif" font-size="35.4" text-anchor="end" fill="#000">
<text x="74.3" y="866.9">0</text>
<text x="74.3" y="825.8">5</text>
<text x="74.3" y="784.8">10</text>
<text x="74.3" y="743.7">15</text>
<text x="74.3" y="702.6">20</text>
<text x="74.3" y="661.6">25</text>
<text x="74.3" y="620.5">30</text>
</g>
<text transform="translate(25.2,732.2) rotate(-90)" font-family="'Liberation Serif',serif" font-size="34.3" text-anchor="middle" fill="#000">Salinity(psu)</text>
<text x="0" y="589.5" font-family="'Liberation Sans',sans-serif" font-weight="bold" font-size="29.7" fill="#000">C</text>
<g font-family="'Liberation Serif',serif" font-size="35.4" text-anchor="middle" fill="#000">
<text x="98.5" y="902.9">0</text>
<text x="333.1" y="902.9">5</text>
<text x="567.7" y="902.9">10</text>
<text x="802.3" y="902.9">15</text>
<text x="1036.9" y="902.9">20</text>
<text x="1271.5" y="902.9">25</text>
</g>
<text x="754.3" y="942.7" font-family="'Liberation Serif',serif" font-size="34.4" text-anchor="middle" fill="#000">Time(Day)</text>
</svg>
</body></html>
